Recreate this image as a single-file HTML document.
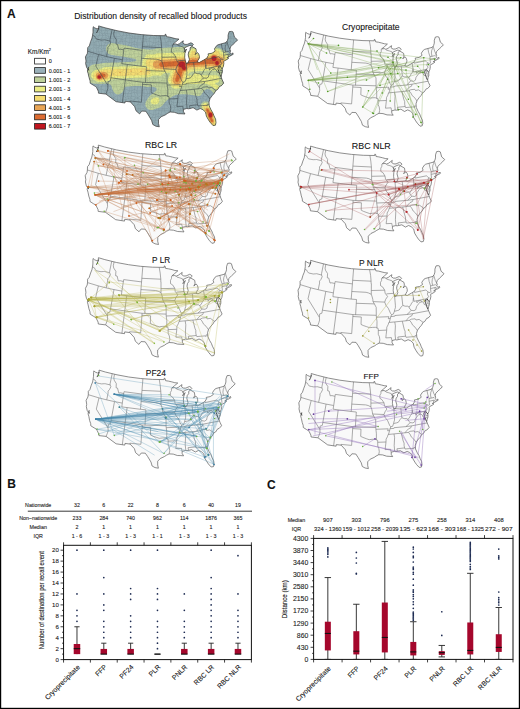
<!DOCTYPE html>
<html><head><meta charset="utf-8"><style>
html,body{margin:0;padding:0;background:#fff;}
svg{display:block;}
text{font-family:'Liberation Sans',sans-serif;stroke:#222;stroke-width:0.18px;stroke-opacity:0.6;}
</style></head><body>
<svg width="520" height="709" viewBox="0 0 520 709">
<rect x="0" y="0" width="520" height="709" fill="#fff"/>
<path d="M93.3,26.7L93.0,28.6L93.0,32.3L92.6,35.2L92.0,38.1L90.7,41.4L89.3,45.9L87.7,47.7L87.6,51.2L87.3,53.5L85.4,56.9L86.0,61.0L85.6,63.4L86.6,67.4L87.7,69.0L87.4,71.0L88.2,73.7L89.1,77.7L90.1,80.9L90.2,83.2L93.7,85.4L95.6,86.5L96.6,87.7L98.3,91.2L98.5,93.2L105.9,94.1L116.1,101.7L125.0,103.0L125.2,101.3L130.4,101.9L134.7,106.7L136.0,110.8L139.6,113.9L141.7,111.1L145.9,111.3L148.3,114.9L151.6,120.5L152.8,124.5L155.8,126.2L159.3,126.8L158.5,123.5L158.5,119.6L161.1,116.8L165.3,114.9L167.3,113.5L170.1,112.0L174.3,112.3L178.5,113.7L182.1,113.8L185.0,114.0L183.5,111.8L183.4,109.4L186.8,108.5L188.4,108.8L190.0,108.5L193.1,107.7L196.9,110.1L200.2,108.5L203.0,109.7L205.5,112.1L206.4,116.3L208.6,120.0L210.3,122.5L213.1,125.6L215.4,125.2L216.0,122.7L215.6,119.2L214.0,115.9L212.8,112.9L211.1,110.0L209.2,105.9L209.0,102.0L210.0,98.6L212.4,95.4L214.2,93.4L215.9,90.5L217.6,89.5L219.7,86.2L221.2,85.9L223.7,83.1L222.1,79.6L221.1,77.0L221.6,74.4L222.3,72.2L222.4,70.3L222.0,69.0L222.4,68.3L223.4,66.2L223.9,63.2L223.6,61.7L223.8,61.2L227.3,59.3L228.8,58.0L226.9,57.7L229.7,56.2L230.9,55.6L231.7,55.2L233.3,54.2L232.6,52.8L231.7,54.2L229.9,52.6L230.6,50.9L229.9,49.3L230.6,46.8L233.2,44.2L235.4,42.2L237.6,39.9L234.5,37.2L233.0,31.9L231.6,31.4L229.2,31.6L228.1,35.1L228.1,38.1L227.4,40.6L226.0,42.6L218.0,44.8L216.6,45.7L214.5,48.8L215.2,51.1L212.1,53.2L208.0,53.9L208.4,55.3L206.7,58.3L203.7,60.0L199.3,62.5L197.2,62.0L198.0,60.3L199.3,58.1L199.4,56.5L198.8,54.2L197.5,52.6L196.3,53.4L195.1,54.7L196.3,51.8L196.0,48.8L192.0,46.5L190.1,47.8L190.1,50.2L188.7,51.9L188.2,54.8L189.4,59.4L188.1,62.9L186.3,63.5L185.9,62.6L185.2,60.2L184.7,57.5L184.9,53.5L186.5,49.0L184.0,52.4L184.9,49.9L184.2,48.0L187.2,46.5L189.9,45.4L191.9,46.1L193.4,44.6L192.5,43.5L190.9,42.8L187.2,44.4L184.9,44.4L182.8,43.0L183.3,40.8L181.7,41.9L179.5,43.7L177.3,44.6L175.7,43.9L173.0,44.3L175.6,42.0L179.0,39.1L176.0,38.8L173.0,38.0L169.5,37.1L166.5,36.7L166.0,34.5L165.2,34.2L165.2,35.7L153.3,35.5L141.1,34.6L129.0,33.0L117.0,30.7L105.1,27.8L98.6,25.9L98.7,27.9L97.1,28.9L94.8,27.9Z" fill="#92abb2" stroke="none"/>
<clipPath id="us1"><path d="M93.3,26.7L93.0,28.6L93.0,32.3L92.6,35.2L92.0,38.1L90.7,41.4L89.3,45.9L87.7,47.7L87.6,51.2L87.3,53.5L85.4,56.9L86.0,61.0L85.6,63.4L86.6,67.4L87.7,69.0L87.4,71.0L88.2,73.7L89.1,77.7L90.1,80.9L90.2,83.2L93.7,85.4L95.6,86.5L96.6,87.7L98.3,91.2L98.5,93.2L105.9,94.1L116.1,101.7L125.0,103.0L125.2,101.3L130.4,101.9L134.7,106.7L136.0,110.8L139.6,113.9L141.7,111.1L145.9,111.3L148.3,114.9L151.6,120.5L152.8,124.5L155.8,126.2L159.3,126.8L158.5,123.5L158.5,119.6L161.1,116.8L165.3,114.9L167.3,113.5L170.1,112.0L174.3,112.3L178.5,113.7L182.1,113.8L185.0,114.0L183.5,111.8L183.4,109.4L186.8,108.5L188.4,108.8L190.0,108.5L193.1,107.7L196.9,110.1L200.2,108.5L203.0,109.7L205.5,112.1L206.4,116.3L208.6,120.0L210.3,122.5L213.1,125.6L215.4,125.2L216.0,122.7L215.6,119.2L214.0,115.9L212.8,112.9L211.1,110.0L209.2,105.9L209.0,102.0L210.0,98.6L212.4,95.4L214.2,93.4L215.9,90.5L217.6,89.5L219.7,86.2L221.2,85.9L223.7,83.1L222.1,79.6L221.1,77.0L221.6,74.4L222.3,72.2L222.4,70.3L222.0,69.0L222.4,68.3L223.4,66.2L223.9,63.2L223.6,61.7L223.8,61.2L227.3,59.3L228.8,58.0L226.9,57.7L229.7,56.2L230.9,55.6L231.7,55.2L233.3,54.2L232.6,52.8L231.7,54.2L229.9,52.6L230.6,50.9L229.9,49.3L230.6,46.8L233.2,44.2L235.4,42.2L237.6,39.9L234.5,37.2L233.0,31.9L231.6,31.4L229.2,31.6L228.1,35.1L228.1,38.1L227.4,40.6L226.0,42.6L218.0,44.8L216.6,45.7L214.5,48.8L215.2,51.1L212.1,53.2L208.0,53.9L208.4,55.3L206.7,58.3L203.7,60.0L199.3,62.5L197.2,62.0L198.0,60.3L199.3,58.1L199.4,56.5L198.8,54.2L197.5,52.6L196.3,53.4L195.1,54.7L196.3,51.8L196.0,48.8L192.0,46.5L190.1,47.8L190.1,50.2L188.7,51.9L188.2,54.8L189.4,59.4L188.1,62.9L186.3,63.5L185.9,62.6L185.2,60.2L184.7,57.5L184.9,53.5L186.5,49.0L184.0,52.4L184.9,49.9L184.2,48.0L187.2,46.5L189.9,45.4L191.9,46.1L193.4,44.6L192.5,43.5L190.9,42.8L187.2,44.4L184.9,44.4L182.8,43.0L183.3,40.8L181.7,41.9L179.5,43.7L177.3,44.6L175.7,43.9L173.0,44.3L175.6,42.0L179.0,39.1L176.0,38.8L173.0,38.0L169.5,37.1L166.5,36.7L166.0,34.5L165.2,34.2L165.2,35.7L153.3,35.5L141.1,34.6L129.0,33.0L117.0,30.7L105.1,27.8L98.6,25.9L98.7,27.9L97.1,28.9L94.8,27.9Z"/></clipPath>
<defs><pattern id="cty1" width="24" height="24" patternUnits="userSpaceOnUse"><path d="M0.29,0.58L1.83,-0.68M0.29,0.58L0.71,4.06M0.71,4.06L2.47,4.00M0.71,4.06L0.58,7.01M0.58,7.01L3.64,5.18M0.58,7.01L-1.13,8.92M-1.13,8.92L3.71,8.13M-1.13,8.92L1.06,12.36M1.06,12.36L3.28,11.10M1.06,12.36L0.96,14.07M0.96,14.07L1.80,15.89M0.96,14.07L-0.07,17.39M-0.07,17.39L2.30,17.32M-0.07,17.39L0.11,21.18M0.11,21.18L4.16,21.89M0.11,21.18L0.29,24.58M0.29,24.58L1.83,23.32M1.83,-0.68L5.49,1.11M1.83,-0.68L2.47,4.00M2.47,4.00L6.09,3.43M2.47,4.00L3.64,5.18M3.64,5.18L5.29,7.06M3.64,5.18L3.71,8.13M3.71,8.13L6.46,10.12M3.71,8.13L3.28,11.10M3.28,11.10L6.94,11.52M3.28,11.10L1.80,15.89M1.80,15.89L5.67,14.20M1.80,15.89L2.30,17.32M2.30,17.32L5.15,16.96M2.30,17.32L4.16,21.89M4.16,21.89L5.52,21.25M4.16,21.89L1.83,23.32M1.83,23.32L5.49,25.11M5.49,1.11L7.81,0.43M5.49,1.11L6.09,3.43M6.09,3.43L8.61,2.54M6.09,3.43L5.29,7.06M5.29,7.06L9.76,5.95M5.29,7.06L6.46,10.12M6.46,10.12L8.56,8.95M6.46,10.12L6.94,11.52M6.94,11.52L9.49,10.94M6.94,11.52L5.67,14.20M5.67,14.20L10.14,13.85M5.67,14.20L5.15,16.96M5.15,16.96L9.60,18.83M5.15,16.96L5.52,21.25M5.52,21.25L7.84,21.69M5.52,21.25L5.49,25.11M5.49,25.11L7.81,24.43M7.81,0.43L11.68,0.19M7.81,0.43L8.61,2.54M8.61,2.54L10.82,1.91M8.61,2.54L9.76,5.95M9.76,5.95L11.23,7.09M9.76,5.95L8.56,8.95M8.56,8.95L11.27,9.61M8.56,8.95L9.49,10.94M9.49,10.94L13.03,13.06M9.49,10.94L10.14,13.85M10.14,13.85L11.63,14.65M10.14,13.85L9.60,18.83M9.60,18.83L12.06,18.66M9.60,18.83L7.84,21.69M7.84,21.69L11.06,21.60M7.84,21.69L7.81,24.43M7.81,24.43L11.68,24.19M11.68,0.19L15.71,0.86M11.68,0.19L10.82,1.91M10.82,1.91L13.89,4.07M10.82,1.91L11.23,7.09M11.23,7.09L14.02,5.62M11.23,7.09L11.27,9.61M11.27,9.61L15.27,10.00M11.27,9.61L13.03,13.06M13.03,13.06L14.62,13.02M13.03,13.06L11.63,14.65M11.63,14.65L15.11,14.55M11.63,14.65L12.06,18.66M12.06,18.66L14.56,17.23M12.06,18.66L11.06,21.60M11.06,21.60L13.99,20.16M11.06,21.60L11.68,24.19M11.68,24.19L15.71,24.86M15.71,0.86L18.45,1.19M15.71,0.86L13.89,4.07M13.89,4.07L17.19,1.92M13.89,4.07L14.02,5.62M14.02,5.62L19.17,6.08M14.02,5.62L15.27,10.00M15.27,10.00L17.77,8.37M15.27,10.00L14.62,13.02M14.62,13.02L18.23,12.78M14.62,13.02L15.11,14.55M15.11,14.55L17.89,14.81M15.11,14.55L14.56,17.23M14.56,17.23L16.93,19.00M14.56,17.23L13.99,20.16M13.99,20.16L16.88,20.98M13.99,20.16L15.71,24.86M15.71,24.86L18.45,25.19M18.45,1.19L21.81,-0.89M18.45,1.19L17.19,1.92M17.19,1.92L21.56,4.08M17.19,1.92L19.17,6.08M19.17,6.08L21.31,6.69M19.17,6.08L17.77,8.37M17.77,8.37L20.06,8.84M17.77,8.37L18.23,12.78M18.23,12.78L20.16,12.83M18.23,12.78L17.89,14.81M17.89,14.81L20.51,14.89M17.89,14.81L16.93,19.00M16.93,19.00L22.20,18.85M16.93,19.00L16.88,20.98M16.88,20.98L22.14,20.89M16.88,20.98L18.45,25.19M18.45,25.19L21.81,23.11M21.81,-0.89L24.29,0.58M21.81,-0.89L21.56,4.08M21.56,4.08L24.71,4.06M21.56,4.08L21.31,6.69M21.31,6.69L24.58,7.01M21.31,6.69L20.06,8.84M20.06,8.84L22.87,8.92M20.06,8.84L20.16,12.83M20.16,12.83L25.06,12.36M20.16,12.83L20.51,14.89M20.51,14.89L24.96,14.07M20.51,14.89L22.20,18.85M22.20,18.85L23.93,17.39M22.20,18.85L22.14,20.89M22.14,20.89L24.11,21.18M22.14,20.89L21.81,23.11M21.81,23.11L24.29,24.58M24.29,0.58L24.71,4.06M24.71,4.06L24.58,7.01M24.58,7.01L22.87,8.92M22.87,8.92L25.06,12.36M25.06,12.36L24.96,14.07M24.96,14.07L23.93,17.39M23.93,17.39L24.11,21.18M24.11,21.18L24.29,24.58" stroke="#1e2a30" stroke-opacity="0.24" stroke-width="0.35" fill="none"/></pattern><pattern id="cty2" width="24" height="24" patternUnits="userSpaceOnUse"><path d="M-0.09,-0.30L4.49,-0.12M-0.09,-0.30L-0.87,4.88M-0.87,4.88L4.54,3.18M-0.87,4.88L-1.18,8.01M-1.18,8.01L3.37,7.07M-1.18,8.01L0.96,10.99M0.96,10.99L4.02,13.02M0.96,10.99L0.13,16.28M0.13,16.28L4.22,16.66M0.13,16.28L-1.10,19.71M-1.10,19.71L3.72,20.59M-1.10,19.71L-0.09,23.70M-0.09,23.70L4.49,23.88M4.49,-0.12L7.04,-0.50M4.49,-0.12L4.54,3.18M4.54,3.18L8.42,4.54M4.54,3.18L3.37,7.07M3.37,7.07L7.81,7.01M3.37,7.07L4.02,13.02M4.02,13.02L7.44,11.30M4.02,13.02L4.22,16.66M4.22,16.66L7.47,16.74M4.22,16.66L3.72,20.59M3.72,20.59L7.28,20.93M3.72,20.59L4.49,23.88M4.49,23.88L7.04,23.50M7.04,-0.50L12.91,-1.07M7.04,-0.50L8.42,4.54M8.42,4.54L11.71,3.98M8.42,4.54L7.81,7.01M7.81,7.01L10.86,7.82M7.81,7.01L7.44,11.30M7.44,11.30L12.98,11.07M7.44,11.30L7.47,16.74M7.47,16.74L12.23,15.09M7.47,16.74L7.28,20.93M7.28,20.93L12.19,20.95M7.28,20.93L7.04,23.50M7.04,23.50L12.91,22.93M12.91,-1.07L15.29,-1.18M12.91,-1.07L11.71,3.98M11.71,3.98L15.00,4.10M11.71,3.98L10.86,7.82M10.86,7.82L14.84,7.00M10.86,7.82L12.98,11.07M12.98,11.07L15.99,13.01M12.98,11.07L12.23,15.09M12.23,15.09L15.81,15.76M12.23,15.09L12.19,20.95M12.19,20.95L16.33,19.02M12.19,20.95L12.91,22.93M12.91,22.93L15.29,22.82M15.29,-1.18L20.19,-0.79M15.29,-1.18L15.00,4.10M15.00,4.10L20.26,5.10M15.00,4.10L14.84,7.00M14.84,7.00L18.93,8.13M14.84,7.00L15.99,13.01M15.99,13.01L20.26,11.16M15.99,13.01L15.81,15.76M15.81,15.76L19.44,17.19M15.81,15.76L16.33,19.02M16.33,19.02L21.20,19.09M16.33,19.02L15.29,22.82M15.29,22.82L20.19,23.21M20.19,-0.79L23.91,-0.30M20.19,-0.79L20.26,5.10M20.26,5.10L23.13,4.88M20.26,5.10L18.93,8.13M18.93,8.13L22.82,8.01M18.93,8.13L20.26,11.16M20.26,11.16L24.96,10.99M20.26,11.16L19.44,17.19M19.44,17.19L24.13,16.28M19.44,17.19L21.20,19.09M21.20,19.09L22.90,19.71M21.20,19.09L20.19,23.21M20.19,23.21L23.91,23.70M23.91,-0.30L23.13,4.88M23.13,4.88L22.82,8.01M22.82,8.01L24.96,10.99M24.96,10.99L24.13,16.28M24.13,16.28L22.90,19.71M22.90,19.71L23.91,23.70" stroke="#000" stroke-opacity="0.07" stroke-width="0.35" fill="none"/></pattern></defs>
<g clip-path="url(#us1)"><path d="M110.1,43.5L110.5,43.3L111.0,43.2L111.5,43.2L112.0,43.1L112.5,43.2L113.0,43.2L113.5,43.3L114.0,43.4L114.5,43.5L114.5,43.5L115.0,43.6L115.5,43.6L116.0,43.7L116.5,43.8L117.0,43.9L117.5,44.0L117.7,44.0L118.0,44.0L118.5,44.1L119.0,44.2L119.5,44.3L120.0,44.4L120.5,44.4L120.8,44.5L121.0,44.5L121.5,44.6L122.0,44.7L122.5,44.8L123.0,44.9L123.5,44.9L123.8,45.0L124.0,45.0L124.5,45.1L125.0,45.2L125.5,45.3L126.0,45.4L126.4,45.5L126.5,45.5L127.0,45.6L127.5,45.7L128.0,45.9L128.5,46.0L128.5,46.0L129.0,46.1L129.5,46.2L130.0,46.4L130.4,46.5L130.5,46.5L131.0,46.7L131.5,46.8L132.0,47.0L132.2,47.0L132.5,47.1L133.0,47.2L133.5,47.4L134.0,47.5L134.0,47.5L134.5,47.6L135.0,47.8L135.5,47.9L136.0,48.0L136.0,48.0L136.5,48.1L137.0,48.2L137.5,48.3L138.0,48.4L138.5,48.5L138.6,48.5L139.0,48.6L139.5,48.6L140.0,48.7L140.5,48.7L141.0,48.8L141.5,48.9L142.0,48.9L142.5,49.0L142.7,49.0L143.0,49.0L143.5,49.1L144.0,49.1L144.5,49.2L145.0,49.2L145.5,49.3L146.0,49.3L146.5,49.4L147.0,49.4L147.5,49.5L147.9,49.5L148.0,49.5L148.5,49.5L149.0,49.6L149.5,49.6L150.0,49.6L150.5,49.6L151.0,49.6L151.5,49.6L152.0,49.6L152.5,49.5L152.5,49.5L153.0,49.4L153.5,49.2L154.0,49.1L154.2,49.0L154.5,48.9L155.0,48.7L155.5,48.6L155.8,48.5L156.0,48.4L156.5,48.3L157.0,48.3L157.5,48.2L158.0,48.2L158.5,48.2L159.0,48.1L159.5,48.1L160.0,48.1L160.5,48.1L161.0,48.0L161.5,48.0L161.5,48.0L162.0,48.0L162.5,47.9L163.0,47.9L163.5,47.9L164.0,47.8L164.5,47.8L165.0,47.8L165.5,47.8L166.0,47.7L166.5,47.7L167.0,47.7L167.5,47.6L168.0,47.6L168.5,47.6L169.0,47.6L169.5,47.5L170.0,47.5L170.0,47.5L170.5,47.5L171.0,47.4L171.5,47.4L172.0,47.4L172.5,47.3L173.0,47.3L173.5,47.3L174.0,47.3L174.5,47.2L175.0,47.2L175.5,47.2L176.0,47.1L176.5,47.1L177.0,47.1L177.5,47.0L178.0,47.0L178.3,47.0L178.5,47.0L179.0,47.0L179.5,46.9L180.0,46.9L180.5,46.9L181.0,46.8L181.5,46.8L182.0,46.8L182.5,46.7L183.0,46.7L183.5,46.7L184.0,46.6L184.5,46.6L185.0,46.6L185.5,46.6L186.0,46.5L186.5,46.5L187.0,46.6L187.5,46.6L188.0,46.7L188.5,46.8L189.0,46.9L189.5,46.9L190.0,46.8L190.5,46.7L191.0,46.5L191.1,46.5L191.5,46.4L192.0,46.3L192.5,46.2L193.0,46.1L193.5,46.1L194.0,46.1L194.5,46.2L195.0,46.3L195.5,46.4L195.7,46.5L196.0,46.6L196.5,46.8L196.8,47.0L197.0,47.1L197.5,47.4L197.7,47.5L198.0,47.7L198.5,48.0L198.5,48.0L199.0,48.3L199.5,48.5L199.6,48.5L200.0,48.6L200.5,48.6L201.0,48.7L201.5,48.7L202.0,48.7L202.5,48.7L203.0,48.6L203.5,48.6L204.0,48.6L204.5,48.6L205.0,48.5L205.4,48.5L205.5,48.5L206.0,48.4L206.5,48.4L207.0,48.3L207.5,48.2L208.0,48.1L208.5,48.0L208.5,48.0L209.0,47.9L209.5,47.7L210.0,47.6L210.5,47.5L210.5,47.5L211.0,47.4L211.5,47.3L212.0,47.2L212.5,47.1L213.0,47.1L213.5,47.1L214.0,47.1L214.5,47.1L215.0,47.1L215.5,47.1L216.0,47.2L216.5,47.3L217.0,47.4L217.5,47.5L217.5,47.5L218.0,47.6L218.5,47.8L219.0,47.9L219.2,48.0L219.5,48.1L220.0,48.3L220.4,48.5L220.5,48.5L221.0,48.8L221.4,49.0L221.5,49.0L222.0,49.3L222.3,49.5L222.5,49.6L223.0,49.9L223.1,50.0L223.5,50.2L224.0,50.5L224.0,50.5L224.5,50.8L224.9,51.0L225.0,51.1L225.5,51.3L225.8,51.5L226.0,51.6L226.5,51.9L226.7,52.0L227.0,52.2L227.5,52.5L227.5,52.5L228.0,52.9L228.2,53.0L228.5,53.3L228.8,53.5L229.0,53.7L229.3,54.0L229.5,54.2L229.8,54.5L230.0,54.7L230.3,55.0L230.5,55.3L230.7,55.5L231.0,56.0L231.0,56.0L231.3,56.5L231.5,56.8L231.6,57.0L231.9,57.5L232.0,57.8L232.1,58.0L232.3,58.5L232.5,59.0L232.5,59.1L232.6,59.5L232.8,60.0L232.8,60.5L232.9,61.0L233.0,61.5L233.0,62.0L233.0,62.5L233.0,63.0L233.0,63.5L232.9,64.0L232.8,64.5L232.7,65.0L232.6,65.5L232.5,65.8L232.5,66.0L232.3,66.5L232.1,67.0L232.0,67.3L231.9,67.5L231.7,68.0L231.5,68.5L231.5,68.5L231.3,69.0L231.0,69.5L231.0,69.6L230.8,70.0L230.6,70.5L230.5,70.9L230.5,71.0L230.4,71.5L230.3,72.0L230.4,72.5L230.5,73.0L230.5,73.1L230.7,73.5L230.9,74.0L231.0,74.3L231.1,74.5L231.4,75.0L231.5,75.3L231.6,75.5L231.9,76.0L232.0,76.4L232.1,76.5L232.3,77.0L232.4,77.5L232.5,77.8L232.5,78.0L232.7,78.5L232.7,79.0L232.8,79.5L232.8,80.0L232.8,80.5L232.8,81.0L232.7,81.5L232.6,82.0L232.5,82.5L232.5,82.6L232.4,83.0L232.2,83.5L232.0,84.0L232.0,84.1L231.8,84.5L231.6,85.0L231.5,85.1L231.3,85.5L231.0,86.0L231.0,86.0L230.6,86.5L230.5,86.7L230.3,87.0L230.0,87.3L229.9,87.5L229.5,87.9L229.4,88.0L229.0,88.5L229.0,88.5L228.5,89.0L228.5,89.0L228.0,89.4L227.9,89.5L227.5,89.9L227.4,90.0L227.0,90.3L226.8,90.5L226.5,90.7L226.1,91.0L226.0,91.1L225.5,91.5L225.5,91.5L225.0,91.8L224.8,92.0L224.5,92.2L224.0,92.5L224.0,92.5L223.5,92.8L223.3,93.0L223.0,93.2L222.5,93.4L222.4,93.5L222.0,93.7L221.5,94.0L221.5,94.0L221.0,94.2L220.5,94.5L220.4,94.5L220.0,94.7L219.5,94.8L219.0,95.0L219.0,95.0L218.5,95.1L218.0,95.3L217.5,95.3L217.0,95.4L216.5,95.3L216.0,95.2L215.5,95.0L215.4,95.0L215.0,94.7L214.7,94.5L214.5,94.3L214.2,94.0L214.0,93.8L213.8,93.5L213.5,93.2L213.4,93.0L213.0,92.5L213.0,92.5L212.6,92.0L212.5,91.9L212.2,91.5L212.0,91.3L211.7,91.0L211.5,90.8L211.1,90.5L211.0,90.4L210.5,90.0L210.4,90.0L210.0,89.7L209.5,89.5L209.5,89.5L209.0,89.3L208.5,89.2L208.0,89.1L207.5,89.1L207.0,89.2L206.5,89.3L206.1,89.5L206.0,89.5L205.5,89.8L205.1,90.0L205.0,90.1L204.5,90.5L204.5,90.5L204.0,91.0L204.0,91.0L203.5,91.5L203.5,91.5L203.1,92.0L203.0,92.2L202.8,92.5L202.5,92.9L202.4,93.0L202.1,93.5L202.0,93.6L201.7,94.0L201.5,94.4L201.4,94.5L201.0,94.9L200.9,95.0L200.5,95.4L200.3,95.5L200.0,95.7L199.5,95.9L199.0,96.0L198.8,96.0L198.5,96.0L198.0,96.0L197.8,96.0L197.5,96.0L197.0,95.9L196.5,95.8L196.0,95.8L195.5,95.7L195.0,95.6L194.7,95.5L194.5,95.5L194.0,95.4L193.5,95.3L193.0,95.2L192.5,95.1L192.0,95.0L191.9,95.0L191.5,94.9L191.0,94.9L190.5,94.8L190.0,94.7L189.5,94.6L189.0,94.6L188.5,94.5L188.2,94.5L188.0,94.5L187.5,94.4L187.0,94.4L186.5,94.3L186.0,94.3L185.5,94.3L185.0,94.3L184.5,94.2L184.0,94.2L183.5,94.2L183.0,94.2L182.5,94.2L182.0,94.2L181.5,94.2L181.0,94.2L180.5,94.2L180.0,94.3L179.5,94.3L179.0,94.3L178.5,94.4L178.0,94.5L177.8,94.5L177.5,94.5L177.0,94.6L176.5,94.8L176.0,94.9L175.6,95.0L175.5,95.0L175.0,95.2L174.5,95.4L174.3,95.5L174.0,95.6L173.5,95.9L173.2,96.0L173.0,96.1L172.5,96.4L172.3,96.5L172.0,96.7L171.5,97.0L171.5,97.0L171.0,97.3L170.7,97.5L170.5,97.7L170.0,98.0L170.0,98.0L169.5,98.4L169.3,98.5L169.0,98.7L168.7,99.0L168.5,99.1L168.0,99.5L168.0,99.5L167.5,99.9L167.4,100.0L167.0,100.3L166.8,100.5L166.5,100.8L166.2,101.0L166.0,101.2L165.7,101.5L165.5,101.7L165.2,102.0L165.0,102.2L164.8,102.5L164.5,102.8L164.3,103.0L164.0,103.4L164.0,103.5L163.6,104.0L163.5,104.1L163.2,104.5L163.0,104.7L162.8,105.0L162.5,105.3L162.3,105.5L162.0,105.8L161.7,106.0L161.5,106.2L161.1,106.5L161.0,106.6L160.5,106.9L160.4,107.0L160.0,107.2L159.5,107.5L159.5,107.5L159.0,107.8L158.5,108.0L158.4,108.0L158.0,108.2L157.5,108.3L157.0,108.5L157.0,108.5L156.5,108.7L156.0,108.8L155.5,109.0L155.4,109.0L155.0,109.1L154.5,109.3L154.0,109.5L154.0,109.5L153.5,109.7L153.0,109.9L152.5,110.0L152.4,110.0L152.0,110.1L151.5,110.1L151.0,110.1L150.5,110.1L150.1,110.0L150.0,110.0L149.5,109.9L149.0,109.7L148.6,109.5L148.5,109.4L148.0,109.1L147.8,109.0L147.5,108.8L147.2,108.5L147.0,108.3L146.8,108.0L146.5,107.7L146.4,107.5L146.1,107.0L146.0,106.8L145.9,106.5L145.7,106.0L145.5,105.5L145.5,105.3L145.4,105.0L145.4,104.5L145.4,104.0L145.4,103.5L145.5,103.1L145.5,103.0L145.6,102.5L145.8,102.0L146.0,101.5L146.0,101.5L146.3,101.0L146.5,100.6L146.5,100.5L146.9,100.0L147.0,99.8L147.2,99.5L147.5,99.1L147.5,99.0L147.9,98.5L148.0,98.3L148.2,98.0L148.5,97.5L148.5,97.5L148.9,97.0L149.0,96.9L149.3,96.5L149.5,96.3L149.8,96.0L150.0,95.8L150.3,95.5L150.5,95.3L150.9,95.0L151.0,94.9L151.5,94.5L151.5,94.5L152.0,94.1L152.2,94.0L152.5,93.7L152.8,93.5L153.0,93.4L153.5,93.0L153.5,93.0L154.0,92.6L154.1,92.5L154.5,92.1L154.7,92.0L155.0,91.7L155.2,91.5L155.5,91.2L155.7,91.0L156.0,90.6L156.1,90.5L156.4,90.0L156.5,89.8L156.6,89.5L156.7,89.0L156.6,88.5L156.5,88.4L156.1,88.0L156.0,87.9L155.5,87.6L155.3,87.5L155.0,87.4L154.5,87.2L154.0,87.0L153.9,87.0L153.5,86.9L153.0,86.8L152.5,86.8L152.0,86.7L151.5,86.7L151.0,86.7L150.5,86.7L150.0,86.8L149.5,86.9L149.0,87.0L148.9,87.0L148.5,87.0L148.0,87.1L147.5,87.1L147.1,87.0L147.0,87.0L146.5,86.9L146.0,86.8L145.5,86.7L145.0,86.6L144.5,86.5L144.3,86.5L144.0,86.5L143.5,86.4L143.0,86.3L142.5,86.3L142.0,86.2L141.5,86.2L141.0,86.1L140.5,86.1L140.0,86.1L139.5,86.0L139.0,86.0L138.5,86.0L138.1,86.0L138.0,86.0L137.5,86.0L137.0,86.0L136.5,86.0L136.5,86.0L136.0,86.0L135.5,86.0L135.0,86.0L134.5,86.1L134.0,86.1L133.5,86.1L133.0,86.2L132.5,86.2L132.0,86.2L131.5,86.2L131.0,86.3L130.5,86.3L130.0,86.3L129.5,86.4L129.0,86.4L128.5,86.4L128.0,86.5L127.5,86.5L127.5,86.5L127.0,86.6L126.5,86.6L126.0,86.7L125.5,86.9L125.2,87.0L125.0,87.2L124.7,87.5L124.5,87.8L124.4,88.0L124.2,88.5L124.1,89.0L124.0,89.1L123.9,89.5L123.7,90.0L123.5,90.4L123.4,90.5L123.2,91.0L123.0,91.3L122.9,91.5L122.5,92.0L122.5,92.0L122.1,92.5L122.0,92.6L121.6,93.0L121.5,93.1L121.0,93.4L120.9,93.5L120.5,93.8L120.0,94.0L120.0,94.0L119.5,94.2L119.0,94.3L118.5,94.4L118.0,94.5L117.5,94.4L117.0,94.4L116.5,94.2L116.0,94.0L116.0,94.0L115.5,93.7L115.2,93.5L115.0,93.3L114.7,93.0L114.5,92.8L114.2,92.5L114.0,92.2L113.9,92.0L113.5,91.5L113.5,91.5L113.2,91.0L113.0,90.5L113.0,90.5L112.8,90.0L112.6,89.5L112.5,89.3L112.4,89.0L112.2,88.5L112.1,88.0L112.0,87.8L111.9,87.5L111.8,87.0L111.6,86.5L111.5,86.1L111.5,86.0L111.2,85.5L111.0,85.2L110.8,85.0L110.5,84.8L110.0,84.5L110.0,84.5L109.5,84.2L109.2,84.0L109.0,83.9L108.5,83.7L108.0,83.6L107.5,83.6L107.0,83.6L106.5,83.6L106.0,83.6L105.5,83.7L105.0,83.7L104.5,83.7L104.0,83.8L103.5,83.8L103.0,83.8L102.5,83.8L102.0,83.9L101.5,83.9L101.0,83.9L100.5,83.9L100.0,83.9L99.5,83.9L99.0,83.9L98.5,83.9L98.0,83.8L97.5,83.8L97.0,83.8L96.5,83.8L96.0,83.8L95.5,83.7L95.0,83.7L94.5,83.6L94.0,83.6L93.5,83.5L93.5,83.5L93.0,83.4L92.5,83.3L92.0,83.2L91.5,83.0L91.5,83.0L91.0,82.8L90.5,82.6L90.3,82.5L90.0,82.3L89.5,82.0L89.5,82.0L89.0,81.6L88.8,81.5L88.5,81.2L88.3,81.0L88.0,80.7L87.8,80.5L87.5,80.1L87.4,80.0L87.0,79.5L87.0,79.4L86.7,79.0L86.5,78.6L86.5,78.5L86.2,78.0L86.0,77.5L86.0,77.4L85.9,77.0L85.8,76.5L85.7,76.0L85.6,75.5L85.6,75.0L85.6,74.5L85.6,74.0L85.7,73.5L85.8,73.0L85.9,72.5L86.0,72.0L86.0,72.0L86.2,71.5L86.3,71.0L86.5,70.7L86.6,70.5L86.8,70.0L87.0,69.7L87.1,69.5L87.4,69.0L87.5,68.8L87.7,68.5L88.0,68.2L88.1,68.0L88.5,67.6L88.6,67.5L89.0,67.1L89.1,67.0L89.5,66.6L89.6,66.5L90.0,66.2L90.3,66.0L90.5,65.8L91.0,65.5L91.1,65.5L91.5,65.3L92.0,65.0L92.1,65.0L92.5,64.8L93.0,64.6L93.5,64.5L93.5,64.5L94.0,64.4L94.5,64.3L95.0,64.2L95.5,64.1L96.0,64.1L96.5,64.1L97.0,64.0L97.2,64.0L97.5,64.0L98.0,63.9L98.5,63.8L99.0,63.8L99.5,63.7L100.0,63.6L100.5,63.5L100.8,63.5L101.0,63.5L101.5,63.4L102.0,63.3L102.5,63.2L103.0,63.1L103.5,63.0L103.8,63.0L104.0,63.0L104.5,62.9L105.0,62.9L105.5,62.8L106.0,62.8L106.5,62.8L107.0,62.8L107.5,62.8L108.0,62.7L108.5,62.7L109.0,62.7L109.5,62.7L110.0,62.7L110.5,62.7L111.0,62.6L111.5,62.6L112.0,62.6L112.5,62.6L113.0,62.6L113.5,62.6L114.0,62.6L114.5,62.5L115.0,62.5L115.5,62.5L115.7,62.5L116.0,62.5L116.5,62.5L117.0,62.4L117.5,62.4L118.0,62.4L118.5,62.4L119.0,62.4L119.5,62.3L120.0,62.3L120.5,62.3L121.0,62.3L121.5,62.3L122.0,62.2L122.5,62.2L123.0,62.2L123.5,62.2L124.0,62.2L124.5,62.1L125.0,62.1L125.5,62.1L126.0,62.1L126.5,62.1L127.0,62.0L127.5,62.0L128.0,62.0L128.1,62.0L128.5,62.0L129.0,62.0L129.5,61.9L130.0,61.9L130.5,61.9L131.0,61.8L131.5,61.8L132.0,61.8L132.5,61.7L133.0,61.7L133.5,61.6L134.0,61.6L134.3,61.5L134.5,61.5L135.0,61.3L135.5,61.1L135.8,61.0L136.0,60.8L136.3,60.5L136.4,60.0L136.1,59.5L136.0,59.5L135.5,59.2L135.1,59.0L135.0,59.0L134.5,58.9L134.0,58.7L133.5,58.6L133.2,58.5L133.0,58.5L132.5,58.4L132.0,58.3L131.5,58.2L131.0,58.1L130.6,58.0L130.5,58.0L130.0,57.9L129.5,57.8L129.0,57.8L128.5,57.7L128.0,57.6L127.7,57.5L127.5,57.5L127.0,57.4L126.5,57.3L126.0,57.2L125.5,57.2L125.0,57.1L124.7,57.0L124.5,57.0L124.0,56.9L123.5,56.8L123.0,56.7L122.5,56.7L122.0,56.6L121.7,56.5L121.5,56.5L121.0,56.4L120.5,56.3L120.0,56.2L119.5,56.2L119.0,56.1L118.6,56.0L118.5,56.0L118.0,55.9L117.5,55.8L117.0,55.8L116.5,55.7L116.0,55.6L115.6,55.5L115.5,55.5L115.0,55.4L114.5,55.3L114.0,55.3L113.5,55.2L113.0,55.1L112.5,55.0L112.5,55.0L112.0,54.9L111.5,54.9L111.0,54.8L110.5,54.7L110.0,54.5L110.0,54.5L109.5,54.3L109.0,54.0L109.0,54.0L108.5,53.7L108.3,53.5L108.0,53.3L107.7,53.0L107.5,52.7L107.3,52.5L107.0,52.0L107.0,52.0L106.7,51.5L106.5,51.0L106.5,50.9L106.3,50.5L106.2,50.0L106.2,49.5L106.1,49.0L106.2,48.5L106.2,48.0L106.3,47.5L106.5,47.1L106.5,47.0L106.7,46.5L107.0,46.0L107.0,46.0L107.3,45.5L107.5,45.3L107.7,45.0L108.0,44.7L108.3,44.5L108.5,44.3L109.0,44.0L109.0,44.0L109.5,43.7L110.0,43.5L110.1,43.5ZM204.5,101.5L205.0,101.4L205.5,101.4L206.0,101.4L206.5,101.5L206.6,101.5L207.0,101.6L207.5,101.7L208.0,101.9L208.2,102.0L208.5,102.2L209.0,102.5L209.0,102.5L209.5,102.9L209.6,103.0L210.0,103.4L210.1,103.5L210.4,104.0L210.5,104.1L210.8,104.5L211.0,104.9L211.1,105.0L211.5,105.5L211.5,105.6L211.9,106.0L212.0,106.2L212.3,106.5L212.5,106.9L212.6,107.0L212.9,107.5L213.0,107.6L213.3,108.0L213.5,108.3L213.6,108.5L214.0,109.0L214.0,109.0L214.4,109.5L214.5,109.6L214.8,110.0L215.0,110.4L215.1,110.5L215.4,111.0L215.5,111.4L215.5,111.5L215.8,112.0L215.9,112.5L216.0,113.0L216.0,113.0L216.2,113.5L216.3,114.0L216.3,114.5L216.4,115.0L216.4,115.5L216.5,116.0L216.5,116.1L216.6,116.5L216.8,117.0L216.9,117.5L217.0,117.8L217.1,118.0L217.3,118.5L217.5,119.0L217.5,119.1L217.7,119.5L217.8,120.0L217.9,120.5L218.0,121.0L218.0,121.0L218.1,121.5L218.3,122.0L218.4,122.5L218.5,123.0L218.5,123.5L218.5,124.0L218.5,124.0L218.5,124.0L218.5,124.5L218.4,125.0L218.3,125.5L218.1,126.0L218.0,126.2L217.9,126.5L217.6,127.0L217.5,127.1L217.2,127.5L217.0,127.8L216.8,128.0L216.5,128.2L216.1,128.5L216.0,128.6L215.5,128.9L215.2,129.0L215.0,129.1L214.5,129.3L214.0,129.4L213.5,129.5L213.0,129.5L212.5,129.5L212.0,129.4L211.5,129.3L211.0,129.1L210.8,129.0L210.5,128.9L210.0,128.6L209.9,128.5L209.5,128.3L209.2,128.0L209.0,127.8L208.7,127.5L208.5,127.2L208.3,127.0L208.0,126.5L208.0,126.4L207.8,126.0L207.5,125.5L207.5,125.4L207.2,125.0L207.0,124.5L207.0,124.5L206.7,124.0L206.5,123.5L206.5,123.5L206.3,123.0L206.1,122.5L206.0,122.3L205.8,122.0L205.6,121.5L205.5,121.2L205.4,121.0L205.2,120.5L205.0,120.0L205.0,120.0L204.7,119.5L204.5,119.0L204.5,118.9L204.3,118.5L204.1,118.0L204.0,117.7L203.9,117.5L203.7,117.0L203.5,116.5L203.5,116.4L203.3,116.0L203.1,115.5L203.0,115.2L202.9,115.0L202.7,114.5L202.5,114.0L202.5,113.9L202.3,113.5L202.1,113.0L202.0,112.6L201.9,112.5L201.7,112.0L201.6,111.5L201.5,111.2L201.4,111.0L201.2,110.5L201.1,110.0L201.0,109.6L201.0,109.5L200.8,109.0L200.6,108.5L200.5,108.0L200.5,107.8L200.4,107.5L200.4,107.0L200.4,106.5L200.5,106.0L200.5,105.8L200.5,105.5L200.7,105.0L200.9,104.5L201.0,104.2L201.1,104.0L201.4,103.5L201.5,103.4L201.8,103.0L202.0,102.8L202.4,102.5L202.5,102.4L203.0,102.0L203.1,102.0L203.5,101.8L204.0,101.6L204.5,101.5L204.5,101.5Z" fill="#bfd19b" fill-rule="evenodd"/>
<path d="M191.8,49.0L192.0,48.9L192.5,48.7L193.0,48.6L193.5,48.6L194.0,48.6L194.5,48.7L195.0,48.9L195.2,49.0L195.5,49.2L195.9,49.5L196.0,49.5L196.5,50.0L196.5,50.0L196.9,50.5L197.0,50.7L197.2,51.0L197.5,51.4L197.5,51.5L197.8,52.0L198.0,52.3L198.3,52.5L198.5,52.7L199.0,52.8L199.5,52.8L200.0,52.8L200.5,52.8L201.0,52.8L201.5,52.8L202.0,52.8L202.5,52.7L203.0,52.7L203.5,52.7L204.0,52.7L204.5,52.6L205.0,52.6L205.5,52.6L206.0,52.6L206.5,52.5L207.0,52.5L207.0,52.5L207.5,52.5L208.0,52.4L208.5,52.3L209.0,52.1L209.2,52.0L209.5,51.8L209.8,51.5L210.0,51.3L210.2,51.0L210.5,50.8L210.8,50.5L211.0,50.4L211.5,50.0L211.6,50.0L212.0,49.8L212.5,49.6L212.7,49.5L213.0,49.4L213.5,49.3L214.0,49.2L214.5,49.1L215.0,49.0L215.5,49.0L216.0,49.0L216.5,49.0L217.0,49.1L217.5,49.2L218.0,49.3L218.5,49.4L218.8,49.5L219.0,49.6L219.5,49.8L219.9,50.0L220.0,50.1L220.5,50.4L220.7,50.5L221.0,50.8L221.2,51.0L221.5,51.3L221.7,51.5L222.0,51.8L222.2,52.0L222.5,52.2L223.0,52.5L223.0,52.5L223.5,52.7L224.0,52.9L224.1,53.0L224.5,53.2L225.0,53.4L225.2,53.5L225.5,53.7L226.0,54.0L226.0,54.0L226.5,54.4L226.6,54.5L227.0,54.9L227.2,55.0L227.5,55.4L227.6,55.5L228.0,56.0L228.0,56.0L228.3,56.5L228.5,56.8L228.6,57.0L228.8,57.5L229.0,57.9L229.0,58.0L229.2,58.5L229.3,59.0L229.4,59.5L229.4,60.0L229.4,60.5L229.4,61.0L229.4,61.5L229.3,62.0L229.2,62.5L229.1,63.0L229.0,63.1L228.9,63.5L228.7,64.0L228.5,64.3L228.4,64.5L228.1,65.0L228.0,65.2L227.8,65.5L227.5,65.9L227.4,66.0L227.0,66.5L227.0,66.5L226.5,67.0L226.5,67.0L226.0,67.5L226.0,67.5L225.5,67.9L225.3,68.0L225.0,68.2L224.5,68.5L224.5,68.5L224.0,68.8L223.6,69.0L223.5,69.0L223.0,69.2L222.5,69.4L222.1,69.5L222.0,69.5L221.5,69.7L221.0,69.8L220.5,69.9L220.0,69.9L219.7,70.0L219.5,70.1L219.0,70.2L218.5,70.3L218.0,70.4L217.5,70.5L217.3,70.5L217.0,70.5L216.5,70.6L216.0,70.7L215.5,70.7L215.0,70.7L214.5,70.7L214.0,70.6L213.5,70.6L213.0,70.5L212.6,70.5L212.5,70.5L212.0,70.5L211.5,70.4L211.0,70.4L210.5,70.4L210.0,70.4L209.5,70.4L209.0,70.5L208.5,70.5L208.1,70.5L208.0,70.5L207.5,70.5L207.0,70.6L206.5,70.6L206.0,70.6L205.5,70.7L205.0,70.7L204.5,70.7L204.0,70.8L203.5,70.8L203.0,70.8L202.5,70.9L202.0,70.9L201.5,70.9L201.0,71.0L200.5,71.0L200.2,71.0L200.0,71.0L199.5,71.1L199.0,71.1L198.5,71.1L198.0,71.2L197.5,71.2L197.0,71.2L196.5,71.3L196.0,71.3L195.5,71.4L195.0,71.4L194.5,71.4L194.0,71.4L193.5,71.5L193.0,71.5L192.9,71.5L192.5,71.6L192.0,71.6L191.5,71.8L191.0,71.9L190.8,72.0L190.5,72.2L190.0,72.5L189.9,72.5L189.5,72.8L189.3,73.0L189.0,73.3L188.7,73.5L188.5,73.8L188.3,74.0L188.1,74.5L188.0,75.0L188.5,75.4L188.9,75.5L189.0,75.5L189.5,75.5L190.0,75.5L190.5,75.5L190.6,75.5L191.0,75.5L191.5,75.5L192.0,75.4L192.5,75.3L193.0,75.2L193.2,75.0L193.5,74.6L193.5,74.5L193.8,74.0L194.0,73.8L194.2,73.5L194.5,73.2L194.9,73.0L195.0,72.9L195.5,72.7L196.0,72.7L196.5,72.7L197.0,72.9L197.1,73.0L197.5,73.2L198.0,73.5L198.0,73.5L198.5,73.8L198.9,74.0L199.0,74.0L199.5,74.3L200.0,74.5L200.0,74.5L200.5,74.7L201.0,74.9L201.4,75.0L201.5,75.0L202.0,75.1L202.5,75.2L203.0,75.3L203.5,75.3L204.0,75.3L204.5,75.3L205.0,75.3L205.5,75.3L206.0,75.3L206.5,75.3L207.0,75.3L207.5,75.3L208.0,75.3L208.5,75.3L209.0,75.3L209.5,75.3L210.0,75.3L210.5,75.3L211.0,75.3L211.5,75.3L212.0,75.3L212.5,75.3L213.0,75.3L213.5,75.3L214.0,75.3L214.5,75.3L215.0,75.3L215.5,75.3L216.0,75.2L216.5,75.3L217.0,75.4L217.3,75.5L217.5,75.6L218.0,75.8L218.2,76.0L218.5,76.2L218.8,76.5L219.0,76.8L219.2,77.0L219.4,77.5L219.5,77.7L219.6,78.0L219.7,78.5L219.7,79.0L219.7,79.5L219.6,80.0L219.5,80.3L219.4,80.5L219.2,81.0L219.0,81.2L218.8,81.5L218.5,81.8L218.2,82.0L218.0,82.2L217.5,82.4L217.4,82.5L217.0,82.6L216.5,82.8L216.0,82.8L215.5,82.9L215.0,83.0L215.0,83.0L214.9,83.5L215.0,83.6L215.5,84.0L215.5,84.0L216.0,84.4L216.2,84.5L216.5,84.7L217.0,85.0L217.0,85.0L217.5,85.3L217.8,85.5L218.0,85.6L218.5,85.9L218.6,86.0L219.0,86.2L219.4,86.5L219.5,86.6L219.8,87.0L220.0,87.5L220.0,87.8L220.0,88.0L220.0,88.2L220.0,88.5L219.7,89.0L219.5,89.3L219.3,89.5L219.0,89.7L218.5,90.0L218.2,90.0L218.0,90.0L217.8,90.0L217.5,90.0L217.0,89.7L216.6,89.5L216.5,89.5L216.0,89.2L215.7,89.0L215.5,88.8L215.0,88.6L214.9,88.5L214.5,88.2L214.1,88.0L214.0,87.9L213.5,87.6L213.3,87.5L213.0,87.3L212.5,87.0L212.5,87.0L212.0,86.7L211.6,86.5L211.5,86.4L211.0,86.1L210.8,86.0L210.5,85.8L210.0,85.5L209.9,85.5L209.5,85.3L209.0,85.0L209.0,85.0L208.5,84.7L208.1,84.5L208.0,84.5L207.5,84.2L207.0,84.0L206.9,84.0L206.5,83.8L206.0,83.7L205.5,83.6L205.2,83.5L205.0,83.5L204.5,83.4L204.0,83.4L203.5,83.4L203.0,83.4L202.5,83.5L202.0,83.5L201.9,83.5L201.5,83.5L201.0,83.6L200.5,83.6L200.0,83.7L199.5,83.7L199.0,83.7L198.5,83.8L198.0,83.8L197.5,83.8L197.0,83.9L196.5,83.9L196.0,83.9L195.5,83.9L195.0,84.0L194.5,84.0L194.0,84.0L193.5,84.0L193.0,84.0L192.9,84.0L192.5,84.0L192.0,84.0L191.5,84.0L191.0,84.0L190.5,84.0L190.0,84.0L189.5,84.0L189.0,84.0L188.5,84.0L188.0,84.0L187.5,84.0L187.0,84.0L186.5,84.0L186.0,84.1L185.5,84.2L185.0,84.3L184.7,84.5L184.5,84.7L184.1,85.0L184.0,85.1L183.6,85.5L183.5,85.6L183.1,86.0L183.0,86.0L182.5,86.5L182.5,86.5L182.0,86.8L181.8,87.0L181.5,87.2L181.0,87.4L180.9,87.5L180.5,87.7L180.0,87.9L179.7,88.0L179.5,88.1L179.0,88.2L178.5,88.3L178.0,88.4L177.5,88.5L177.5,88.5L177.0,88.5L176.5,88.6L176.0,88.6L175.5,88.6L175.0,88.5L174.7,88.5L174.5,88.5L174.0,88.4L173.5,88.3L173.0,88.2L172.8,88.0L172.5,87.8L172.2,87.5L172.0,87.3L171.8,87.0L171.5,86.7L171.4,86.5L171.0,86.1L171.0,86.0L170.6,85.5L170.5,85.4L170.2,85.0L170.0,84.7L169.9,84.5L169.6,84.0L169.5,83.9L169.3,83.5L169.0,83.0L169.0,82.9L168.8,82.5L168.5,82.0L168.5,81.9L168.2,81.5L168.0,81.1L167.9,81.0L167.6,80.5L167.5,80.2L167.4,80.0L167.5,79.8L167.6,79.5L167.9,79.0L168.0,78.9L168.2,78.5L168.5,78.1L168.5,78.0L168.8,77.5L169.0,77.1L169.0,77.0L169.2,76.5L169.4,76.0L169.5,75.8L169.6,75.5L169.7,75.0L169.9,74.5L170.0,74.0L170.0,74.0L170.1,73.5L170.0,73.1L169.9,73.0L169.5,72.8L169.0,72.7L168.5,72.7L168.0,72.7L167.5,72.8L167.0,72.8L166.5,72.8L166.0,72.8L165.5,72.9L165.0,72.9L164.5,73.0L164.5,73.0L164.0,73.1L163.5,73.4L163.3,73.5L163.0,73.8L162.8,74.0L162.5,74.4L162.4,74.5L162.0,74.9L161.9,75.0L161.5,75.3L161.2,75.5L161.0,75.6L160.5,75.7L160.0,75.8L159.5,75.7L159.0,75.7L158.5,75.7L158.0,75.6L157.5,75.6L157.0,75.6L156.5,75.5L156.0,75.5L155.7,75.5L155.5,75.5L155.0,75.5L154.5,75.5L154.0,75.5L153.7,75.5L153.5,75.5L153.0,75.6L152.5,75.7L152.0,75.9L151.7,76.0L151.5,76.1L151.0,76.4L150.8,76.5L150.5,76.7L150.0,76.9L149.8,77.0L149.5,77.1L149.0,77.3L148.5,77.4L148.0,77.5L147.5,77.5L147.0,77.5L146.5,77.5L146.0,77.5L145.5,77.5L145.0,77.5L144.5,77.5L144.3,77.5L144.0,77.5L143.5,77.5L143.0,77.5L142.5,77.5L142.0,77.6L141.5,77.6L141.0,77.6L140.5,77.6L140.0,77.6L139.5,77.7L139.0,77.7L138.5,77.7L138.0,77.7L137.5,77.7L137.0,77.7L136.5,77.8L136.0,77.8L135.5,77.8L135.0,77.8L134.5,77.8L134.0,77.9L133.5,77.9L133.0,77.9L132.5,77.9L132.0,78.0L131.5,78.0L131.0,78.0L130.8,78.0L130.5,78.0L130.0,78.0L129.5,78.1L129.0,78.1L128.5,78.1L128.0,78.1L127.5,78.1L127.0,78.2L126.5,78.2L126.0,78.2L125.5,78.2L125.0,78.2L124.5,78.3L124.0,78.3L123.5,78.3L123.0,78.3L122.5,78.3L122.0,78.4L121.5,78.4L121.0,78.4L120.5,78.4L120.0,78.4L119.5,78.5L119.0,78.5L118.5,78.5L118.5,78.5L118.0,78.5L117.5,78.5L117.0,78.6L116.5,78.6L116.0,78.6L115.5,78.6L115.0,78.7L114.5,78.7L114.0,78.7L113.5,78.8L113.0,78.8L112.5,78.9L112.3,79.0L112.0,79.1L111.5,79.3L111.2,79.5L111.0,79.6L110.5,79.8L110.2,80.0L110.0,80.1L109.5,80.3L109.2,80.5L109.0,80.6L108.5,80.8L108.0,81.0L108.0,81.0L107.5,81.2L107.0,81.3L106.5,81.5L106.4,81.5L106.0,81.6L105.5,81.7L105.0,81.8L104.5,81.9L104.0,81.9L103.5,82.0L103.3,82.0L103.0,82.0L102.5,82.0L102.0,82.1L101.5,82.0L101.0,82.0L100.5,82.0L100.4,82.0L100.0,82.0L99.5,81.9L99.0,81.9L98.5,81.8L98.0,81.7L97.5,81.5L97.4,81.5L97.0,81.4L96.5,81.2L96.0,81.0L96.0,81.0L95.5,80.8L95.0,80.5L94.9,80.5L94.5,80.3L94.1,80.0L94.0,80.0L93.5,79.6L93.4,79.5L93.0,79.2L92.8,79.0L92.5,78.7L92.3,78.5L92.0,78.1L92.0,78.0L91.7,77.5L91.5,77.1L91.4,77.0L91.3,76.5L91.2,76.0L91.1,75.5L91.2,75.0L91.2,74.5L91.4,74.0L91.5,73.7L91.6,73.5L91.8,73.0L92.0,72.8L92.2,72.5L92.5,72.1L92.6,72.0L93.0,71.6L93.1,71.5L93.5,71.2L93.8,71.0L94.0,70.9L94.5,70.6L94.6,70.5L95.0,70.3L95.5,70.1L95.7,70.0L96.0,69.9L96.5,69.7L97.0,69.5L97.1,69.5L97.5,69.4L98.0,69.3L98.5,69.2L99.0,69.1L99.4,69.0L99.5,69.0L100.0,68.9L100.5,68.8L101.0,68.7L101.5,68.6L101.7,68.5L102.0,68.4L102.5,68.1L102.7,68.0L103.0,67.9L103.5,67.6L103.9,67.5L104.0,67.4L104.5,67.3L105.0,67.2L105.5,67.1L106.0,67.1L106.5,67.1L107.0,67.1L107.5,67.1L108.0,67.0L108.5,67.0L109.0,67.0L109.4,67.0L109.5,67.0L110.0,67.0L110.5,67.0L111.0,66.9L111.5,66.9L112.0,66.9L112.5,66.9L113.0,66.9L113.5,66.8L114.0,66.8L114.5,66.8L115.0,66.8L115.5,66.8L116.0,66.8L116.5,66.7L117.0,66.7L117.5,66.7L118.0,66.7L118.5,66.7L119.0,66.6L119.5,66.6L120.0,66.6L120.5,66.6L121.0,66.6L121.5,66.6L122.0,66.5L122.5,66.5L123.0,66.5L123.1,66.5L123.5,66.5L124.0,66.5L124.5,66.4L125.0,66.4L125.5,66.4L126.0,66.4L126.5,66.4L127.0,66.4L127.5,66.3L128.0,66.3L128.5,66.3L129.0,66.3L129.5,66.3L130.0,66.2L130.5,66.2L131.0,66.2L131.5,66.2L132.0,66.2L132.5,66.2L133.0,66.1L133.5,66.1L134.0,66.1L134.5,66.1L135.0,66.1L135.5,66.0L136.0,66.0L136.5,66.0L136.8,66.0L137.0,66.0L137.5,66.0L138.0,66.0L138.5,65.9L139.0,65.9L139.5,65.9L140.0,65.9L140.5,65.8L141.0,65.8L141.5,65.7L142.0,65.5L142.0,65.5L142.4,65.0L142.4,64.5L142.4,64.0L142.4,63.5L142.4,63.0L142.4,62.5L142.5,62.0L142.5,61.8L142.5,61.5L142.7,61.0L142.8,60.5L143.0,60.0L143.0,60.0L143.2,59.5L143.5,59.0L143.5,59.0L143.8,58.5L144.0,58.3L144.2,58.0L144.5,57.6L144.6,57.5L145.0,57.1L145.1,57.0L145.5,56.5L145.5,56.5L145.8,56.0L146.0,55.6L146.1,55.5L146.3,55.0L146.5,54.8L147.0,54.5L147.1,54.5L147.5,54.4L148.0,54.4L148.5,54.3L149.0,54.3L149.5,54.3L150.0,54.3L150.5,54.3L151.0,54.4L151.5,54.4L152.0,54.4L152.5,54.4L153.0,54.4L153.5,54.3L154.0,54.3L154.5,54.2L155.0,54.1L155.5,54.0L155.5,54.0L156.0,53.8L156.5,53.6L156.8,53.5L157.0,53.4L157.5,53.3L158.0,53.2L158.5,53.2L159.0,53.2L159.5,53.2L160.0,53.2L160.5,53.2L161.0,53.2L161.5,53.2L162.0,53.2L162.5,53.2L163.0,53.2L163.5,53.2L164.0,53.2L164.5,53.2L165.0,53.2L165.5,53.2L166.0,53.1L166.5,53.1L167.0,53.1L167.5,53.1L168.0,53.1L168.5,53.0L169.0,53.0L169.4,53.0L169.5,53.0L170.0,53.0L170.5,53.0L171.0,52.9L171.5,52.9L172.0,52.9L172.5,52.9L173.0,52.8L173.5,52.8L174.0,52.8L174.5,52.8L175.0,52.7L175.5,52.7L176.0,52.7L176.5,52.7L177.0,52.6L177.5,52.6L178.0,52.6L178.5,52.6L179.0,52.5L179.5,52.5L180.0,52.5L180.1,52.5L180.5,52.5L181.0,52.5L181.5,52.4L182.0,52.4L182.5,52.4L183.0,52.4L183.5,52.4L184.0,52.3L184.5,52.3L185.0,52.3L185.5,52.3L186.0,52.2L186.5,52.4L186.7,52.5L187.0,52.6L187.5,52.8L188.0,52.9L188.5,52.7L188.7,52.5L189.0,52.2L189.1,52.0L189.4,51.5L189.5,51.3L189.7,51.0L190.0,50.6L190.1,50.5L190.5,50.0L190.5,50.0L191.0,49.5L191.1,49.5L191.5,49.2L191.8,49.0ZM155.3,97.5L155.5,97.5L156.0,97.5L156.3,97.5L156.5,97.5L157.0,97.6L157.5,97.7L158.0,97.8L158.4,98.0L158.5,98.1L158.9,98.5L159.0,98.8L159.1,99.0L159.2,99.5L159.3,100.0L159.3,100.5L159.2,101.0L159.1,101.5L159.0,101.8L158.9,102.0L158.7,102.5L158.5,102.7L158.3,103.0L158.0,103.2L157.7,103.5L157.5,103.6L157.0,103.9L156.8,104.0L156.5,104.1L156.0,104.2L155.5,104.3L155.0,104.4L154.5,104.4L154.0,104.3L153.5,104.3L153.0,104.2L152.5,104.0L152.4,104.0L152.0,103.8L151.5,103.5L151.5,103.5L151.0,103.0L151.0,102.9L150.8,102.5L150.8,102.0L150.8,101.5L150.8,101.0L150.9,100.5L151.0,100.3L151.1,100.0L151.4,99.5L151.5,99.4L151.8,99.0L152.0,98.8L152.4,98.5L152.5,98.4L153.0,98.1L153.2,98.0L153.5,97.9L154.0,97.7L154.5,97.6L155.0,97.5L155.3,97.5ZM203.8,103.5L204.0,103.4L204.5,103.2L205.0,103.1L205.5,103.1L206.0,103.1L206.5,103.2L207.0,103.4L207.2,103.5L207.5,103.7L207.9,104.0L208.0,104.1L208.3,104.5L208.5,104.8L208.6,105.0L208.9,105.5L209.0,105.7L209.2,106.0L209.5,106.4L209.6,106.5L210.0,106.9L210.1,107.0L210.5,107.4L210.6,107.5L210.9,108.0L211.0,108.1L211.2,108.5L211.4,109.0L211.5,109.1L211.8,109.5L212.0,109.7L212.4,110.0L212.5,110.1L213.0,110.5L213.0,110.5L213.5,111.0L213.5,111.1L213.8,111.5L214.0,111.8L214.1,112.0L214.3,112.5L214.5,113.0L214.5,113.1L214.6,113.5L214.7,114.0L214.8,114.5L214.8,115.0L214.8,115.5L214.7,116.0L214.7,116.5L214.8,117.0L214.9,117.5L215.0,117.8L215.1,118.0L215.3,118.5L215.5,119.0L215.5,119.0L215.7,119.5L215.9,120.0L216.0,120.5L216.0,120.9L216.0,121.0L216.0,121.5L216.1,122.0L216.2,122.5L216.3,123.0L216.4,123.5L216.5,124.0L216.4,124.5L216.3,125.0L216.1,125.5L216.0,125.7L215.8,126.0L215.5,126.4L215.4,126.5L215.0,126.8L214.7,127.0L214.5,127.1L214.0,127.3L213.5,127.4L213.0,127.5L212.5,127.4L212.0,127.3L211.5,127.1L211.3,127.0L211.0,126.8L210.6,126.5L210.5,126.4L210.2,126.0L210.0,125.7L209.9,125.5L209.6,125.0L209.5,124.8L209.4,124.5L209.1,124.0L209.0,123.9L208.7,123.5L208.5,123.1L208.4,123.0L208.2,122.5L208.0,122.0L208.0,122.0L207.8,121.5L207.6,121.0L207.5,120.8L207.4,120.5L207.2,120.0L207.0,119.6L207.0,119.5L206.7,119.0L206.5,118.5L206.5,118.4L206.3,118.0L206.1,117.5L206.0,117.2L205.9,117.0L205.7,116.5L205.5,116.0L205.5,116.0L205.3,115.5L205.1,115.0L205.0,114.8L204.9,114.5L204.7,114.0L204.5,113.6L204.5,113.5L204.3,113.0L204.1,112.5L204.0,112.4L203.8,112.0L203.6,111.5L203.5,111.1L203.5,111.0L203.3,110.5L203.1,110.0L203.0,109.6L203.0,109.5L202.8,109.0L202.6,108.5L202.5,108.3L202.4,108.0L202.2,107.5L202.1,107.0L202.1,106.5L202.1,106.0L202.2,105.5L202.4,105.0L202.5,104.8L202.7,104.5L203.0,104.2L203.2,104.0L203.5,103.7L203.8,103.5Z" fill="#ebed84" fill-rule="evenodd"/>
<path d="M192.7,51.0L193.0,50.9L193.5,50.8L194.0,50.9L194.3,51.0L194.5,51.1L195.0,51.4L195.1,51.5L195.5,51.9L195.6,52.0L195.9,52.5L196.0,52.6L196.2,53.0L196.3,53.5L196.5,54.0L196.5,54.1L196.6,54.5L196.7,55.0L197.0,55.4L197.4,55.5L197.5,55.5L198.0,55.5L198.5,55.5L199.0,55.5L199.0,55.5L199.5,55.5L200.0,55.4L200.5,55.4L201.0,55.4L201.5,55.4L202.0,55.3L202.5,55.3L203.0,55.3L203.5,55.3L204.0,55.2L204.5,55.2L205.0,55.2L205.5,55.1L206.0,55.1L206.5,55.1L207.0,55.1L207.5,55.0L208.0,55.0L208.1,55.0L208.5,55.0L209.0,54.9L209.5,54.9L210.0,54.8L210.5,54.6L210.7,54.5L211.0,54.4L211.5,54.1L211.7,54.0L212.0,53.8L212.5,53.6L212.6,53.5L212.9,53.0L212.9,52.5L213.0,52.3L213.1,52.0L213.5,51.5L213.5,51.5L214.0,51.2L214.4,51.0L214.5,51.0L215.0,50.9L215.5,50.8L216.0,50.8L216.5,50.8L217.0,50.9L217.5,51.0L217.6,51.0L218.0,51.2L218.5,51.5L218.5,51.5L218.9,52.0L219.0,52.3L219.1,52.5L219.0,53.0L219.0,53.1L218.9,53.5L219.0,53.7L219.2,54.0L219.5,54.1L220.0,54.3L220.5,54.4L221.0,54.5L221.1,54.5L221.5,54.6L222.0,54.7L222.5,54.9L222.9,55.0L223.0,55.0L223.5,55.3L223.9,55.5L224.0,55.6L224.5,55.9L224.6,56.0L225.0,56.3L225.2,56.5L225.5,56.9L225.6,57.0L226.0,57.5L226.0,57.6L226.2,58.0L226.4,58.5L226.5,58.7L226.6,59.0L226.7,59.5L226.8,60.0L226.8,60.5L226.8,61.0L226.7,61.5L226.6,62.0L226.5,62.4L226.5,62.5L226.3,63.0L226.1,63.5L226.0,63.6L225.8,64.0L225.5,64.5L225.5,64.5L225.1,65.0L225.0,65.1L224.6,65.5L224.5,65.6L224.0,66.0L224.0,66.0L223.5,66.4L223.3,66.5L223.0,66.7L222.5,66.9L222.3,67.0L222.0,67.1L221.5,67.3L221.0,67.4L220.5,67.5L220.4,67.5L220.0,67.6L219.5,67.7L219.0,67.8L218.5,68.0L218.3,68.0L218.0,68.1L217.5,68.2L217.0,68.3L216.5,68.4L216.0,68.4L215.5,68.5L215.0,68.5L214.5,68.4L214.0,68.4L213.5,68.3L213.0,68.2L212.5,68.1L212.0,68.1L211.5,68.1L211.0,68.1L210.5,68.1L210.0,68.1L209.5,68.1L209.0,68.1L208.5,68.2L208.0,68.2L207.5,68.2L207.0,68.2L206.5,68.3L206.0,68.3L205.5,68.3L205.0,68.4L204.5,68.4L204.0,68.4L203.5,68.4L203.0,68.5L202.5,68.5L202.4,68.5L202.0,68.5L201.5,68.6L201.0,68.6L200.5,68.6L200.0,68.6L199.5,68.7L199.0,68.7L198.5,68.7L198.0,68.8L197.5,68.8L197.0,68.8L196.5,68.8L196.0,68.9L195.5,68.9L195.0,68.9L194.5,69.0L194.0,69.0L193.7,69.0L193.5,69.0L193.0,69.0L192.5,69.1L192.0,69.1L191.5,69.1L191.0,69.2L190.5,69.3L190.0,69.4L189.9,69.5L189.5,69.7L189.1,70.0L189.0,70.1L188.6,70.5L188.5,70.6L188.0,71.0L188.0,71.0L187.5,71.5L187.5,71.5L187.0,71.9L186.9,72.0L186.5,72.3L186.3,72.5L186.0,72.9L185.9,73.0L185.7,73.5L185.5,74.0L185.5,74.0L185.4,74.5L185.2,75.0L185.0,75.5L185.0,75.6L184.9,76.0L184.7,76.5L184.6,77.0L184.5,77.4L184.5,77.5L184.4,78.0L184.3,78.5L184.2,79.0L184.1,79.5L184.0,79.8L184.0,80.0L183.8,80.5L183.6,81.0L183.5,81.1L183.3,81.5L183.1,82.0L183.0,82.2L182.9,82.5L182.6,83.0L182.5,83.2L182.3,83.5L182.0,83.9L181.9,84.0L181.5,84.5L181.5,84.5L181.0,84.9L180.9,85.0L180.5,85.3L180.2,85.5L180.0,85.6L179.5,85.8L179.1,86.0L179.0,86.0L178.5,86.2L178.0,86.3L177.5,86.3L177.0,86.4L176.5,86.3L176.0,86.3L175.5,86.2L175.0,86.0L174.9,86.0L174.5,85.8L174.0,85.6L173.8,85.5L173.5,85.3L173.1,85.0L173.0,84.9L172.5,84.5L172.5,84.5L172.1,84.0L172.0,83.9L171.7,83.5L171.5,83.2L171.4,83.0L171.2,82.5L171.0,82.1L171.0,82.0L170.8,81.5L170.7,81.0L170.7,80.5L170.6,80.0L170.7,79.5L170.7,79.0L170.8,78.5L171.0,78.0L171.0,77.9L171.1,77.5L171.3,77.0L171.4,76.5L171.5,76.3L171.6,76.0L171.7,75.5L171.9,75.0L172.0,74.7L172.0,74.5L172.2,74.0L172.4,73.5L172.5,73.0L172.5,73.0L172.7,72.5L172.8,72.0L172.9,71.5L173.0,71.0L173.0,71.0L173.0,71.0L172.8,70.5L172.5,70.4L172.0,70.3L171.5,70.3L171.0,70.3L170.5,70.3L170.0,70.4L169.5,70.4L169.0,70.4L168.5,70.5L168.0,70.5L167.7,70.5L167.5,70.5L167.0,70.5L166.5,70.6L166.0,70.6L165.5,70.6L165.0,70.7L164.5,70.7L164.0,70.7L163.5,70.8L163.0,70.8L162.5,70.8L162.0,70.8L161.5,70.9L161.0,70.9L160.5,70.8L160.0,70.8L159.5,70.8L159.0,70.8L158.5,70.8L158.0,70.9L157.5,70.9L157.0,70.9L156.5,70.9L156.0,70.8L155.5,70.7L155.0,70.6L154.8,70.5L154.5,70.4L154.0,70.2L153.7,70.0L153.5,69.9L153.0,69.5L153.0,69.5L152.5,69.1L152.4,69.0L152.0,68.7L151.8,68.5L151.5,68.2L151.3,68.0L151.0,67.8L150.5,67.5L150.3,67.5L150.0,67.4L149.5,67.4L149.0,67.3L148.5,67.2L148.2,67.0L148.0,66.9L147.5,66.5L147.5,66.5L147.0,66.0L147.0,66.0L146.6,65.5L146.5,65.4L146.3,65.0L146.0,64.5L146.0,64.4L145.9,64.0L145.8,63.5L145.8,63.0L145.8,62.5L145.9,62.0L146.0,61.6L146.0,61.5L146.3,61.0L146.5,60.6L146.6,60.5L147.0,60.0L147.0,60.0L147.5,59.6L147.6,59.5L148.0,59.3L148.5,59.0L148.6,59.0L149.0,58.9L149.5,58.8L150.0,58.8L150.5,58.7L151.0,58.7L151.5,58.7L152.0,58.6L152.5,58.5L152.6,58.5L153.0,58.4L153.5,58.3L154.0,58.2L154.5,58.1L154.9,58.0L155.0,58.0L155.5,57.9L156.0,57.8L156.5,57.8L157.0,57.8L157.5,57.7L158.0,57.7L158.5,57.7L159.0,57.6L159.5,57.6L160.0,57.6L160.5,57.5L161.0,57.5L161.3,57.5L161.5,57.5L162.0,57.5L162.5,57.4L163.0,57.4L163.5,57.4L164.0,57.4L164.5,57.3L165.0,57.3L165.5,57.3L166.0,57.3L166.5,57.2L167.0,57.2L167.5,57.2L168.0,57.2L168.5,57.1L169.0,57.1L169.5,57.1L170.0,57.1L170.5,57.0L171.0,57.0L171.1,57.0L171.5,57.0L172.0,56.9L172.5,56.9L173.0,56.9L173.5,56.9L174.0,56.8L174.5,56.8L175.0,56.8L175.5,56.8L176.0,56.7L176.5,56.7L177.0,56.7L177.5,56.7L178.0,56.6L178.5,56.6L179.0,56.6L179.5,56.6L180.0,56.5L180.5,56.5L180.5,56.5L181.0,56.5L181.5,56.4L182.0,56.4L182.5,56.4L183.0,56.4L183.5,56.3L184.0,56.3L184.5,56.3L185.0,56.3L185.5,56.2L186.0,56.2L186.5,56.2L187.0,56.1L187.5,56.1L188.0,56.1L188.5,56.1L189.0,56.0L189.2,56.0L189.5,56.0L190.0,55.8L190.2,55.5L190.4,55.0L190.4,54.5L190.5,54.2L190.5,54.0L190.7,53.5L190.8,53.0L191.0,52.6L191.1,52.5L191.4,52.0L191.5,51.9L191.9,51.5L192.0,51.4L192.5,51.1L192.7,51.0ZM146.0,68.0L146.0,68.0L146.5,67.9L147.0,67.9L147.5,67.8L148.0,67.9L148.2,68.0L148.5,68.1L149.0,68.4L149.1,68.5L149.5,68.9L149.6,69.0L149.9,69.5L150.0,69.6L150.2,70.0L150.4,70.5L150.5,71.0L150.5,71.1L150.5,71.5L150.5,71.9L150.5,72.0L150.4,72.5L150.2,73.0L150.0,73.3L149.9,73.5L149.5,74.0L149.5,74.0L149.0,74.4L148.8,74.5L148.5,74.7L148.0,74.8L147.5,75.0L147.0,75.0L146.7,75.0L146.5,75.0L146.0,75.0L145.5,75.0L145.0,75.1L144.5,75.1L144.0,75.1L143.5,75.1L143.0,75.1L142.5,75.1L142.0,75.2L141.5,75.2L141.0,75.2L140.5,75.2L140.0,75.2L139.5,75.3L139.0,75.3L138.5,75.3L138.0,75.3L137.5,75.3L137.0,75.3L136.5,75.4L136.0,75.4L135.5,75.4L135.0,75.4L134.5,75.4L134.0,75.5L133.5,75.5L133.0,75.5L132.8,75.5L132.5,75.5L132.0,75.5L131.5,75.5L131.0,75.6L130.5,75.6L130.0,75.6L129.5,75.6L129.0,75.6L128.5,75.7L128.0,75.7L127.5,75.8L127.0,75.9L126.7,76.0L126.5,76.0L126.0,76.1L125.5,76.1L125.2,76.0L125.0,76.0L124.5,75.9L124.0,75.8L123.5,75.8L123.0,75.9L122.5,75.9L122.0,75.9L121.5,75.9L121.0,75.9L120.5,75.9L120.0,76.0L119.5,76.0L119.2,76.0L119.0,76.0L118.5,76.0L118.0,76.0L117.5,76.1L117.0,76.1L116.5,76.1L116.0,76.1L115.5,76.1L115.0,76.1L114.5,76.2L114.0,76.2L113.5,76.2L113.0,76.2L112.5,76.3L112.0,76.3L111.5,76.4L111.0,76.5L111.0,76.5L110.5,76.8L110.3,77.0L110.0,77.3L109.8,77.5L109.5,77.9L109.4,78.0L109.0,78.3L108.8,78.5L108.5,78.8L108.1,79.0L108.0,79.1L107.5,79.4L107.3,79.5L107.0,79.6L106.5,79.8L106.1,80.0L106.0,80.0L105.5,80.2L105.0,80.3L104.5,80.4L104.0,80.5L103.9,80.5L103.5,80.6L103.0,80.6L102.5,80.6L102.0,80.6L101.5,80.6L101.0,80.6L100.5,80.7L100.0,80.7L99.5,80.7L99.0,80.6L98.5,80.6L98.3,80.5L98.0,80.4L97.5,80.2L97.1,80.0L97.0,80.0L96.5,79.6L96.3,79.5L96.0,79.2L95.7,79.0L95.5,78.8L95.2,78.5L95.0,78.3L94.7,78.0L94.5,77.8L94.3,77.5L94.0,77.0L94.0,77.0L93.8,76.5L93.7,76.0L93.6,75.5L93.7,75.0L93.8,74.5L94.0,74.0L94.0,74.0L94.3,73.5L94.5,73.2L94.7,73.0L95.0,72.7L95.2,72.5L95.5,72.3L95.9,72.0L96.0,71.9L96.5,71.6L96.7,71.5L97.0,71.4L97.5,71.2L97.9,71.0L98.0,71.0L98.5,70.8L99.0,70.7L99.5,70.6L100.0,70.5L100.0,70.5L100.5,70.4L101.0,70.4L101.5,70.3L102.0,70.3L102.5,70.3L103.0,70.2L103.5,70.1L103.9,70.0L104.0,70.0L104.5,69.8L105.0,69.6L105.5,69.5L106.0,69.5L106.2,69.5L106.5,69.5L107.0,69.5L107.5,69.5L108.0,69.4L108.5,69.4L109.0,69.4L109.5,69.4L110.0,69.4L110.5,69.4L111.0,69.3L111.5,69.3L112.0,69.3L112.5,69.3L113.0,69.3L113.5,69.3L114.0,69.2L114.5,69.2L115.0,69.2L115.5,69.2L116.0,69.2L116.5,69.1L117.0,69.1L117.5,69.1L118.0,69.1L118.5,69.1L119.0,69.0L119.5,69.0L120.0,69.0L120.2,69.0L120.5,69.0L121.0,69.0L121.5,69.0L122.0,68.9L122.5,68.9L123.0,68.9L123.5,68.9L124.0,68.9L124.5,68.8L125.0,68.8L125.5,68.8L126.0,68.8L126.5,68.8L127.0,68.8L127.5,68.7L128.0,68.7L128.5,68.7L129.0,68.7L129.5,68.7L130.0,68.6L130.5,68.6L131.0,68.6L131.5,68.6L132.0,68.6L132.5,68.5L133.0,68.5L133.5,68.5L133.9,68.5L134.0,68.5L134.5,68.5L135.0,68.5L135.5,68.4L136.0,68.4L136.5,68.4L137.0,68.4L137.5,68.4L138.0,68.4L138.5,68.3L139.0,68.3L139.5,68.3L140.0,68.3L140.5,68.3L141.0,68.2L141.5,68.2L142.0,68.2L142.5,68.2L143.0,68.2L143.5,68.1L144.0,68.1L144.5,68.1L145.0,68.1L145.5,68.0L146.0,68.0ZM204.7,104.5L205.0,104.4L205.5,104.3L206.0,104.4L206.3,104.5L206.5,104.6L207.0,104.9L207.1,105.0L207.4,105.5L207.5,105.7L207.7,106.0L207.9,106.5L208.0,106.6L208.4,107.0L208.5,107.0L209.0,107.3L209.2,107.5L209.5,107.7L209.8,108.0L210.0,108.3L210.1,108.5L210.4,109.0L210.5,109.3L210.6,109.5L210.8,110.0L211.0,110.2L211.5,110.5L211.5,110.5L212.0,110.8L212.3,111.0L212.5,111.2L212.8,111.5L213.0,111.7L213.2,112.0L213.5,112.5L213.5,112.5L213.7,113.0L213.9,113.5L214.0,114.0L214.0,114.3L214.0,114.5L214.0,115.0L214.0,115.5L214.0,115.7L214.0,116.0L213.9,116.5L213.8,117.0L213.9,117.5L214.0,117.8L214.1,118.0L214.3,118.5L214.5,119.0L214.5,119.1L214.7,119.5L214.9,120.0L215.0,120.5L215.0,120.5L215.1,121.0L215.0,121.5L215.0,121.7L214.9,122.0L214.9,122.5L215.0,123.0L215.0,123.1L215.1,123.5L215.2,124.0L215.1,124.5L215.0,124.8L214.9,125.0L214.6,125.5L214.5,125.6L214.0,125.9L213.8,126.0L213.5,126.1L213.0,126.2L212.5,126.1L212.2,126.0L212.0,125.9L211.5,125.6L211.4,125.5L211.1,125.0L211.0,124.9L210.8,124.5L210.5,124.0L210.5,124.0L210.1,123.5L210.0,123.4L209.7,123.0L209.5,122.8L209.3,122.5L209.1,122.0L209.0,121.8L208.9,121.5L208.7,121.0L208.5,120.6L208.5,120.5L208.3,120.0L208.1,119.5L208.0,119.4L207.8,119.0L207.6,118.5L207.5,118.2L207.4,118.0L207.2,117.5L207.0,117.0L207.0,117.0L206.8,116.5L206.6,116.0L206.5,115.7L206.4,115.5L206.2,115.0L206.0,114.5L206.0,114.5L205.8,114.0L205.6,113.5L205.5,113.3L205.4,113.0L205.2,112.5L205.0,112.1L205.0,112.0L204.8,111.5L204.6,111.0L204.5,110.8L204.4,110.5L204.3,110.0L204.3,109.5L204.2,109.0L204.0,108.6L204.0,108.5L203.8,108.0L203.6,107.5L203.5,107.3L203.4,107.0L203.3,106.5L203.4,106.0L203.5,105.7L203.6,105.5L203.9,105.0L204.0,104.9L204.5,104.6L204.7,104.5Z" fill="#f5dc72" fill-rule="evenodd"/>
<path d="M213.4,54.5L213.5,54.5L214.0,54.4L214.5,54.5L214.7,54.5L215.0,54.6L215.5,54.7L216.0,54.9L216.2,55.0L216.5,55.2L217.0,55.5L217.0,55.5L217.5,55.8L218.0,56.0L218.0,56.0L218.5,56.2L219.0,56.4L219.5,56.5L219.5,56.5L220.0,56.6L220.5,56.8L221.0,56.9L221.2,57.0L221.5,57.1L222.0,57.4L222.2,57.5L222.5,57.7L222.8,58.0L223.0,58.2L223.3,58.5L223.5,58.8L223.6,59.0L223.8,59.5L224.0,60.0L224.0,60.0L224.1,60.5L224.1,61.0L224.1,61.5L224.0,61.8L224.0,62.0L223.8,62.5L223.5,63.0L223.5,63.1L223.2,63.5L223.0,63.7L222.7,64.0L222.5,64.2L222.1,64.5L222.0,64.6L221.5,64.8L221.1,65.0L221.0,65.0L220.5,65.2L220.0,65.4L219.9,65.5L219.5,65.7L219.1,66.0L219.0,66.1L218.5,66.3L218.1,66.5L218.0,66.5L217.5,66.7L217.0,66.7L216.5,66.7L216.0,66.7L215.5,66.6L215.0,66.5L214.8,66.5L214.5,66.5L214.0,66.4L213.5,66.3L213.0,66.2L212.5,66.1L212.0,66.0L211.5,66.0L211.0,66.0L210.5,66.0L210.0,66.1L209.5,66.1L209.0,66.1L208.5,66.2L208.0,66.2L207.5,66.2L207.0,66.2L206.5,66.3L206.0,66.3L205.5,66.3L205.0,66.4L204.5,66.4L204.0,66.4L203.5,66.5L203.0,66.5L202.7,66.5L202.5,66.5L202.0,66.5L201.5,66.6L201.0,66.6L200.5,66.6L200.0,66.7L199.5,66.7L199.0,66.7L198.5,66.8L198.0,66.8L197.5,66.8L197.0,66.8L196.5,66.9L196.0,66.9L195.5,66.9L195.0,67.0L194.5,67.0L194.4,67.0L194.0,67.0L193.5,67.1L193.0,67.1L192.5,67.1L192.0,67.1L191.5,67.2L191.0,67.2L190.5,67.2L190.0,67.3L189.5,67.3L189.0,67.4L188.8,67.5L188.5,67.7L188.2,68.0L188.0,68.2L187.9,68.5L187.7,69.0L187.5,69.3L187.4,69.5L187.1,70.0L187.0,70.2L186.8,70.5L186.5,70.8L186.3,71.0L186.0,71.2L185.5,71.5L185.5,71.5L185.0,71.8L184.5,72.0L184.4,72.0L184.0,72.5L184.0,72.6L183.8,73.0L183.7,73.5L183.5,74.0L183.5,74.1L183.4,74.5L183.2,75.0L183.1,75.5L183.0,75.8L183.0,76.0L182.8,76.5L182.7,77.0L182.5,77.5L182.5,77.5L182.3,78.0L182.1,78.5L182.0,78.9L182.0,79.0L181.8,79.5L181.6,80.0L181.5,80.4L181.5,80.5L181.3,81.0L181.2,81.5L181.0,81.9L180.9,82.0L180.6,82.5L180.5,82.7L180.2,83.0L180.0,83.2L179.7,83.5L179.5,83.6L179.0,83.9L178.9,84.0L178.5,84.2L178.0,84.3L177.5,84.4L177.0,84.4L176.5,84.4L176.0,84.3L175.5,84.2L175.1,84.0L175.0,83.9L174.5,83.6L174.3,83.5L174.0,83.2L173.8,83.0L173.5,82.7L173.4,82.5L173.1,82.0L173.0,81.9L172.8,81.5L172.7,81.0L172.6,80.5L172.6,80.0L172.6,79.5L172.7,79.0L172.8,78.5L173.0,78.0L173.0,78.0L173.1,77.5L173.3,77.0L173.4,76.5L173.5,76.3L173.6,76.0L173.8,75.5L173.9,75.0L174.0,74.7L174.1,74.5L174.2,74.0L174.4,73.5L174.5,73.1L174.5,73.0L174.7,72.5L174.8,72.0L175.0,71.5L175.0,71.5L175.1,71.0L175.3,70.5L175.4,70.0L175.5,69.7L175.6,69.5L175.6,69.0L175.5,68.5L175.5,68.5L175.0,68.3L174.5,68.2L174.0,68.2L173.5,68.3L173.0,68.3L172.5,68.3L172.0,68.4L171.5,68.4L171.0,68.4L170.5,68.4L170.0,68.5L169.6,68.5L169.5,68.5L169.0,68.5L168.5,68.6L168.0,68.6L167.5,68.6L167.0,68.7L166.5,68.7L166.0,68.7L165.5,68.7L165.0,68.8L164.5,68.8L164.0,68.8L163.5,68.9L163.0,68.9L162.5,68.9L162.0,69.0L161.5,68.9L161.0,68.9L160.5,68.8L160.0,68.7L159.5,68.6L159.0,68.5L158.5,68.5L158.0,68.5L157.5,68.5L157.0,68.5L156.5,68.5L156.5,68.5L156.0,68.4L155.5,68.2L155.0,68.0L155.0,68.0L154.5,67.7L154.3,67.5L154.0,67.2L153.8,67.0L153.5,66.5L153.5,66.5L153.2,66.0L153.0,65.5L153.0,65.3L152.9,65.0L152.9,64.5L152.9,64.0L152.9,63.5L153.0,63.3L153.1,63.0L153.3,62.5L153.5,62.2L153.7,62.0L154.0,61.6L154.1,61.5L154.5,61.2L154.8,61.0L155.0,60.9L155.5,60.7L156.0,60.5L156.1,60.5L156.5,60.4L157.0,60.4L157.5,60.4L158.0,60.3L158.5,60.3L159.0,60.2L159.5,60.1L160.0,60.1L160.3,60.0L160.5,60.0L161.0,59.9L161.5,59.8L162.0,59.8L162.5,59.8L163.0,59.7L163.5,59.7L164.0,59.7L164.5,59.7L165.0,59.6L165.5,59.6L166.0,59.6L166.5,59.5L167.0,59.5L167.2,59.5L167.5,59.5L168.0,59.5L168.5,59.4L169.0,59.4L169.5,59.4L170.0,59.3L170.5,59.3L171.0,59.3L171.5,59.2L172.0,59.2L172.5,59.2L173.0,59.2L173.5,59.1L174.0,59.1L174.5,59.1L175.0,59.0L175.5,59.0L175.7,59.0L176.0,59.0L176.5,59.0L177.0,58.9L177.5,58.9L178.0,58.9L178.5,58.8L179.0,58.8L179.5,58.8L180.0,58.7L180.5,58.7L181.0,58.7L181.5,58.6L182.0,58.6L182.5,58.6L183.0,58.6L183.5,58.5L184.0,58.5L184.1,58.5L184.5,58.5L185.0,58.4L185.5,58.4L186.0,58.4L186.5,58.4L187.0,58.3L187.5,58.3L188.0,58.3L188.5,58.2L189.0,58.2L189.5,58.2L190.0,58.1L190.5,58.1L190.8,58.0L191.0,57.9L191.5,57.8L192.0,57.6L192.3,57.5L192.5,57.4L193.0,57.3L193.5,57.3L194.0,57.5L194.0,57.5L194.5,57.6L195.0,57.7L195.5,57.8L196.0,57.8L196.5,57.8L197.0,57.7L197.5,57.7L198.0,57.7L198.5,57.6L199.0,57.6L199.5,57.6L200.0,57.6L200.5,57.5L200.9,57.5L201.0,57.5L201.5,57.5L202.0,57.4L202.5,57.4L203.0,57.4L203.5,57.3L204.0,57.3L204.5,57.3L205.0,57.3L205.5,57.2L206.0,57.2L206.5,57.2L207.0,57.1L207.5,57.1L208.0,57.1L208.5,57.0L209.0,57.0L209.2,57.0L209.5,57.0L210.0,56.8L210.3,56.5L210.5,56.3L210.8,56.0L211.0,55.8L211.3,55.5L211.5,55.3L212.0,55.0L212.0,55.0L212.5,54.7L213.0,54.6L213.4,54.5ZM193.5,55.0L193.5,55.0L193.5,55.0L193.5,55.0L193.5,55.0ZM130.7,70.5L131.0,70.4L131.3,70.5L131.5,70.6L131.7,71.0L131.5,71.5L131.5,71.5L131.0,71.7L130.5,71.5L130.5,71.5L130.3,71.0L130.5,70.6L130.7,70.5ZM140.5,71.0L140.5,71.0L141.0,70.8L141.5,71.0L141.5,71.0L141.8,71.5L141.6,72.0L141.5,72.1L141.0,72.2L140.5,72.1L140.4,72.0L140.2,71.5L140.5,71.0ZM99.7,72.0L100.0,71.9L100.5,71.8L101.0,71.8L101.5,71.7L102.0,71.7L102.5,71.7L103.0,71.8L103.5,71.8L104.0,71.9L104.5,72.0L104.6,72.0L105.0,72.1L105.5,72.2L106.0,72.4L106.1,72.5L106.5,72.7L107.0,73.0L107.0,73.0L107.5,73.5L107.5,73.5L107.8,74.0L108.0,74.4L108.1,74.5L108.2,75.0L108.2,75.5L108.1,76.0L108.0,76.3L107.9,76.5L107.6,77.0L107.5,77.2L107.2,77.5L107.0,77.7L106.6,78.0L106.5,78.1L106.0,78.4L105.7,78.5L105.5,78.6L105.0,78.8L104.5,78.9L104.3,79.0L104.0,79.1L103.5,79.2L103.0,79.2L102.5,79.3L102.0,79.3L101.5,79.4L101.1,79.5L101.0,79.5L100.5,79.7L100.0,79.8L99.5,79.9L99.0,79.9L98.5,79.8L98.0,79.6L97.7,79.5L97.5,79.4L97.0,79.0L97.0,79.0L96.6,78.5L96.5,78.3L96.3,78.0L96.1,77.5L96.0,77.0L96.0,76.8L95.9,76.5L95.9,76.0L95.8,75.5L95.9,75.0L96.0,74.7L96.1,74.5L96.4,74.0L96.5,73.8L96.8,73.5L97.0,73.3L97.4,73.0L97.5,72.9L98.0,72.6L98.3,72.5L98.5,72.4L99.0,72.2L99.5,72.1L99.7,72.0ZM119.4,72.0L119.5,72.0L120.0,71.8L120.5,72.0L120.6,72.0L120.8,72.5L120.6,73.0L120.5,73.0L120.0,73.2L119.5,73.0L119.4,73.0L119.2,72.5L119.4,72.0ZM125.5,74.5L125.5,74.5L126.0,74.0L126.5,74.5L126.0,74.9L125.5,74.5L125.5,74.5ZM206.1,108.0L206.5,107.8L207.0,107.8L207.5,107.8L208.0,107.9L208.3,108.0L208.5,108.1L209.0,108.4L209.1,108.5L209.4,109.0L209.5,109.2L209.6,109.5L209.8,110.0L210.0,110.4L210.1,110.5L210.4,111.0L210.5,111.0L211.0,111.2L211.5,111.4L211.7,111.5L212.0,111.7L212.3,112.0L212.5,112.2L212.7,112.5L213.0,113.0L213.0,113.0L213.2,113.5L213.3,114.0L213.4,114.5L213.4,115.0L213.4,115.5L213.3,116.0L213.2,116.5L213.1,117.0L213.0,117.4L213.0,117.5L213.0,117.5L213.1,118.0L213.3,118.5L213.5,118.9L213.5,119.0L213.7,119.5L213.9,120.0L214.0,120.2L214.1,120.5L214.2,121.0L214.1,121.5L214.0,121.8L213.9,122.0L213.6,122.5L213.5,122.7L213.2,123.0L213.0,123.2L212.5,123.4L212.0,123.3L211.5,123.2L211.1,123.0L211.0,123.0L210.5,122.6L210.4,122.5L210.1,122.0L210.0,121.8L209.9,121.5L209.7,121.0L209.5,120.6L209.4,120.5L209.2,120.0L209.0,119.5L209.0,119.4L208.8,119.0L208.6,118.5L208.5,118.3L208.3,118.0L208.1,117.5L208.0,117.3L207.9,117.0L207.7,116.5L207.5,116.0L207.5,116.0L207.3,115.5L207.2,115.0L207.0,114.6L207.0,114.5L206.8,114.0L206.6,113.5L206.5,113.3L206.4,113.0L206.2,112.5L206.0,112.1L206.0,112.0L205.8,111.5L205.6,111.0L205.5,110.9L205.4,110.5L205.3,110.0L205.3,109.5L205.5,109.0L205.5,109.0L205.7,108.5L206.0,108.1L206.1,108.0Z" fill="#e9a555" fill-rule="evenodd"/>
<path d="M212.8,55.5L213.0,55.4L213.5,55.3L214.0,55.3L214.5,55.3L215.0,55.4L215.2,55.5L215.5,55.6L216.0,55.9L216.1,56.0L216.5,56.4L216.6,56.5L216.9,57.0L217.0,57.1L217.2,57.5L217.5,58.0L217.6,58.0L218.0,58.2L218.5,58.4L218.7,58.5L219.0,58.6L219.5,58.9L219.7,59.0L220.0,59.3L220.2,59.5L220.5,59.9L220.5,60.0L220.7,60.5L220.8,61.0L220.7,61.5L220.5,62.0L220.5,62.1L220.2,62.5L220.0,62.8L219.9,63.0L219.8,63.5L219.5,64.0L219.5,64.0L219.3,64.5L219.0,64.8L218.8,65.0L218.5,65.3L218.2,65.5L218.0,65.6L217.5,65.7L217.0,65.8L216.5,65.8L216.0,65.6L215.8,65.5L215.5,65.3L215.0,65.0L215.0,65.0L214.5,64.5L214.5,64.5L214.0,64.2L213.5,64.1L213.0,64.0L213.0,64.0L212.5,63.9L212.0,63.9L211.5,63.9L211.0,64.0L210.5,64.0L210.3,64.0L210.0,64.0L209.5,64.0L209.0,64.1L208.5,64.1L208.0,64.1L207.5,64.2L207.0,64.2L206.5,64.2L206.0,64.3L205.5,64.3L205.0,64.3L204.5,64.3L204.0,64.4L203.5,64.4L203.0,64.4L202.5,64.5L202.2,64.5L202.0,64.5L201.5,64.5L201.0,64.6L200.5,64.6L200.0,64.6L199.5,64.7L199.0,64.7L198.5,64.7L198.0,64.7L197.5,64.8L197.0,64.8L196.5,64.8L196.0,64.9L195.5,64.9L195.0,64.9L194.5,65.0L194.1,65.0L194.0,65.0L193.5,65.0L193.0,65.1L192.5,65.1L192.0,65.1L191.5,65.2L191.0,65.2L190.5,65.2L190.0,65.2L189.5,65.3L189.0,65.3L188.5,65.3L188.0,65.4L187.5,65.5L187.4,65.5L187.0,65.6L186.6,66.0L186.6,66.5L186.7,67.0L186.8,67.5L186.8,68.0L186.8,68.5L186.6,69.0L186.5,69.3L186.4,69.5L186.1,70.0L186.0,70.1L185.5,70.5L185.5,70.5L185.0,70.8L184.5,70.9L184.0,71.0L183.5,70.9L183.0,70.9L182.8,71.0L182.5,71.5L182.5,71.5L182.4,72.0L182.2,72.5L182.1,73.0L182.0,73.4L182.0,73.5L181.8,74.0L181.7,74.5L181.6,75.0L181.5,75.3L181.4,75.5L181.3,76.0L181.2,76.5L181.0,76.9L181.0,77.0L180.5,77.5L180.5,77.6L180.0,78.0L179.9,78.0L179.5,78.5L179.5,78.5L179.3,79.0L179.1,79.5L179.0,79.9L179.0,80.0L178.8,80.5L178.6,81.0L178.5,81.1L178.1,81.5L178.0,81.6L177.5,81.8L177.0,81.9L176.5,81.8L176.0,81.6L175.9,81.5L175.5,81.1L175.4,81.0L175.2,80.5L175.1,80.0L175.2,79.5L175.4,79.0L175.5,78.5L175.5,78.5L175.7,78.0L175.8,77.5L176.0,77.0L176.0,76.9L176.1,76.5L176.3,76.0L176.4,75.5L176.5,75.2L176.6,75.0L176.7,74.5L176.9,74.0L177.0,73.6L177.0,73.5L177.2,73.0L177.3,72.5L177.5,72.0L177.5,72.0L177.6,71.5L177.8,71.0L177.9,70.5L178.0,70.3L178.1,70.0L178.2,69.5L178.4,69.0L178.4,68.5L178.5,68.0L178.4,67.5L178.1,67.0L178.0,66.9L177.7,66.5L177.5,66.3L177.0,66.1L176.5,66.1L176.0,66.1L175.5,66.1L175.0,66.2L174.5,66.2L174.0,66.2L173.5,66.3L173.0,66.3L172.5,66.3L172.0,66.4L171.5,66.4L171.0,66.4L170.5,66.5L170.0,66.5L169.9,66.5L169.5,66.5L169.0,66.6L168.5,66.6L168.0,66.6L167.5,66.6L167.0,66.7L166.5,66.7L166.0,66.7L165.5,66.8L165.0,66.8L164.5,66.8L164.0,66.9L163.5,66.9L163.0,66.9L162.5,67.0L162.0,67.0L161.5,66.9L161.0,66.8L160.5,66.5L160.4,66.5L160.0,66.1L159.8,66.0L159.5,65.5L159.5,65.5L159.2,65.0L159.1,64.5L159.2,64.0L159.4,63.5L159.5,63.4L159.8,63.0L160.0,62.8L160.4,62.5L160.5,62.4L161.0,62.2L161.5,62.0L161.6,62.0L162.0,62.0L162.5,61.9L163.0,61.9L163.5,61.9L164.0,61.8L164.5,61.8L165.0,61.8L165.5,61.8L166.0,61.7L166.5,61.7L167.0,61.7L167.5,61.6L168.0,61.6L168.5,61.6L169.0,61.5L169.5,61.5L169.5,61.5L170.0,61.5L170.5,61.4L171.0,61.4L171.5,61.4L172.0,61.3L172.5,61.3L173.0,61.3L173.5,61.3L174.0,61.2L174.5,61.2L175.0,61.2L175.5,61.1L176.0,61.1L176.5,61.1L177.0,61.0L177.5,61.0L177.5,61.0L178.0,61.0L178.5,60.9L179.0,60.9L179.5,60.8L180.0,60.7L180.5,60.6L181.0,60.5L181.2,60.5L181.5,60.5L182.0,60.5L182.5,60.5L183.0,60.5L183.0,60.5L183.5,60.5L184.0,60.6L184.5,60.6L185.0,60.5L185.5,60.5L185.6,60.5L186.0,60.5L186.5,60.4L187.0,60.4L187.5,60.4L188.0,60.4L188.5,60.3L189.0,60.3L189.5,60.3L190.0,60.2L190.5,60.2L191.0,60.2L191.5,60.1L191.8,60.0L192.0,59.9L192.5,59.6L192.8,59.5L193.0,59.4L193.3,59.5L193.5,59.6L194.0,59.8L194.5,59.9L195.0,59.9L195.5,59.9L196.0,59.9L196.5,59.8L197.0,59.8L197.5,59.8L198.0,59.7L198.5,59.7L199.0,59.7L199.5,59.7L200.0,59.6L200.5,59.6L201.0,59.6L201.5,59.5L201.8,59.5L202.0,59.5L202.5,59.5L203.0,59.4L203.5,59.4L204.0,59.4L204.5,59.3L205.0,59.3L205.5,59.3L206.0,59.2L206.5,59.2L207.0,59.2L207.5,59.2L208.0,59.1L208.5,59.1L209.0,59.1L209.5,59.0L209.8,59.0L210.0,59.0L210.5,58.8L210.6,58.5L210.7,58.0L210.9,57.5L211.0,57.3L211.1,57.0L211.4,56.5L211.5,56.4L211.9,56.0L212.0,55.9L212.5,55.6L212.8,55.5ZM100.6,73.5L101.0,73.4L101.5,73.3L102.0,73.3L102.5,73.3L103.0,73.4L103.4,73.5L103.5,73.5L104.0,73.7L104.5,73.9L104.6,74.0L105.0,74.3L105.2,74.5L105.5,75.0L105.5,75.1L105.6,75.5L105.5,75.9L105.5,76.0L105.2,76.5L105.0,76.7L104.6,77.0L104.5,77.1L104.0,77.3L103.5,77.5L103.4,77.5L103.0,77.6L102.5,77.7L102.0,77.7L101.7,78.0L101.5,78.1L101.2,78.5L101.0,78.6L100.5,79.0L100.4,79.0L100.0,79.2L99.5,79.3L99.0,79.2L98.5,79.1L98.2,79.0L98.0,78.9L97.5,78.5L97.5,78.5L97.1,78.0L97.0,77.7L96.9,77.5L96.9,77.0L96.9,76.5L97.0,76.3L97.1,76.0L97.4,75.5L97.5,75.4L97.9,75.0L98.0,74.9L98.5,74.6L98.7,74.5L99.0,74.3L99.4,74.0L99.5,73.9L100.0,73.7L100.5,73.5L100.6,73.5ZM207.1,109.0L207.5,108.9L207.9,109.0L208.0,109.0L208.5,109.5L208.5,109.6L208.7,110.0L208.9,110.5L209.0,110.8L209.1,111.0L209.3,111.5L209.5,111.8L210.0,111.9L210.5,111.9L211.0,112.0L211.1,112.0L211.5,112.2L211.9,112.5L212.0,112.6L212.3,113.0L212.5,113.3L212.6,113.5L212.7,114.0L212.8,114.5L212.9,115.0L212.8,115.5L212.8,116.0L212.6,116.5L212.5,116.7L212.3,117.0L212.0,117.5L212.0,117.9L212.0,118.0L212.0,118.0L212.1,118.5L212.4,119.0L212.5,119.3L212.6,119.5L212.8,120.0L213.0,120.5L213.0,120.6L213.1,121.0L213.0,121.4L213.0,121.5L212.5,122.0L212.4,122.0L212.0,122.1L211.6,122.0L211.5,122.0L211.0,121.5L211.0,121.5L210.8,121.0L210.6,120.5L210.5,120.2L210.4,120.0L210.2,119.5L210.0,119.0L210.0,119.0L209.8,118.5L209.5,118.1L209.4,118.0L209.0,117.5L209.0,117.5L208.6,117.0L208.5,116.7L208.4,116.5L208.2,116.0L208.1,115.5L208.0,115.0L208.0,114.5L208.0,114.5L207.9,114.0L207.8,113.5L207.5,113.0L207.5,112.9L207.4,112.5L207.1,112.0L207.0,111.7L206.9,111.5L206.7,111.0L206.5,110.5L206.5,110.4L206.4,110.0L206.5,109.6L206.5,109.5L207.0,109.0L207.1,109.0Z" fill="#d66a30" fill-rule="evenodd"/>
<path d="M212.7,56.5L213.0,56.3L213.5,56.2L214.0,56.1L214.5,56.2L215.0,56.3L215.3,56.5L215.5,56.6L215.9,57.0L216.0,57.2L216.2,57.5L216.4,58.0L216.4,58.5L216.4,59.0L216.2,59.5L216.0,60.0L216.0,60.0L215.5,60.5L215.5,60.5L215.0,60.8L214.5,61.0L214.0,61.0L213.5,60.9L213.0,60.8L212.6,60.5L212.5,60.4L212.1,60.0L212.0,59.9L211.8,59.5L211.6,59.0L211.6,58.5L211.7,58.0L211.8,57.5L212.0,57.2L212.1,57.0L212.5,56.6L212.7,56.5ZM215.7,61.5L216.0,61.2L216.5,61.1L217.0,61.0L217.5,61.1L218.0,61.4L218.2,61.5L218.5,61.9L218.5,62.0L218.7,62.5L218.8,63.0L218.7,63.5L218.5,64.0L218.5,64.0L218.1,64.5L218.0,64.6L217.5,64.8L217.0,64.9L216.5,64.8L216.0,64.6L215.9,64.5L215.5,64.0L215.5,64.0L215.3,63.5L215.2,63.0L215.2,62.5L215.4,62.0L215.5,61.8L215.7,61.5ZM179.9,62.0L180.0,62.0L180.5,61.7L181.0,61.6L181.5,61.5L182.0,61.5L182.5,61.6L183.0,61.7L183.5,61.9L183.7,62.0L184.0,62.2L184.4,62.5L184.5,62.6L184.8,63.0L185.0,63.4L185.1,63.5L185.2,64.0L185.2,64.5L185.2,65.0L185.1,65.5L185.0,65.8L184.9,66.0L185.0,66.1L185.3,66.5L185.5,66.8L185.6,67.0L185.8,67.5L185.9,68.0L185.8,68.5L185.6,69.0L185.5,69.2L185.2,69.5L185.0,69.7L184.5,69.9L184.0,70.0L183.5,69.9L183.0,69.7L182.7,69.5L182.5,69.2L182.3,69.0L182.1,68.5L182.0,68.0L182.0,68.0L181.5,67.6L181.2,67.5L181.0,67.5L180.5,67.3L180.0,67.1L179.9,67.0L179.5,66.7L179.3,66.5L179.0,66.2L178.8,66.0L178.6,65.5L178.5,65.3L178.4,65.0L178.3,64.5L178.4,64.0L178.5,63.6L178.5,63.5L178.8,63.0L179.0,62.8L179.2,62.5L179.5,62.3L179.9,62.0ZM98.8,75.5L99.0,75.5L99.5,75.4L99.8,75.5L100.0,75.6L100.5,75.9L100.6,76.0L100.9,76.5L101.0,77.0L100.9,77.5L100.6,78.0L100.5,78.1L100.0,78.4L99.7,78.5L99.5,78.6L99.0,78.5L98.9,78.5L98.5,78.4L98.0,78.0L98.0,78.0L97.7,77.5L97.6,77.0L97.7,76.5L98.0,76.0L98.0,76.0L98.5,75.6L98.8,75.5ZM209.6,113.0L210.0,112.8L210.5,112.7L211.0,112.8L211.4,113.0L211.5,113.1L211.9,113.5L212.0,113.7L212.1,114.0L212.2,114.5L212.3,115.0L212.2,115.5L212.1,116.0L212.0,116.3L211.9,116.5L211.5,116.9L211.4,117.0L211.0,117.3L210.5,117.4L210.0,117.3L209.6,117.0L209.5,116.9L209.1,116.5L209.0,116.3L208.9,116.0L208.8,115.5L208.7,115.0L208.7,114.5L208.9,114.0L209.0,113.7L209.1,113.5L209.5,113.1L209.6,113.0Z" fill="#b8212a" fill-rule="evenodd"/><rect x="80" y="20" width="170" height="115" fill="url(#cty1)"/></g>
<path d="M92.6,35.2L94.6,36.1L95.3,37.5L96.5,39.1L99.0,39.6L101.3,40.1L104.0,39.9L104.8,39.8L110.0,41.1M110.0,41.1L110.0,39.4L112.1,29.6M110.0,41.1L110.7,42.9L109.3,45.8L107.9,47.5L107.9,49.5L106.5,56.5M87.6,51.2L98.6,54.5L106.5,56.5L114.4,58.3L122.4,59.8M98.6,54.5L95.8,66.0L107.8,85.3M107.8,85.3L107.9,88.2L107.1,90.8L105.9,94.1M107.8,85.3L108.1,81.7L110.3,80.9L110.9,77.8M110.9,77.8L114.4,58.3M114.4,30.2L113.7,34.0L114.1,36.3L116.3,39.7L116.0,44.1L117.5,44.4L118.8,49.5L120.7,49.2L123.9,50.0M124.1,48.1L122.4,59.8M124.1,48.1L142.2,50.4M122.4,59.8L121.8,63.7L140.9,66.2L146.4,66.7M127.3,64.6L122.4,102.7M110.9,77.8L142.7,82.3L167.1,83.1M146.4,66.7L145.5,82.5M146.2,70.6L165.0,71.2M142.7,82.3L141.4,102.2L130.2,101.0L130.4,101.9M142.6,84.3L151.4,84.9L151.1,92.6L153.4,93.7L157.0,95.0L160.1,96.1L163.1,95.7L166.1,95.6L169.1,96.8M143.4,34.8L140.9,66.2M142.5,46.7L161.7,47.7M141.6,58.3L156.4,59.2L159.1,59.8L161.9,61.3M160.1,35.7L161.1,41.5L161.7,47.7L161.6,50.2L161.9,50.2L161.9,57.3M161.9,57.3L161.9,61.3M161.9,61.3L162.8,64.0L163.4,66.4L163.6,68.8L165.0,71.2L166.2,73.6L167.0,74.8L167.1,83.1M161.9,57.3L175.8,57.0M163.7,68.8L175.8,69.4M173.0,44.3L172.5,44.7L172.5,46.8L171.5,48.8L171.4,52.2L173.6,53.5L175.8,57.0L176.3,60.1L178.9,63.5L176.8,66.4L175.8,69.4L177.1,72.8L179.6,75.8L181.9,81.3L183.0,82.4L182.1,84.4L181.7,86.5L180.7,90.1L180.1,90.6L179.3,93.0L178.0,95.5L177.9,98.6L177.4,103.0L176.9,106.6M167.1,85.1L180.2,84.6L179.6,86.6L181.7,86.5M167.1,83.1L167.1,85.1L167.8,89.5L167.7,96.5M169.1,96.8L169.1,98.9L169.2,103.0L170.3,105.3L170.8,108.8L170.1,112.0M169.1,98.9L177.9,98.6M176.9,106.6L182.8,106.3L183.0,107.9L183.4,109.4M186.4,90.1L187.0,94.0L186.5,102.4L187.1,108.3M194.1,89.3L196.2,97.4L197.0,99.7L197.0,102.5L197.6,104.8L198.0,106.0L202.5,105.6L206.6,105.3L207.1,106.0L207.4,104.2L208.8,104.4M189.5,105.7L197.6,104.8M189.5,105.7L190.0,108.5M180.1,90.6L198.0,88.8L201.5,88.3M182.1,84.4L186.3,84.1L186.4,83.4L199.0,82.2L204.8,81.4L221.6,78.3M198.0,88.8L200.1,86.3L201.7,84.7L204.2,83.5L204.8,81.4M201.5,88.3L203.3,90.1L204.9,93.4L207.4,95.4L209.8,98.8M201.5,88.3L203.5,87.2L207.6,86.7L208.4,88.0L211.7,87.4L215.9,90.5M186.2,63.3L186.9,72.7L186.9,75.2L186.3,77.3L186.0,78.9M183.0,82.4L184.9,81.8L186.0,78.9L188.9,78.3L190.9,77.6L192.9,74.6L194.7,72.8L197.1,73.7L199.9,73.7L201.2,74.7L203.2,72.0L203.8,70.5L205.3,68.8L205.8,64.9M201.2,74.7L202.1,76.6L203.6,77.9L202.7,78.9L199.0,82.2M203.6,77.9L206.4,78.3L208.3,77.1L209.0,74.2L209.9,72.8L211.3,70.9L212.5,69.5L214.2,69.3L214.4,68.7M209.2,68.0L209.5,70.1L211.1,68.1L213.3,67.7L214.4,68.7L216.3,69.9L217.0,71.8L219.3,72.9M186.1,63.1L193.6,62.5L197.2,62.0M193.6,62.5L194.7,72.8M204.9,59.6L206.3,68.5M206.3,68.5L219.3,65.9M219.3,65.9L220.3,70.8L222.4,70.3M219.3,65.9L220.2,65.2L220.1,66.2M206.8,58.2L207.0,59.2L218.7,56.8L219.5,57.4L221.0,58.9M221.0,58.9L220.3,61.1L220.5,62.0L221.7,63.4L220.3,65.3M221.0,58.9L223.4,59.7M221.4,43.8L222.1,47.8L223.6,52.5L223.6,55.3L224.1,59.5M226.0,42.6L226.2,44.2L225.4,45.7L225.1,48.6L225.7,52.0M223.6,52.5L225.7,52.0L228.7,51.3L229.9,50.3M226.8,41.2L228.5,46.8L229.9,49.4M223.6,55.3L228.1,54.3L229.2,53.9L230.4,55.8M228.1,54.3L228.7,56.9M177.5,60.8L185.2,60.2M177.3,44.8L178.1,45.5L181.0,46.3L183.6,47.3L184.9,49.9M220.4,72.8L222.2,72.1" fill="none" stroke="#3f4a50" stroke-width="0.6" stroke-linejoin="round"/>
<path d="M93.3,26.7L93.0,28.6L93.0,32.3L92.6,35.2L92.0,38.1L90.7,41.4L89.3,45.9L87.7,47.7L87.6,51.2L87.3,53.5L85.4,56.9L86.0,61.0L85.6,63.4L86.6,67.4L87.7,69.0L87.4,71.0L88.2,73.7L89.1,77.7L90.1,80.9L90.2,83.2L93.7,85.4L95.6,86.5L96.6,87.7L98.3,91.2L98.5,93.2L105.9,94.1L116.1,101.7L125.0,103.0L125.2,101.3L130.4,101.9L134.7,106.7L136.0,110.8L139.6,113.9L141.7,111.1L145.9,111.3L148.3,114.9L151.6,120.5L152.8,124.5L155.8,126.2L159.3,126.8L158.5,123.5L158.5,119.6L161.1,116.8L165.3,114.9L167.3,113.5L170.1,112.0L174.3,112.3L178.5,113.7L182.1,113.8L185.0,114.0L183.5,111.8L183.4,109.4L186.8,108.5L188.4,108.8L190.0,108.5L193.1,107.7L196.9,110.1L200.2,108.5L203.0,109.7L205.5,112.1L206.4,116.3L208.6,120.0L210.3,122.5L213.1,125.6L215.4,125.2L216.0,122.7L215.6,119.2L214.0,115.9L212.8,112.9L211.1,110.0L209.2,105.9L209.0,102.0L210.0,98.6L212.4,95.4L214.2,93.4L215.9,90.5L217.6,89.5L219.7,86.2L221.2,85.9L223.7,83.1L222.1,79.6L221.1,77.0L221.6,74.4L222.3,72.2L222.4,70.3L222.0,69.0L222.4,68.3L223.4,66.2L223.9,63.2L223.6,61.7L223.8,61.2L227.3,59.3L228.8,58.0L226.9,57.7L229.7,56.2L230.9,55.6L231.7,55.2L233.3,54.2L232.6,52.8L231.7,54.2L229.9,52.6L230.6,50.9L229.9,49.3L230.6,46.8L233.2,44.2L235.4,42.2L237.6,39.9L234.5,37.2L233.0,31.9L231.6,31.4L229.2,31.6L228.1,35.1L228.1,38.1L227.4,40.6L226.0,42.6L218.0,44.8L216.6,45.7L214.5,48.8L215.2,51.1L212.1,53.2L208.0,53.9L208.4,55.3L206.7,58.3L203.7,60.0L199.3,62.5L197.2,62.0L198.0,60.3L199.3,58.1L199.4,56.5L198.8,54.2L197.5,52.6L196.3,53.4L195.1,54.7L196.3,51.8L196.0,48.8L192.0,46.5L190.1,47.8L190.1,50.2L188.7,51.9L188.2,54.8L189.4,59.4L188.1,62.9L186.3,63.5L185.9,62.6L185.2,60.2L184.7,57.5L184.9,53.5L186.5,49.0L184.0,52.4L184.9,49.9L184.2,48.0L187.2,46.5L189.9,45.4L191.9,46.1L193.4,44.6L192.5,43.5L190.9,42.8L187.2,44.4L184.9,44.4L182.8,43.0L183.3,40.8L181.7,41.9L179.5,43.7L177.3,44.6L175.7,43.9L173.0,44.3L175.6,42.0L179.0,39.1L176.0,38.8L173.0,38.0L169.5,37.1L166.5,36.7L166.0,34.5L165.2,34.2L165.2,35.7L153.3,35.5L141.1,34.6L129.0,33.0L117.0,30.7L105.1,27.8L98.6,25.9L98.7,27.9L97.1,28.9L94.8,27.9Z" fill="none" stroke="#3a3a3a" stroke-width="0.7" stroke-linejoin="round"/>
<path d="M98.7,28.2L98.2,29.8L97.5,31.2L96.7,32.6M88.5,67.6L88.3,68.8L88.6,70.1M218.6,66.7L218.1,68.3L218.1,69.5L218.8,71.4L219.4,72.9L219.8,74.4L220.7,76.4M220.1,66.2L221.1,67.6L222.2,68.8" fill="none" stroke="#333" stroke-width="0.9" stroke-linecap="round" stroke-linejoin="round"/>
<path d="M305.7,32.3L305.5,34.0L305.5,37.6L305.1,40.3L304.5,43.1L303.3,46.2L301.9,50.5L300.4,52.2L300.3,55.5L300.0,57.7L298.2,61.0L298.8,64.9L298.4,67.1L299.4,71.0L300.4,72.5L300.2,74.4L300.9,76.9L301.7,80.7L302.7,83.7L302.8,85.9L306.1,88.0L307.9,89.0L308.9,90.2L310.5,93.6L310.7,95.4L317.7,96.3L327.5,103.5L335.9,104.8L336.1,103.1L341.1,103.7L345.2,108.3L346.4,112.2L349.9,115.1L351.9,112.4L355.9,112.6L358.1,116.0L361.3,121.4L362.5,125.2L365.3,126.7L368.6,127.4L367.9,124.2L367.9,120.5L370.4,117.9L374.4,116.0L376.3,114.7L379.0,113.3L383.0,113.6L387.0,114.9L390.4,115.0L393.2,115.2L391.8,113.1L391.7,110.8L394.9,110.0L396.5,110.2L398.0,109.9L400.9,109.2L404.5,111.5L407.7,109.9L410.3,111.1L412.8,113.4L413.6,117.4L415.7,120.9L417.3,123.2L420.0,126.2L422.2,125.8L422.8,123.4L422.4,120.1L420.8,117.0L419.7,114.1L418.1,111.4L416.3,107.5L416.0,103.8L417.1,100.5L419.3,97.5L421.0,95.6L422.6,92.8L424.2,91.9L426.3,88.8L427.7,88.5L430.1,85.8L428.5,82.5L427.6,80.0L428.1,77.6L428.8,75.5L428.8,73.7L428.4,72.5L428.9,71.8L429.8,69.8L430.3,67.0L430.0,65.5L430.1,65.1L433.5,63.2L435.0,61.9L433.2,61.7L435.8,60.2L437.0,59.7L437.7,59.3L439.2,58.4L438.6,57.1L437.7,58.4L436.0,56.8L436.7,55.3L436.0,53.7L436.7,51.4L439.2,48.9L441.3,47.0L443.4,44.8L440.4,42.2L439.0,37.2L437.6,36.7L435.4,37.0L434.3,40.2L434.3,43.1L433.6,45.5L432.3,47.3L424.6,49.4L423.3,50.3L421.3,53.2L422.0,55.4L419.0,57.4L415.2,58.1L415.5,59.4L413.9,62.2L411.0,63.9L406.9,66.3L404.8,65.8L405.5,64.2L406.8,62.1L406.9,60.6L406.3,58.4L405.1,56.8L403.9,57.6L402.8,58.9L404.0,56.1L403.6,53.3L399.8,51.0L398.1,52.3L398.1,54.6L396.7,56.2L396.2,58.9L397.4,63.3L396.2,66.7L394.4,67.2L394.0,66.3L393.3,64.1L392.9,61.5L393.1,57.7L394.6,53.4L392.2,56.7L393.0,54.3L392.4,52.5L395.2,51.1L397.8,50.1L399.8,50.7L401.2,49.3L400.3,48.2L398.8,47.5L395.3,49.0L393.1,49.1L391.1,47.8L391.6,45.7L390.0,46.7L388.0,48.4L385.8,49.3L384.3,48.6L381.7,48.9L384.3,46.8L387.4,44.1L384.6,43.8L381.7,43.0L378.4,42.2L375.6,41.8L375.1,39.7L374.3,39.4L374.3,40.8L363.0,40.6L351.3,39.7L339.8,38.2L328.3,36.1L316.9,33.3L310.8,31.5L310.8,33.4L309.4,34.3L307.2,33.4Z" fill="#f9f9f9" stroke="none"/>
<path d="M305.1,40.3L307.0,41.2L307.6,42.5L308.8,44.0L311.2,44.6L313.4,45.0L315.9,44.8L316.7,44.7L321.6,46.0M321.6,46.0L321.7,44.3L323.6,35.0M321.6,46.0L322.3,47.7L321.0,50.4L319.7,52.0L319.7,54.0L318.3,60.6M300.3,55.5L310.8,58.6L318.3,60.6L325.8,62.3L333.5,63.7M310.8,58.6L308.2,69.6L319.5,87.9M319.5,87.9L319.7,90.6L318.9,93.2L317.7,96.3M319.5,87.9L319.8,84.5L322.0,83.8L322.5,80.8M322.5,80.8L325.8,62.3M325.9,35.5L325.2,39.2L325.6,41.3L327.7,44.7L327.4,48.8L328.8,49.1L330.0,53.9L331.8,53.7L334.9,54.4M335.2,52.5L333.5,63.7M335.2,52.5L352.4,54.8M333.5,63.7L332.9,67.4L351.2,69.8L356.4,70.2M338.1,68.2L333.4,104.4M322.5,80.8L352.9,85.1L376.1,85.8M356.4,70.2L355.5,85.3M356.2,74.0L374.2,74.5M352.9,85.1L351.6,103.9L340.9,102.9L341.1,103.7M352.8,87.0L361.1,87.5L360.8,94.8L363.1,95.9L366.5,97.1L369.4,98.1L372.3,97.8L375.2,97.7L378.0,98.8M353.6,39.9L351.2,69.8M352.6,51.3L370.9,52.2M351.8,62.3L365.9,63.1L368.5,63.7L371.1,65.1M369.4,40.8L370.4,46.3L370.9,52.2L370.9,54.6L371.2,54.6L371.2,61.3M371.2,61.3L371.1,65.1M371.1,65.1L372.0,67.7L372.6,70.0L372.8,72.3L374.2,74.5L375.2,76.8L376.0,77.9L376.1,85.8M371.2,61.3L384.4,61.0M372.9,72.3L384.4,72.8M381.7,48.9L381.2,49.3L381.3,51.4L380.3,53.3L380.3,56.5L382.3,57.7L384.4,61.0L384.8,64.0L387.3,67.2L385.4,70.0L384.4,72.8L385.7,76.0L388.0,78.9L390.2,84.1L391.3,85.1L390.4,87.1L390.0,89.0L389.1,92.5L388.5,92.9L387.8,95.2L386.5,97.6L386.4,100.6L385.9,104.8L385.5,108.2M376.1,87.7L388.6,87.2L388.0,89.2L390.0,89.0M376.1,85.8L376.1,87.7L376.7,91.9L376.7,98.5M378.0,98.8L378.0,100.8L378.1,104.7L379.2,106.9L379.7,110.3L379.0,113.3M378.0,100.8L386.4,100.5M385.5,108.2L391.1,107.8L391.3,109.3L391.7,110.8M394.5,92.5L395.1,96.2L394.7,104.2L395.2,109.8M401.9,91.7L403.8,99.4L404.7,101.6L404.7,104.3L405.2,106.5L405.6,107.6L409.8,107.2L413.7,106.9L414.3,107.6L414.5,105.9L415.9,106.1M397.4,107.3L405.2,106.5M397.4,107.3L398.0,109.9M388.5,92.9L405.6,91.2L408.9,90.8M390.4,87.1L394.4,86.8L394.6,86.1L406.6,85.0L412.1,84.2L428.1,81.2M405.6,91.2L407.6,88.9L409.1,87.3L411.5,86.2L412.1,84.2M408.9,90.8L410.6,92.4L412.2,95.6L414.5,97.5L416.8,100.8M408.9,90.8L410.8,89.7L414.8,89.3L415.5,90.5L418.6,89.9L422.6,92.8M394.3,67.1L395.0,75.9L395.0,78.4L394.4,80.3L394.1,81.9M391.3,85.1L393.1,84.6L394.1,81.9L396.9,81.2L398.8,80.6L400.7,77.8L402.4,76.0L404.7,76.9L407.4,76.9L408.7,77.8L410.5,75.3L411.1,73.8L412.5,72.2L413.0,68.6M408.7,77.8L409.5,79.6L410.9,80.9L410.0,81.8L406.6,85.0M410.9,80.9L413.6,81.3L415.4,80.2L416.0,77.4L416.9,76.1L418.3,74.3L419.4,72.9L421.0,72.7L421.2,72.1M416.2,71.5L416.6,73.4L418.1,71.6L420.2,71.2L421.2,72.1L423.1,73.3L423.7,75.1L425.9,76.1M394.3,66.8L401.3,66.3L404.8,65.8M401.3,66.3L402.4,76.0M412.2,63.5L413.5,72.0M413.5,72.0L425.9,69.5M425.9,69.5L426.9,74.2L428.8,73.7M425.9,69.5L426.7,68.9L426.6,69.8M414.0,62.1L414.1,63.2L425.3,60.8L426.1,61.4L427.5,62.8M427.5,62.8L426.9,64.9L427.1,65.8L428.1,67.1L426.9,68.9M427.5,62.8L429.8,63.6M427.9,48.5L428.6,52.3L430.0,56.7L430.0,59.5L430.5,63.4M432.3,47.3L432.4,48.9L431.7,50.3L431.4,53.1L432.0,56.3M430.0,56.7L432.0,56.3L434.9,55.6L436.0,54.6M433.1,46.0L434.7,51.4L436.0,53.8M430.0,59.5L434.3,58.4L435.3,58.1L436.4,59.9M434.3,58.4L434.9,61.0M386.1,64.7L393.3,64.1M385.8,49.5L386.6,50.2L389.3,50.9L391.9,51.8L393.0,54.3M427.0,76.1L428.6,75.4" fill="none" stroke="#747474" stroke-width="0.6" stroke-linejoin="round"/>
<path d="M305.7,32.3L305.5,34.0L305.5,37.6L305.1,40.3L304.5,43.1L303.3,46.2L301.9,50.5L300.4,52.2L300.3,55.5L300.0,57.7L298.2,61.0L298.8,64.9L298.4,67.1L299.4,71.0L300.4,72.5L300.2,74.4L300.9,76.9L301.7,80.7L302.7,83.7L302.8,85.9L306.1,88.0L307.9,89.0L308.9,90.2L310.5,93.6L310.7,95.4L317.7,96.3L327.5,103.5L335.9,104.8L336.1,103.1L341.1,103.7L345.2,108.3L346.4,112.2L349.9,115.1L351.9,112.4L355.9,112.6L358.1,116.0L361.3,121.4L362.5,125.2L365.3,126.7L368.6,127.4L367.9,124.2L367.9,120.5L370.4,117.9L374.4,116.0L376.3,114.7L379.0,113.3L383.0,113.6L387.0,114.9L390.4,115.0L393.2,115.2L391.8,113.1L391.7,110.8L394.9,110.0L396.5,110.2L398.0,109.9L400.9,109.2L404.5,111.5L407.7,109.9L410.3,111.1L412.8,113.4L413.6,117.4L415.7,120.9L417.3,123.2L420.0,126.2L422.2,125.8L422.8,123.4L422.4,120.1L420.8,117.0L419.7,114.1L418.1,111.4L416.3,107.5L416.0,103.8L417.1,100.5L419.3,97.5L421.0,95.6L422.6,92.8L424.2,91.9L426.3,88.8L427.7,88.5L430.1,85.8L428.5,82.5L427.6,80.0L428.1,77.6L428.8,75.5L428.8,73.7L428.4,72.5L428.9,71.8L429.8,69.8L430.3,67.0L430.0,65.5L430.1,65.1L433.5,63.2L435.0,61.9L433.2,61.7L435.8,60.2L437.0,59.7L437.7,59.3L439.2,58.4L438.6,57.1L437.7,58.4L436.0,56.8L436.7,55.3L436.0,53.7L436.7,51.4L439.2,48.9L441.3,47.0L443.4,44.8L440.4,42.2L439.0,37.2L437.6,36.7L435.4,37.0L434.3,40.2L434.3,43.1L433.6,45.5L432.3,47.3L424.6,49.4L423.3,50.3L421.3,53.2L422.0,55.4L419.0,57.4L415.2,58.1L415.5,59.4L413.9,62.2L411.0,63.9L406.9,66.3L404.8,65.8L405.5,64.2L406.8,62.1L406.9,60.6L406.3,58.4L405.1,56.8L403.9,57.6L402.8,58.9L404.0,56.1L403.6,53.3L399.8,51.0L398.1,52.3L398.1,54.6L396.7,56.2L396.2,58.9L397.4,63.3L396.2,66.7L394.4,67.2L394.0,66.3L393.3,64.1L392.9,61.5L393.1,57.7L394.6,53.4L392.2,56.7L393.0,54.3L392.4,52.5L395.2,51.1L397.8,50.1L399.8,50.7L401.2,49.3L400.3,48.2L398.8,47.5L395.3,49.0L393.1,49.1L391.1,47.8L391.6,45.7L390.0,46.7L388.0,48.4L385.8,49.3L384.3,48.6L381.7,48.9L384.3,46.8L387.4,44.1L384.6,43.8L381.7,43.0L378.4,42.2L375.6,41.8L375.1,39.7L374.3,39.4L374.3,40.8L363.0,40.6L351.3,39.7L339.8,38.2L328.3,36.1L316.9,33.3L310.8,31.5L310.8,33.4L309.4,34.3L307.2,33.4Z" fill="none" stroke="#5e5e5e" stroke-width="0.7" stroke-linejoin="round"/>
<path d="M310.9,33.6L310.4,35.2L309.8,36.6L309.0,37.9M301.2,71.1L301.0,72.3L301.2,73.5M425.2,70.3L424.7,71.8L424.8,72.9L425.4,74.7L426.0,76.1L426.4,77.6L427.2,79.5M426.6,69.8L427.6,71.1L428.7,72.2" fill="none" stroke="#333" stroke-width="0.9" stroke-linecap="round" stroke-linejoin="round"/>
<path d="M93.0,145.9L92.8,147.8L92.8,151.4L92.4,154.2L91.8,157.1L90.5,160.4L89.1,164.8L87.5,166.6L87.4,170.0L87.1,172.3L85.2,175.7L85.8,179.7L85.4,182.0L86.4,186.0L87.5,187.6L87.2,189.5L88.0,192.2L88.8,196.1L89.9,199.3L90.0,201.5L93.4,203.7L95.3,204.8L96.3,206.0L98.0,209.5L98.2,211.4L105.5,212.3L115.7,219.7L124.5,221.1L124.7,219.3L129.8,220.0L134.2,224.7L135.4,228.7L139.0,231.8L141.1,229.0L145.2,229.2L147.6,232.7L150.9,238.3L152.1,242.2L155.0,243.8L158.5,244.5L157.7,241.2L157.8,237.3L160.4,234.7L164.5,232.7L166.4,231.3L169.3,229.9L173.4,230.2L177.6,231.5L181.1,231.7L184.0,231.9L182.6,229.7L182.5,227.3L185.9,226.5L187.5,226.7L189.0,226.4L192.1,225.7L195.8,228.0L199.2,226.4L201.9,227.6L204.4,230.0L205.3,234.2L207.4,237.7L209.1,240.2L211.9,243.3L214.2,242.9L214.8,240.4L214.5,237.0L212.8,233.7L211.7,230.8L209.9,227.9L208.1,223.9L207.8,220.0L208.9,216.7L211.2,213.5L213.0,211.6L214.7,208.7L216.4,207.8L218.5,204.5L220.0,204.2L222.4,201.4L220.8,198.0L219.9,195.4L220.4,192.9L221.1,190.7L221.2,188.9L220.7,187.6L221.2,186.9L222.2,184.8L222.7,181.9L222.3,180.3L222.5,179.9L226.0,178.0L227.5,176.7L225.6,176.4L228.4,174.9L229.6,174.3L230.4,173.9L231.9,173.0L231.3,171.6L230.4,173.0L228.6,171.4L229.3,169.8L228.6,168.2L229.3,165.7L231.9,163.1L234.1,161.2L236.3,158.9L233.2,156.2L231.7,151.0L230.3,150.5L227.9,150.8L226.8,154.2L226.8,157.2L226.1,159.6L224.8,161.5L216.8,163.7L215.4,164.6L213.3,167.7L214.1,169.9L210.9,172.0L206.9,172.7L207.3,174.1L205.6,177.0L202.6,178.7L198.3,181.2L196.2,180.7L196.9,179.0L198.2,176.8L198.3,175.2L197.7,173.0L196.5,171.4L195.2,172.2L194.1,173.5L195.3,170.6L194.9,167.7L191.0,165.4L189.1,166.7L189.1,169.0L187.7,170.7L187.2,173.5L188.4,178.1L187.1,181.6L185.3,182.2L184.9,181.2L184.2,178.9L183.7,176.2L183.9,172.3L185.5,167.9L183.1,171.2L183.9,168.8L183.2,166.9L186.2,165.4L188.9,164.4L190.9,165.0L192.4,163.5L191.5,162.5L189.9,161.7L186.2,163.3L184.0,163.3L181.8,162.0L182.4,159.8L180.7,160.9L178.6,162.6L176.4,163.5L174.8,162.9L172.1,163.2L174.8,160.9L178.1,158.1L175.1,157.8L172.1,157.0L168.7,156.2L165.7,155.8L165.2,153.6L164.4,153.3L164.4,154.7L152.6,154.5L140.5,153.6L128.5,152.1L116.5,149.9L104.7,147.0L98.3,145.1L98.4,147.1L96.8,148.0L94.5,147.1Z" fill="#f9f9f9" stroke="none"/>
<path d="M92.4,154.2L94.3,155.2L95.0,156.5L96.2,158.1L98.7,158.6L101.0,159.1L103.7,158.9L104.5,158.8L109.6,160.1M109.6,160.1L109.6,158.4L111.7,148.8M109.6,160.1L110.3,161.9L108.9,164.7L107.5,166.4L107.6,168.4L106.1,175.3M87.4,170.0L98.3,173.3L106.1,175.3L114.0,177.0L121.9,178.5M98.3,173.3L95.6,184.6L107.4,203.6M107.4,203.6L107.6,206.4L106.8,209.0L105.5,212.3M107.4,203.6L107.7,200.1L109.9,199.3L110.5,196.2M110.5,196.2L114.0,177.0M114.0,149.3L113.3,153.1L113.7,155.3L115.9,158.8L115.6,163.0L117.1,163.3L118.3,168.3L120.2,168.1L123.4,168.9M123.7,166.9L121.9,178.5M123.7,166.9L141.6,169.3M121.9,178.5L121.3,182.4L140.3,184.8L145.8,185.2M126.8,183.2L121.9,220.7M110.5,196.2L142.1,200.7L166.3,201.5M145.8,185.2L144.8,200.9M145.6,189.2L164.2,189.7M142.1,200.7L140.8,220.2L129.6,219.1L129.8,220.0M142.0,202.7L150.7,203.2L150.4,210.8L152.7,211.9L156.3,213.2L159.3,214.2L162.3,213.8L165.3,213.7L168.2,214.9M142.8,153.9L140.3,184.8M141.9,165.6L160.9,166.5M141.0,177.0L155.7,177.9L158.3,178.5L161.1,179.9M159.3,154.7L160.3,160.5L160.9,166.5L160.9,169.0L161.2,169.0L161.1,176.0M161.1,176.0L161.1,179.9M161.1,179.9L162.0,182.7L162.6,185.0L162.9,187.4L164.2,189.7L165.4,192.1L166.2,193.2L166.3,201.5M161.1,176.0L174.9,175.7M162.9,187.4L174.9,187.9M172.1,163.2L171.6,163.6L171.7,165.7L170.6,167.7L170.6,171.0L172.7,172.3L174.9,175.7L175.4,178.8L178.0,182.2L175.9,185.0L174.9,187.9L176.3,191.3L178.7,194.3L181.0,199.6L182.1,200.7L181.2,202.8L180.7,204.8L179.8,208.4L179.2,208.8L178.4,211.2L177.1,213.6L177.0,216.8L176.5,221.1L176.0,224.6M166.3,203.4L179.3,202.9L178.7,204.9L180.7,204.8M166.3,201.5L166.3,203.4L166.9,207.7L166.9,214.6M168.2,214.9L168.3,217.0L168.3,221.0L169.4,223.3L170.0,226.8L169.3,229.9M168.3,217.0L177.0,216.7M176.0,224.6L181.9,224.3L182.0,225.8L182.5,227.3M185.4,208.3L186.0,212.2L185.6,220.5L186.2,226.3M193.1,207.5L195.1,215.6L196.0,217.8L196.0,220.6L196.6,222.8L197.0,224.0L201.4,223.6L205.4,223.3L206.0,224.0L206.2,222.3L207.7,222.4M188.5,223.7L196.6,222.8M188.5,223.7L189.0,226.4M179.2,208.8L196.9,207.1L200.4,206.6M181.2,202.8L185.3,202.4L185.5,201.7L198.0,200.6L203.7,199.8L220.4,196.7M196.9,207.1L199.0,204.6L200.6,203.0L203.1,201.8L203.7,199.8M200.4,206.6L202.2,208.3L203.8,211.6L206.3,213.6L208.6,216.9M200.4,206.6L202.4,205.5L206.5,205.0L207.3,206.3L210.5,205.7L214.7,208.7M185.2,182.0L186.0,191.2L186.0,193.7L185.3,195.7L185.0,197.3M182.1,200.7L183.9,200.2L185.0,197.3L187.9,196.7L189.9,196.1L191.9,193.1L193.7,191.3L196.0,192.2L198.9,192.2L200.2,193.2L202.1,190.5L202.7,189.0L204.2,187.4L204.6,183.5M200.2,193.2L201.0,195.0L202.5,196.4L201.6,197.3L198.0,200.6M202.5,196.4L205.3,196.7L207.1,195.6L207.8,192.7L208.8,191.3L210.2,189.4L211.4,188.0L213.0,187.9L213.2,187.2M208.0,186.6L208.4,188.6L210.0,186.7L212.2,186.3L213.2,187.2L215.1,188.4L215.8,190.3L218.0,191.4M185.2,181.8L192.5,181.2L196.2,180.7M192.5,181.2L193.7,191.3M203.8,178.3L205.2,187.1M205.2,187.1L218.1,184.5M218.1,184.5L219.1,189.4L221.2,188.9M218.1,184.5L219.0,183.9L218.9,184.8M205.7,176.9L205.8,177.9L217.5,175.5L218.3,176.1L219.7,177.6M219.7,177.6L219.1,179.7L219.3,180.7L220.4,182.0L219.1,183.9M219.7,177.6L222.2,178.4M220.2,162.8L220.9,166.6L222.4,171.3L222.3,174.1L222.8,178.2M224.8,161.5L224.9,163.2L224.2,164.6L223.8,167.5L224.4,170.8M222.3,171.3L224.4,170.8L227.4,170.1L228.6,169.1M225.5,160.2L227.2,165.7L228.6,168.2M222.3,174.1L226.8,173.0L227.9,172.7L229.1,174.5M226.8,173.0L227.4,175.7M176.6,179.5L184.2,178.9M176.4,163.7L177.2,164.5L180.0,165.2L182.7,166.2L183.9,168.8M219.2,191.3L220.9,190.6" fill="none" stroke="#747474" stroke-width="0.6" stroke-linejoin="round"/>
<path d="M93.0,145.9L92.8,147.8L92.8,151.4L92.4,154.2L91.8,157.1L90.5,160.4L89.1,164.8L87.5,166.6L87.4,170.0L87.1,172.3L85.2,175.7L85.8,179.7L85.4,182.0L86.4,186.0L87.5,187.6L87.2,189.5L88.0,192.2L88.8,196.1L89.9,199.3L90.0,201.5L93.4,203.7L95.3,204.8L96.3,206.0L98.0,209.5L98.2,211.4L105.5,212.3L115.7,219.7L124.5,221.1L124.7,219.3L129.8,220.0L134.2,224.7L135.4,228.7L139.0,231.8L141.1,229.0L145.2,229.2L147.6,232.7L150.9,238.3L152.1,242.2L155.0,243.8L158.5,244.5L157.7,241.2L157.8,237.3L160.4,234.7L164.5,232.7L166.4,231.3L169.3,229.9L173.4,230.2L177.6,231.5L181.1,231.7L184.0,231.9L182.6,229.7L182.5,227.3L185.9,226.5L187.5,226.7L189.0,226.4L192.1,225.7L195.8,228.0L199.2,226.4L201.9,227.6L204.4,230.0L205.3,234.2L207.4,237.7L209.1,240.2L211.9,243.3L214.2,242.9L214.8,240.4L214.5,237.0L212.8,233.7L211.7,230.8L209.9,227.9L208.1,223.9L207.8,220.0L208.9,216.7L211.2,213.5L213.0,211.6L214.7,208.7L216.4,207.8L218.5,204.5L220.0,204.2L222.4,201.4L220.8,198.0L219.9,195.4L220.4,192.9L221.1,190.7L221.2,188.9L220.7,187.6L221.2,186.9L222.2,184.8L222.7,181.9L222.3,180.3L222.5,179.9L226.0,178.0L227.5,176.7L225.6,176.4L228.4,174.9L229.6,174.3L230.4,173.9L231.9,173.0L231.3,171.6L230.4,173.0L228.6,171.4L229.3,169.8L228.6,168.2L229.3,165.7L231.9,163.1L234.1,161.2L236.3,158.9L233.2,156.2L231.7,151.0L230.3,150.5L227.9,150.8L226.8,154.2L226.8,157.2L226.1,159.6L224.8,161.5L216.8,163.7L215.4,164.6L213.3,167.7L214.1,169.9L210.9,172.0L206.9,172.7L207.3,174.1L205.6,177.0L202.6,178.7L198.3,181.2L196.2,180.7L196.9,179.0L198.2,176.8L198.3,175.2L197.7,173.0L196.5,171.4L195.2,172.2L194.1,173.5L195.3,170.6L194.9,167.7L191.0,165.4L189.1,166.7L189.1,169.0L187.7,170.7L187.2,173.5L188.4,178.1L187.1,181.6L185.3,182.2L184.9,181.2L184.2,178.9L183.7,176.2L183.9,172.3L185.5,167.9L183.1,171.2L183.9,168.8L183.2,166.9L186.2,165.4L188.9,164.4L190.9,165.0L192.4,163.5L191.5,162.5L189.9,161.7L186.2,163.3L184.0,163.3L181.8,162.0L182.4,159.8L180.7,160.9L178.6,162.6L176.4,163.5L174.8,162.9L172.1,163.2L174.8,160.9L178.1,158.1L175.1,157.8L172.1,157.0L168.7,156.2L165.7,155.8L165.2,153.6L164.4,153.3L164.4,154.7L152.6,154.5L140.5,153.6L128.5,152.1L116.5,149.9L104.7,147.0L98.3,145.1L98.4,147.1L96.8,148.0L94.5,147.1Z" fill="none" stroke="#5e5e5e" stroke-width="0.7" stroke-linejoin="round"/>
<path d="M98.4,147.3L97.9,149.0L97.2,150.4L96.5,151.7M88.3,186.2L88.1,187.4L88.4,188.7M217.4,185.3L216.9,186.9L216.9,188.0L217.6,189.9L218.2,191.4L218.6,192.9L219.5,194.9M218.9,184.8L219.9,186.2L221.0,187.3" fill="none" stroke="#333" stroke-width="0.9" stroke-linecap="round" stroke-linejoin="round"/>
<path d="M305.3,146.9L305.1,148.7L305.1,152.2L304.7,155.0L304.2,157.8L302.9,161.0L301.5,165.3L299.9,167.0L299.9,170.4L299.5,172.7L297.8,175.9L298.3,179.9L298.0,182.2L298.9,186.0L300.0,187.6L299.7,189.5L300.5,192.1L301.3,195.9L302.3,199.0L302.4,201.2L305.8,203.3L307.6,204.4L308.5,205.6L310.2,208.9L310.4,210.8L317.5,211.7L327.4,219.0L335.9,220.3L336.2,218.6L341.2,219.2L345.4,223.8L346.6,227.8L350.1,230.7L352.1,228.0L356.1,228.2L358.4,231.7L361.7,237.1L362.8,240.9L365.7,242.5L369.1,243.1L368.3,239.9L368.3,236.2L370.9,233.5L374.9,231.6L376.8,230.3L379.5,228.9L383.6,229.2L387.6,230.5L391.1,230.7L393.9,230.8L392.5,228.7L392.4,226.4L395.7,225.6L397.2,225.8L398.7,225.5L401.8,224.8L405.4,227.1L408.6,225.5L411.2,226.7L413.7,229.0L414.6,233.1L416.7,236.6L418.3,239.0L421.0,241.9L423.3,241.5L423.9,239.2L423.5,235.8L421.9,232.6L420.8,229.8L419.1,227.0L417.3,223.1L417.0,219.3L418.1,216.0L420.3,212.9L422.1,211.0L423.7,208.2L425.3,207.3L427.4,204.1L428.8,203.8L431.3,201.1L429.7,197.7L428.8,195.2L429.3,192.7L430.0,190.6L430.0,188.8L429.6,187.6L430.0,186.9L431.0,184.9L431.5,182.0L431.1,180.5L431.3,180.1L434.7,178.2L436.2,176.9L434.4,176.6L437.0,175.2L438.3,174.6L439.0,174.2L440.5,173.3L439.9,172.0L439.0,173.3L437.3,171.8L437.9,170.2L437.3,168.6L438.0,166.2L440.5,163.7L442.6,161.8L444.7,159.5L441.7,156.9L440.3,151.9L438.9,151.3L436.6,151.6L435.5,154.9L435.5,157.9L434.9,160.2L433.5,162.1L425.7,164.2L424.4,165.1L422.4,168.1L423.1,170.3L420.1,172.3L416.1,173.0L416.5,174.4L414.9,177.2L411.9,178.9L407.8,181.3L405.7,180.8L406.4,179.2L407.7,177.1L407.8,175.5L407.2,173.3L406.0,171.8L404.8,172.5L403.7,173.8L404.9,171.0L404.5,168.1L400.6,165.9L398.8,167.2L398.8,169.4L397.5,171.1L397.0,173.9L398.2,178.3L396.9,181.7L395.1,182.3L394.8,181.4L394.1,179.1L393.6,176.5L393.8,172.6L395.3,168.3L393.0,171.6L393.8,169.2L393.1,167.4L396.0,165.9L398.6,164.9L400.6,165.5L402.0,164.1L401.1,163.1L399.6,162.3L396.0,163.9L393.8,163.9L391.7,162.6L392.3,160.4L390.7,161.5L388.6,163.2L386.5,164.1L385.0,163.4L382.3,163.8L384.9,161.5L388.1,158.8L385.2,158.5L382.3,157.7L378.9,156.9L376.1,156.5L375.6,154.4L374.8,154.1L374.8,155.5L363.3,155.3L351.6,154.4L339.8,152.9L328.2,150.7L316.7,147.9L310.5,146.1L310.5,148.1L309.1,149.0L306.8,148.1Z" fill="#f9f9f9" stroke="none"/>
<path d="M304.7,155.0L306.6,155.9L307.3,157.3L308.4,158.8L310.9,159.3L313.1,159.7L315.7,159.6L316.5,159.5L321.5,160.7M321.5,160.7L321.5,159.1L323.5,149.7M321.5,160.7L322.2,162.5L320.8,165.3L319.5,166.9L319.5,168.8L318.1,175.5M299.9,170.4L310.5,173.6L318.1,175.5L325.7,177.2L333.5,178.7M310.5,173.6L307.8,184.7L319.4,203.2M319.4,203.2L319.5,206.0L318.8,208.5L317.5,211.7M319.4,203.2L319.6,199.7L321.8,199.0L322.3,196.0M322.3,196.0L325.7,177.2M325.8,150.2L325.0,153.9L325.5,156.1L327.6,159.4L327.3,163.6L328.8,163.9L330.0,168.8L331.8,168.5L334.9,169.3M335.2,167.4L333.5,178.7M335.2,167.4L352.6,169.7M333.5,178.7L332.9,182.5L351.4,184.9L356.7,185.3M338.2,183.3L333.4,219.9M322.3,196.0L353.1,200.4L376.6,201.1M356.7,185.3L355.8,200.6M356.5,189.1L374.6,189.7M353.1,200.4L351.8,219.4L341.0,218.4L341.2,219.2M353.0,202.3L361.4,202.8L361.2,210.2L363.4,211.3L366.9,212.6L369.8,213.6L372.8,213.2L375.7,213.1L378.5,214.3M353.8,154.6L351.4,184.9M352.9,166.1L371.4,167.0M352.0,177.3L366.3,178.1L368.9,178.7L371.6,180.1M369.9,155.5L370.8,161.1L371.4,167.0L371.4,169.4L371.6,169.4L371.6,176.3M371.6,176.3L371.6,180.1M371.6,180.1L372.5,182.8L373.0,185.1L373.3,187.4L374.6,189.7L375.7,191.9L376.5,193.1L376.6,201.1M371.6,176.3L385.0,176.0M373.4,187.4L385.0,187.9M382.3,163.8L381.8,164.2L381.9,166.2L380.8,168.2L380.8,171.4L382.9,172.6L385.0,176.0L385.5,179.0L388.0,182.3L386.0,185.1L385.0,187.9L386.3,191.2L388.7,194.1L390.9,199.3L392.0,200.4L391.1,202.4L390.7,204.3L389.7,207.9L389.2,208.3L388.5,210.6L387.1,213.0L387.1,216.1L386.6,220.3L386.1,223.7M376.7,203.0L389.3,202.5L388.7,204.5L390.7,204.3M376.6,201.1L376.7,203.0L377.3,207.2L377.2,214.0M378.5,214.3L378.6,216.3L378.6,220.2L379.7,222.5L380.2,225.9L379.5,228.9M378.6,216.3L387.0,216.0M386.1,223.7L391.8,223.4L392.0,224.9L392.4,226.4M395.2,207.8L395.8,211.6L395.4,219.7L396.0,225.4M402.7,207.1L404.7,214.9L405.5,217.1L405.5,219.8L406.1,222.0L406.5,223.1L410.8,222.7L414.7,222.4L415.3,223.2L415.5,221.4L416.9,221.6M398.2,222.9L406.1,222.0M398.2,222.9L398.7,225.5M389.2,208.3L406.4,206.6L409.9,206.1M391.1,202.4L395.2,202.1L395.3,201.4L407.5,200.3L413.1,199.5L429.2,196.5M406.4,206.6L408.5,204.2L410.0,202.6L412.4,201.5L413.1,199.5M409.9,206.1L411.5,207.8L413.2,211.0L415.5,213.0L417.8,216.2M409.9,206.1L411.8,205.1L415.8,204.6L416.5,205.8L419.7,205.3L423.7,208.2M395.0,182.1L395.8,191.1L395.8,193.6L395.1,195.5L394.8,197.1M392.0,200.4L393.8,199.9L394.8,197.1L397.7,196.4L399.6,195.9L401.5,192.9L403.3,191.2L405.6,192.0L408.3,192.0L409.6,193.0L411.4,190.4L412.1,188.9L413.5,187.4L413.9,183.6M409.6,193.0L410.4,194.8L411.8,196.1L411.0,197.1L407.5,200.3M411.8,196.1L414.6,196.5L416.4,195.4L417.1,192.5L418.0,191.2L419.3,189.4L420.5,188.0L422.1,187.9L422.3,187.2M417.3,186.6L417.6,188.6L419.1,186.7L421.3,186.3L422.3,187.2L424.2,188.4L424.8,190.2L427.0,191.3M395.0,181.9L402.2,181.3L405.7,180.8M402.2,181.3L403.3,191.2M413.2,178.5L414.5,187.1M414.5,187.1L427.1,184.5M427.1,184.5L428.0,189.3L430.0,188.8M427.1,184.5L427.9,183.9L427.8,184.9M415.0,177.1L415.1,178.1L426.5,175.8L427.3,176.4L428.6,177.8M428.6,177.8L428.0,179.9L428.2,180.8L429.3,182.1L428.0,184.0M428.6,177.8L431.0,178.6M429.1,163.4L429.8,167.1L431.2,171.7L431.1,174.4L431.6,178.4M433.5,162.1L433.7,163.7L432.9,165.1L432.6,167.9L433.2,171.2M431.2,171.7L433.2,171.2L436.1,170.5L437.2,169.5M434.3,160.8L435.9,166.2L437.3,168.7M431.1,174.4L435.5,173.4L436.6,173.1L437.7,174.8M435.5,173.4L436.1,175.9M386.7,179.7L394.1,179.1M386.5,164.3L387.3,165.0L390.0,165.7L392.6,166.7L393.8,169.2M428.1,191.2L429.8,190.5" fill="none" stroke="#747474" stroke-width="0.6" stroke-linejoin="round"/>
<path d="M305.3,146.9L305.1,148.7L305.1,152.2L304.7,155.0L304.2,157.8L302.9,161.0L301.5,165.3L299.9,167.0L299.9,170.4L299.5,172.7L297.8,175.9L298.3,179.9L298.0,182.2L298.9,186.0L300.0,187.6L299.7,189.5L300.5,192.1L301.3,195.9L302.3,199.0L302.4,201.2L305.8,203.3L307.6,204.4L308.5,205.6L310.2,208.9L310.4,210.8L317.5,211.7L327.4,219.0L335.9,220.3L336.2,218.6L341.2,219.2L345.4,223.8L346.6,227.8L350.1,230.7L352.1,228.0L356.1,228.2L358.4,231.7L361.7,237.1L362.8,240.9L365.7,242.5L369.1,243.1L368.3,239.9L368.3,236.2L370.9,233.5L374.9,231.6L376.8,230.3L379.5,228.9L383.6,229.2L387.6,230.5L391.1,230.7L393.9,230.8L392.5,228.7L392.4,226.4L395.7,225.6L397.2,225.8L398.7,225.5L401.8,224.8L405.4,227.1L408.6,225.5L411.2,226.7L413.7,229.0L414.6,233.1L416.7,236.6L418.3,239.0L421.0,241.9L423.3,241.5L423.9,239.2L423.5,235.8L421.9,232.6L420.8,229.8L419.1,227.0L417.3,223.1L417.0,219.3L418.1,216.0L420.3,212.9L422.1,211.0L423.7,208.2L425.3,207.3L427.4,204.1L428.8,203.8L431.3,201.1L429.7,197.7L428.8,195.2L429.3,192.7L430.0,190.6L430.0,188.8L429.6,187.6L430.0,186.9L431.0,184.9L431.5,182.0L431.1,180.5L431.3,180.1L434.7,178.2L436.2,176.9L434.4,176.6L437.0,175.2L438.3,174.6L439.0,174.2L440.5,173.3L439.9,172.0L439.0,173.3L437.3,171.8L437.9,170.2L437.3,168.6L438.0,166.2L440.5,163.7L442.6,161.8L444.7,159.5L441.7,156.9L440.3,151.9L438.9,151.3L436.6,151.6L435.5,154.9L435.5,157.9L434.9,160.2L433.5,162.1L425.7,164.2L424.4,165.1L422.4,168.1L423.1,170.3L420.1,172.3L416.1,173.0L416.5,174.4L414.9,177.2L411.9,178.9L407.8,181.3L405.7,180.8L406.4,179.2L407.7,177.1L407.8,175.5L407.2,173.3L406.0,171.8L404.8,172.5L403.7,173.8L404.9,171.0L404.5,168.1L400.6,165.9L398.8,167.2L398.8,169.4L397.5,171.1L397.0,173.9L398.2,178.3L396.9,181.7L395.1,182.3L394.8,181.4L394.1,179.1L393.6,176.5L393.8,172.6L395.3,168.3L393.0,171.6L393.8,169.2L393.1,167.4L396.0,165.9L398.6,164.9L400.6,165.5L402.0,164.1L401.1,163.1L399.6,162.3L396.0,163.9L393.8,163.9L391.7,162.6L392.3,160.4L390.7,161.5L388.6,163.2L386.5,164.1L385.0,163.4L382.3,163.8L384.9,161.5L388.1,158.8L385.2,158.5L382.3,157.7L378.9,156.9L376.1,156.5L375.6,154.4L374.8,154.1L374.8,155.5L363.3,155.3L351.6,154.4L339.8,152.9L328.2,150.7L316.7,147.9L310.5,146.1L310.5,148.1L309.1,149.0L306.8,148.1Z" fill="none" stroke="#5e5e5e" stroke-width="0.7" stroke-linejoin="round"/>
<path d="M310.6,148.3L310.1,149.9L309.4,151.2L308.7,152.6M300.7,186.2L300.6,187.4L300.8,188.6M426.4,185.4L425.8,186.9L425.9,188.0L426.5,189.8L427.1,191.3L427.5,192.7L428.4,194.7M427.8,184.9L428.8,186.2L429.8,187.3" fill="none" stroke="#333" stroke-width="0.9" stroke-linecap="round" stroke-linejoin="round"/>
<path d="M93.1,258.5L92.9,260.4L92.9,264.0L92.5,266.9L91.9,269.8L90.6,273.0L89.2,277.4L87.6,279.2L87.5,282.6L87.2,285.0L85.4,288.3L85.9,292.3L85.6,294.7L86.5,298.6L87.6,300.2L87.4,302.2L88.1,304.8L88.9,308.7L90.0,311.9L90.1,314.1L93.5,316.3L95.4,317.4L96.4,318.6L98.1,322.1L98.3,324.0L105.6,324.9L115.7,332.3L124.5,333.7L124.7,331.9L129.8,332.6L134.1,337.3L135.4,341.3L138.9,344.4L141.0,341.6L145.2,341.8L147.5,345.3L150.8,350.9L152.0,354.8L154.9,356.4L158.4,357.1L157.6,353.8L157.7,349.9L160.3,347.3L164.4,345.3L166.3,343.9L169.1,342.5L173.3,342.8L177.5,344.1L181.0,344.3L183.9,344.5L182.4,342.3L182.3,340.0L185.7,339.1L187.3,339.4L188.8,339.0L191.9,338.3L195.6,340.6L199.0,339.0L201.6,340.2L204.2,342.6L205.1,346.8L207.2,350.4L208.9,352.8L211.6,355.9L213.9,355.5L214.6,353.0L214.2,349.6L212.5,346.3L211.4,343.4L209.7,340.6L207.8,336.5L207.6,332.6L208.6,329.3L210.9,326.1L212.8,324.2L214.4,321.3L216.1,320.4L218.2,317.1L219.7,316.8L222.1,314.0L220.5,310.6L219.6,308.0L220.1,305.5L220.8,303.3L220.9,301.5L220.5,300.2L220.9,299.5L221.9,297.4L222.4,294.5L222.0,293.0L222.2,292.5L225.7,290.6L227.2,289.3L225.3,289.0L228.1,287.5L229.3,287.0L230.1,286.6L231.6,285.6L231.0,284.2L230.1,285.6L228.3,284.0L229.0,282.4L228.3,280.8L229.0,278.3L231.6,275.7L233.8,273.8L235.9,271.5L232.9,268.8L231.4,263.7L230.0,263.1L227.6,263.4L226.5,266.8L226.5,269.8L225.8,272.2L224.5,274.2L216.5,276.3L215.1,277.2L213.1,280.3L213.8,282.5L210.7,284.6L206.7,285.3L207.0,286.7L205.3,289.6L202.4,291.3L198.1,293.8L196.0,293.3L196.7,291.6L198.0,289.5L198.1,287.9L197.5,285.6L196.2,284.0L195.0,284.8L193.9,286.1L195.1,283.2L194.7,280.3L190.8,278.0L188.9,279.3L188.9,281.6L187.5,283.4L187.0,286.2L188.2,290.7L187.0,294.2L185.1,294.8L184.8,293.8L184.0,291.6L183.6,288.9L183.8,284.9L185.3,280.5L182.9,283.8L183.7,281.4L183.1,279.5L186.0,278.1L188.7,277.0L190.7,277.6L192.2,276.2L191.3,275.1L189.7,274.3L186.1,275.9L183.8,276.0L181.7,274.6L182.2,272.4L180.6,273.5L178.4,275.2L176.2,276.2L174.7,275.5L172.0,275.8L174.6,273.6L177.9,270.8L174.9,270.5L172.0,269.6L168.5,268.8L165.6,268.4L165.1,266.2L164.2,265.9L164.3,267.4L152.5,267.2L140.5,266.3L128.5,264.7L116.6,262.5L104.8,259.6L98.4,257.7L98.4,259.7L96.9,260.7L94.6,259.8Z" fill="#f9f9f9" stroke="none"/>
<path d="M92.5,266.9L94.4,267.8L95.1,269.2L96.3,270.7L98.8,271.3L101.0,271.7L103.7,271.5L104.6,271.5L109.6,272.7M109.6,272.7L109.7,271.1L111.7,261.4M109.6,272.7L110.4,274.5L109.0,277.4L107.6,279.0L107.6,281.0L106.2,287.9M87.5,282.6L98.4,285.9L106.2,287.9L114.0,289.6L121.9,291.1M98.4,285.9L95.7,297.3L107.5,316.2M107.5,316.2L107.6,319.0L106.8,321.7L105.6,324.9M107.5,316.2L107.8,312.7L110.0,311.9L110.5,308.9M110.5,308.9L114.0,289.6M114.1,261.9L113.3,265.8L113.7,268.0L115.9,271.4L115.6,275.7L117.1,276.0L118.3,281.0L120.2,280.7L123.4,281.5M123.7,279.6L121.9,291.1M123.7,279.6L141.5,281.9M121.9,291.1L121.4,295.0L140.3,297.4L145.7,297.9M126.7,295.8L121.9,333.3M110.5,308.9L142.1,313.3L166.2,314.1M145.7,297.9L144.8,313.5M145.5,301.8L164.1,302.3M142.1,313.3L140.7,332.8L129.6,331.7L129.8,332.6M141.9,315.3L150.6,315.8L150.3,323.4L152.6,324.5L156.2,325.8L159.2,326.8L162.2,326.4L165.2,326.3L168.1,327.5M142.8,266.5L140.3,297.4M141.8,278.3L160.8,279.2M140.9,289.6L155.6,290.5L158.2,291.2L161.0,292.6M159.2,267.3L160.2,273.1L160.8,279.2L160.8,281.7L161.0,281.7L161.0,288.7M161.0,288.7L161.0,292.6M161.0,292.6L161.9,295.3L162.5,297.6L162.7,300.0L164.1,302.3L165.3,304.7L166.1,305.8L166.2,314.1M161.0,288.7L174.8,288.3M162.8,300.0L174.8,300.5M172.0,275.8L171.5,276.2L171.5,278.4L170.5,280.3L170.5,283.6L172.6,284.9L174.8,288.3L175.2,291.4L177.8,294.8L175.8,297.7L174.8,300.5L176.1,303.9L178.5,306.9L180.8,312.2L181.9,313.3L181.0,315.4L180.6,317.4L179.6,321.0L179.0,321.4L178.3,323.8L176.9,326.2L176.8,329.4L176.3,333.7L175.9,337.2M166.2,316.0L179.1,315.5L178.5,317.5L180.6,317.4M166.2,314.1L166.2,316.0L166.8,320.3L166.8,327.2M168.1,327.5L168.1,329.6L168.2,333.6L169.3,335.9L169.9,339.4L169.1,342.5M168.1,329.6L176.8,329.3M175.9,337.2L181.7,336.9L181.9,338.4L182.3,340.0M185.2,320.9L185.8,324.8L185.4,333.1L186.0,338.9M192.9,320.1L194.9,328.2L195.8,330.4L195.8,333.2L196.3,335.5L196.8,336.6L201.1,336.2L205.2,335.9L205.8,336.6L206.0,334.9L207.5,335.0M188.3,336.3L196.3,335.5M188.3,336.3L188.8,339.0M179.0,321.4L196.7,319.7L200.2,319.2M181.0,315.4L185.2,315.0L185.3,314.3L197.8,313.2L203.5,312.4L220.1,309.3M196.7,319.7L198.8,317.2L200.4,315.6L202.8,314.4L203.5,312.4M200.2,319.2L201.9,320.9L203.6,324.2L206.0,326.2L208.4,329.6M200.2,319.2L202.2,318.1L206.3,317.6L207.1,318.9L210.3,318.3L214.4,321.3M185.0,294.6L185.8,303.8L185.8,306.3L185.1,308.4L184.8,310.0M181.9,313.3L183.7,312.8L184.8,310.0L187.8,309.3L189.7,308.7L191.7,305.7L193.5,303.9L195.8,304.8L198.7,304.8L199.9,305.8L201.8,303.1L202.5,301.6L203.9,300.0L204.4,296.2M199.9,305.8L200.8,307.6L202.2,309.0L201.4,309.9L197.8,313.2M202.2,309.0L205.0,309.3L206.9,308.2L207.6,305.3L208.5,303.9L209.9,302.1L211.1,300.6L212.8,300.5L212.9,299.9M207.8,299.2L208.1,301.2L209.7,299.3L211.9,298.9L212.9,299.9L214.9,301.1L215.5,302.9L217.8,304.0M185.0,294.4L192.3,293.8L196.0,293.3M192.3,293.8L193.5,303.9M203.6,290.9L205.0,299.7M205.0,299.7L217.8,297.1M217.8,297.1L218.8,302.0L220.9,301.5M217.8,297.1L218.7,296.5L218.6,297.4M205.4,289.5L205.6,290.6L217.2,288.1L218.0,288.7L219.5,290.2M219.5,290.2L218.8,292.4L219.0,293.3L220.1,294.6L218.8,296.6M219.5,290.2L221.9,291.0M219.9,275.4L220.6,279.3L222.1,283.9L222.0,286.7L222.5,290.8M224.5,274.2L224.6,275.8L223.9,277.2L223.5,280.1L224.2,283.4M222.0,283.9L224.2,283.4L227.1,282.7L228.3,281.7M225.2,272.8L226.9,278.4L228.3,280.9M222.0,286.7L226.5,285.7L227.6,285.4L228.7,287.1M226.5,285.7L227.1,288.3M176.5,292.1L184.0,291.6M176.3,276.4L177.0,277.1L179.9,277.9L182.5,278.8L183.7,281.4M218.9,304.0L220.7,303.2" fill="none" stroke="#747474" stroke-width="0.6" stroke-linejoin="round"/>
<path d="M93.1,258.5L92.9,260.4L92.9,264.0L92.5,266.9L91.9,269.8L90.6,273.0L89.2,277.4L87.6,279.2L87.5,282.6L87.2,285.0L85.4,288.3L85.9,292.3L85.6,294.7L86.5,298.6L87.6,300.2L87.4,302.2L88.1,304.8L88.9,308.7L90.0,311.9L90.1,314.1L93.5,316.3L95.4,317.4L96.4,318.6L98.1,322.1L98.3,324.0L105.6,324.9L115.7,332.3L124.5,333.7L124.7,331.9L129.8,332.6L134.1,337.3L135.4,341.3L138.9,344.4L141.0,341.6L145.2,341.8L147.5,345.3L150.8,350.9L152.0,354.8L154.9,356.4L158.4,357.1L157.6,353.8L157.7,349.9L160.3,347.3L164.4,345.3L166.3,343.9L169.1,342.5L173.3,342.8L177.5,344.1L181.0,344.3L183.9,344.5L182.4,342.3L182.3,340.0L185.7,339.1L187.3,339.4L188.8,339.0L191.9,338.3L195.6,340.6L199.0,339.0L201.6,340.2L204.2,342.6L205.1,346.8L207.2,350.4L208.9,352.8L211.6,355.9L213.9,355.5L214.6,353.0L214.2,349.6L212.5,346.3L211.4,343.4L209.7,340.6L207.8,336.5L207.6,332.6L208.6,329.3L210.9,326.1L212.8,324.2L214.4,321.3L216.1,320.4L218.2,317.1L219.7,316.8L222.1,314.0L220.5,310.6L219.6,308.0L220.1,305.5L220.8,303.3L220.9,301.5L220.5,300.2L220.9,299.5L221.9,297.4L222.4,294.5L222.0,293.0L222.2,292.5L225.7,290.6L227.2,289.3L225.3,289.0L228.1,287.5L229.3,287.0L230.1,286.6L231.6,285.6L231.0,284.2L230.1,285.6L228.3,284.0L229.0,282.4L228.3,280.8L229.0,278.3L231.6,275.7L233.8,273.8L235.9,271.5L232.9,268.8L231.4,263.7L230.0,263.1L227.6,263.4L226.5,266.8L226.5,269.8L225.8,272.2L224.5,274.2L216.5,276.3L215.1,277.2L213.1,280.3L213.8,282.5L210.7,284.6L206.7,285.3L207.0,286.7L205.3,289.6L202.4,291.3L198.1,293.8L196.0,293.3L196.7,291.6L198.0,289.5L198.1,287.9L197.5,285.6L196.2,284.0L195.0,284.8L193.9,286.1L195.1,283.2L194.7,280.3L190.8,278.0L188.9,279.3L188.9,281.6L187.5,283.4L187.0,286.2L188.2,290.7L187.0,294.2L185.1,294.8L184.8,293.8L184.0,291.6L183.6,288.9L183.8,284.9L185.3,280.5L182.9,283.8L183.7,281.4L183.1,279.5L186.0,278.1L188.7,277.0L190.7,277.6L192.2,276.2L191.3,275.1L189.7,274.3L186.1,275.9L183.8,276.0L181.7,274.6L182.2,272.4L180.6,273.5L178.4,275.2L176.2,276.2L174.7,275.5L172.0,275.8L174.6,273.6L177.9,270.8L174.9,270.5L172.0,269.6L168.5,268.8L165.6,268.4L165.1,266.2L164.2,265.9L164.3,267.4L152.5,267.2L140.5,266.3L128.5,264.7L116.6,262.5L104.8,259.6L98.4,257.7L98.4,259.7L96.9,260.7L94.6,259.8Z" fill="none" stroke="#5e5e5e" stroke-width="0.7" stroke-linejoin="round"/>
<path d="M98.5,260.0L97.9,261.6L97.3,263.0L96.6,264.4M88.4,298.8L88.2,300.0L88.5,301.3M217.1,298.0L216.6,299.5L216.7,300.7L217.3,302.5L217.9,304.0L218.3,305.5L219.2,307.5M218.6,297.4L219.6,298.8L220.7,299.9" fill="none" stroke="#333" stroke-width="0.9" stroke-linecap="round" stroke-linejoin="round"/>
<path d="M305.5,261.1L305.3,262.9L305.3,266.5L304.9,269.3L304.3,272.1L303.0,275.2L301.7,279.6L300.1,281.3L300.1,284.6L299.7,286.9L298.0,290.1L298.5,294.1L298.2,296.4L299.1,300.3L300.1,301.8L299.9,303.7L300.7,306.3L301.5,310.1L302.5,313.2L302.6,315.4L305.9,317.5L307.7,318.5L308.7,319.8L310.3,323.1L310.5,325.0L317.6,325.9L327.4,333.1L335.9,334.4L336.1,332.7L341.1,333.4L345.3,338.0L346.5,341.9L349.9,344.9L352.0,342.2L356.0,342.4L358.3,345.8L361.5,351.3L362.6,355.1L365.5,356.7L368.8,357.3L368.1,354.1L368.1,350.3L370.6,347.7L374.7,345.8L376.5,344.5L379.2,343.1L383.2,343.3L387.3,344.6L390.7,344.8L393.5,345.0L392.1,342.8L392.0,340.6L395.3,339.7L396.8,340.0L398.3,339.6L401.3,339.0L404.9,341.2L408.1,339.7L410.8,340.8L413.2,343.1L414.1,347.2L416.1,350.7L417.7,353.1L420.5,356.1L422.7,355.7L423.3,353.3L422.9,349.9L421.3,346.8L420.2,343.9L418.6,341.1L416.8,337.2L416.5,333.4L417.5,330.2L419.8,327.1L421.5,325.2L423.1,322.4L424.8,321.4L426.8,318.3L428.2,318.0L430.6,315.3L429.1,311.9L428.1,309.4L428.6,306.9L429.3,304.8L429.4,303.0L429.0,301.8L429.4,301.1L430.4,299.1L430.9,296.2L430.5,294.7L430.7,294.3L434.1,292.4L435.5,291.1L433.7,290.8L436.4,289.4L437.6,288.9L438.3,288.5L439.8,287.5L439.2,286.2L438.4,287.6L436.6,286.0L437.3,284.4L436.6,282.8L437.3,280.4L439.8,277.9L441.9,276.0L444.0,273.7L441.1,271.2L439.6,266.1L438.2,265.6L436.0,265.9L434.9,269.2L434.9,272.1L434.2,274.5L432.9,276.4L425.2,278.5L423.8,279.4L421.8,282.3L422.5,284.5L419.5,286.5L415.6,287.2L416.0,288.6L414.3,291.4L411.4,293.1L407.3,295.5L405.2,295.0L406.0,293.4L407.2,291.3L407.3,289.7L406.7,287.5L405.5,286.0L404.3,286.7L403.2,288.0L404.4,285.2L404.0,282.4L400.2,280.1L398.4,281.4L398.4,283.7L397.1,285.3L396.6,288.1L397.8,292.5L396.5,295.9L394.7,296.5L394.4,295.6L393.7,293.3L393.2,290.7L393.4,286.9L394.9,282.5L392.6,285.8L393.4,283.4L392.7,281.6L395.6,280.2L398.2,279.1L400.2,279.8L401.6,278.3L400.7,277.3L399.1,276.5L395.6,278.1L393.4,278.1L391.4,276.8L391.9,274.7L390.3,275.7L388.3,277.4L386.1,278.3L384.6,277.7L382.0,278.0L384.5,275.8L387.7,273.0L384.9,272.7L382.0,272.0L378.6,271.1L375.8,270.8L375.3,268.6L374.5,268.3L374.5,269.7L363.1,269.5L351.4,268.7L339.8,267.1L328.2,265.0L316.8,262.1L310.6,260.3L310.7,262.3L309.2,263.2L307.0,262.3Z" fill="#f9f9f9" stroke="none"/>
<path d="M304.9,269.3L306.8,270.2L307.4,271.5L308.6,273.0L311.0,273.5L313.2,274.0L315.8,273.8L316.6,273.7L321.5,275.0M321.5,275.0L321.6,273.3L323.5,263.9M321.5,275.0L322.2,276.7L320.9,279.5L319.5,281.1L319.6,283.1L318.2,289.7M300.1,284.6L310.6,287.8L318.2,289.7L325.8,291.4L333.4,292.9M310.6,287.8L308.0,298.9L319.4,317.4M319.4,317.4L319.6,320.1L318.8,322.7L317.6,325.9M319.4,317.4L319.7,313.9L321.9,313.2L322.4,310.2M322.4,310.2L325.8,291.4M325.8,264.4L325.1,268.2L325.5,270.3L327.6,273.6L327.3,277.8L328.8,278.1L330.0,283.0L331.8,282.8L334.8,283.5M335.1,281.6L333.4,292.9M335.1,281.6L352.4,283.9M333.4,292.9L332.9,296.7L351.2,299.1L356.5,299.5M338.1,297.5L333.4,334.1M322.4,310.2L353.0,314.6L376.3,315.3M356.5,299.5L355.6,314.8M356.3,303.3L374.4,303.9M353.0,314.6L351.7,333.6L340.9,332.5L341.1,333.4M352.8,316.5L361.3,317.0L361.0,324.4L363.2,325.5L366.7,326.7L369.6,327.7L372.5,327.4L375.4,327.3L378.2,328.5M353.6,268.9L351.2,299.1M352.7,280.3L371.1,281.2M351.8,291.5L366.1,292.3L368.6,293.0L371.3,294.3M369.6,269.7L370.6,275.4L371.1,281.2L371.1,283.7L371.4,283.7L371.3,290.5M371.3,290.5L371.3,294.3M371.3,294.3L372.2,297.0L372.8,299.3L373.0,301.6L374.4,303.9L375.5,306.1L376.2,307.3L376.3,315.3M371.3,290.5L384.7,290.2M373.1,301.6L384.7,302.1M382.0,278.0L381.5,278.4L381.6,280.5L380.5,282.4L380.5,285.6L382.6,286.9L384.7,290.2L385.1,293.2L387.6,296.5L385.7,299.3L384.7,302.1L386.0,305.4L388.3,308.3L390.6,313.5L391.6,314.6L390.8,316.6L390.3,318.5L389.4,322.0L388.8,322.5L388.1,324.8L386.8,327.2L386.7,330.2L386.2,334.4L385.8,337.9M376.4,317.2L388.9,316.7L388.3,318.7L390.3,318.5M376.3,315.3L376.4,317.2L377.0,321.4L376.9,328.1M378.2,328.5L378.3,330.5L378.3,334.4L379.4,336.6L379.9,340.0L379.2,343.1M378.3,330.5L386.7,330.1M385.8,337.9L391.4,337.6L391.6,339.1L392.0,340.6M394.8,322.0L395.4,325.8L395.0,333.8L395.6,339.5M402.3,321.2L404.2,329.1L405.1,331.3L405.1,333.9L405.6,336.2L406.0,337.3L410.3,336.9L414.2,336.6L414.8,337.3L415.0,335.6L416.4,335.8M397.8,337.0L405.6,336.2M397.8,337.0L398.3,339.6M388.8,322.5L406.0,320.8L409.4,320.3M390.8,316.6L394.8,316.2L394.9,315.5L407.0,314.5L412.6,313.7L428.6,310.7M406.0,320.8L408.0,318.4L409.5,316.8L411.9,315.7L412.6,313.7M409.4,320.3L411.0,322.0L412.7,325.2L415.0,327.1L417.3,330.4M409.4,320.3L411.3,319.2L415.2,318.8L416.0,320.0L419.1,319.4L423.1,322.4M394.6,296.3L395.4,305.3L395.4,307.7L394.7,309.7L394.4,311.3M391.6,314.6L393.4,314.1L394.4,311.3L397.3,310.6L399.2,310.0L401.1,307.1L402.8,305.4L405.1,306.2L407.9,306.2L409.1,307.2L410.9,304.6L411.6,303.1L413.0,301.6L413.4,297.8M409.1,307.2L409.9,309.0L411.3,310.3L410.5,311.2L407.0,314.5M411.3,310.3L414.0,310.7L415.8,309.6L416.5,306.7L417.4,305.4L418.8,303.6L419.9,302.2L421.6,302.1L421.7,301.4M416.7,300.8L417.0,302.8L418.6,300.9L420.7,300.5L421.7,301.4L423.6,302.6L424.2,304.4L426.4,305.5M394.6,296.1L401.7,295.5L405.2,295.0M401.7,295.5L402.8,305.4M412.6,292.7L414.0,301.3M414.0,301.3L426.5,298.8M426.5,298.8L427.4,303.5L429.4,303.0M426.5,298.8L427.3,298.1L427.2,299.1M414.4,291.3L414.6,292.4L425.9,290.0L426.7,290.6L428.0,292.0M428.0,292.0L427.4,294.1L427.6,295.0L428.7,296.3L427.4,298.2M428.0,292.0L430.4,292.8M428.5,277.6L429.1,281.3L430.6,285.9L430.5,288.6L431.0,292.6M432.9,276.4L433.0,277.9L432.3,279.3L432.0,282.2L432.6,285.4M430.5,285.9L432.6,285.4L435.5,284.7L436.6,283.7M433.6,275.0L435.3,280.5L436.6,282.9M430.5,288.6L434.8,287.6L435.9,287.3L437.0,289.0M434.8,287.6L435.5,290.1M386.4,293.9L393.7,293.3M386.1,278.5L386.9,279.2L389.6,280.0L392.2,280.9L393.4,283.4M427.5,305.4L429.2,304.7" fill="none" stroke="#747474" stroke-width="0.6" stroke-linejoin="round"/>
<path d="M305.5,261.1L305.3,262.9L305.3,266.5L304.9,269.3L304.3,272.1L303.0,275.2L301.7,279.6L300.1,281.3L300.1,284.6L299.7,286.9L298.0,290.1L298.5,294.1L298.2,296.4L299.1,300.3L300.1,301.8L299.9,303.7L300.7,306.3L301.5,310.1L302.5,313.2L302.6,315.4L305.9,317.5L307.7,318.5L308.7,319.8L310.3,323.1L310.5,325.0L317.6,325.9L327.4,333.1L335.9,334.4L336.1,332.7L341.1,333.4L345.3,338.0L346.5,341.9L349.9,344.9L352.0,342.2L356.0,342.4L358.3,345.8L361.5,351.3L362.6,355.1L365.5,356.7L368.8,357.3L368.1,354.1L368.1,350.3L370.6,347.7L374.7,345.8L376.5,344.5L379.2,343.1L383.2,343.3L387.3,344.6L390.7,344.8L393.5,345.0L392.1,342.8L392.0,340.6L395.3,339.7L396.8,340.0L398.3,339.6L401.3,339.0L404.9,341.2L408.1,339.7L410.8,340.8L413.2,343.1L414.1,347.2L416.1,350.7L417.7,353.1L420.5,356.1L422.7,355.7L423.3,353.3L422.9,349.9L421.3,346.8L420.2,343.9L418.6,341.1L416.8,337.2L416.5,333.4L417.5,330.2L419.8,327.1L421.5,325.2L423.1,322.4L424.8,321.4L426.8,318.3L428.2,318.0L430.6,315.3L429.1,311.9L428.1,309.4L428.6,306.9L429.3,304.8L429.4,303.0L429.0,301.8L429.4,301.1L430.4,299.1L430.9,296.2L430.5,294.7L430.7,294.3L434.1,292.4L435.5,291.1L433.7,290.8L436.4,289.4L437.6,288.9L438.3,288.5L439.8,287.5L439.2,286.2L438.4,287.6L436.6,286.0L437.3,284.4L436.6,282.8L437.3,280.4L439.8,277.9L441.9,276.0L444.0,273.7L441.1,271.2L439.6,266.1L438.2,265.6L436.0,265.9L434.9,269.2L434.9,272.1L434.2,274.5L432.9,276.4L425.2,278.5L423.8,279.4L421.8,282.3L422.5,284.5L419.5,286.5L415.6,287.2L416.0,288.6L414.3,291.4L411.4,293.1L407.3,295.5L405.2,295.0L406.0,293.4L407.2,291.3L407.3,289.7L406.7,287.5L405.5,286.0L404.3,286.7L403.2,288.0L404.4,285.2L404.0,282.4L400.2,280.1L398.4,281.4L398.4,283.7L397.1,285.3L396.6,288.1L397.8,292.5L396.5,295.9L394.7,296.5L394.4,295.6L393.7,293.3L393.2,290.7L393.4,286.9L394.9,282.5L392.6,285.8L393.4,283.4L392.7,281.6L395.6,280.2L398.2,279.1L400.2,279.8L401.6,278.3L400.7,277.3L399.1,276.5L395.6,278.1L393.4,278.1L391.4,276.8L391.9,274.7L390.3,275.7L388.3,277.4L386.1,278.3L384.6,277.7L382.0,278.0L384.5,275.8L387.7,273.0L384.9,272.7L382.0,272.0L378.6,271.1L375.8,270.8L375.3,268.6L374.5,268.3L374.5,269.7L363.1,269.5L351.4,268.7L339.8,267.1L328.2,265.0L316.8,262.1L310.6,260.3L310.7,262.3L309.2,263.2L307.0,262.3Z" fill="none" stroke="#5e5e5e" stroke-width="0.7" stroke-linejoin="round"/>
<path d="M310.7,262.5L310.2,264.1L309.6,265.5L308.8,266.8M300.9,300.4L300.8,301.6L301.0,302.8M425.8,299.6L425.2,301.1L425.3,302.2L426.0,304.0L426.5,305.5L426.9,306.9L427.8,308.9M427.2,299.1L428.2,300.4L429.2,301.5" fill="none" stroke="#333" stroke-width="0.9" stroke-linecap="round" stroke-linejoin="round"/>
<path d="M93.8,370.9L93.6,372.7L93.5,376.3L93.1,379.1L92.6,382.0L91.3,385.2L89.9,389.6L88.3,391.3L88.3,394.7L87.9,397.0L86.1,400.3L86.7,404.3L86.3,406.6L87.2,410.5L88.3,412.1L88.1,414.0L88.9,416.6L89.6,420.5L90.7,423.6L90.8,425.8L94.2,427.9L96.1,429.0L97.0,430.3L98.7,433.7L98.9,435.6L106.1,436.4L116.1,443.8L124.8,445.1L125.0,443.4L130.1,444.1L134.4,448.7L135.6,452.7L139.2,455.7L141.3,453.0L145.3,453.2L147.7,456.6L151.0,462.1L152.1,466.0L155.0,467.6L158.4,468.2L157.7,465.0L157.7,461.2L160.3,458.5L164.4,456.6L166.3,455.3L169.1,453.9L173.2,454.1L177.3,455.5L180.8,455.6L183.6,455.8L182.2,453.6L182.1,451.3L185.5,450.5L187.0,450.7L188.6,450.4L191.6,449.7L195.3,452.0L198.6,450.4L201.3,451.6L203.8,453.9L204.7,458.1L206.8,461.6L208.4,464.0L211.2,467.0L213.5,466.6L214.1,464.2L213.7,460.8L212.1,457.6L211.0,454.7L209.2,451.9L207.4,447.9L207.1,444.1L208.2,440.8L210.5,437.7L212.3,435.8L213.9,432.9L215.6,432.0L217.7,428.8L219.1,428.5L221.6,425.7L220.0,422.3L219.0,419.8L219.5,417.3L220.3,415.1L220.3,413.3L219.9,412.0L220.3,411.3L221.3,409.3L221.8,406.4L221.5,404.9L221.6,404.5L225.1,402.6L226.6,401.3L224.7,401.0L227.4,399.5L228.7,399.0L229.4,398.6L231.0,397.6L230.3,396.3L229.5,397.7L227.7,396.1L228.4,394.5L227.7,392.9L228.4,390.5L230.9,387.9L233.1,386.0L235.2,383.7L232.2,381.1L230.7,376.0L229.3,375.4L227.0,375.7L225.9,379.1L225.9,382.0L225.2,384.4L223.9,386.3L216.0,388.5L214.6,389.4L212.6,392.4L213.3,394.6L210.2,396.6L206.2,397.4L206.6,398.7L204.9,401.6L202.0,403.3L197.7,405.7L195.6,405.3L196.4,403.6L197.7,401.4L197.7,399.9L197.2,397.6L195.9,396.1L194.7,396.8L193.6,398.1L194.8,395.3L194.4,392.4L190.5,390.1L188.7,391.4L188.7,393.7L187.3,395.4L186.8,398.2L188.0,402.7L186.7,406.1L184.9,406.7L184.5,405.8L183.8,403.5L183.4,400.9L183.6,397.0L185.1,392.6L182.7,395.9L183.5,393.5L182.9,391.6L185.8,390.2L188.4,389.1L190.5,389.8L191.9,388.3L191.0,387.3L189.4,386.5L185.8,388.1L183.6,388.1L181.5,386.8L182.0,384.6L180.4,385.7L178.3,387.4L176.1,388.3L174.6,387.6L171.9,388.0L174.5,385.7L177.8,383.0L174.8,382.7L171.9,381.9L168.5,381.1L165.6,380.7L165.1,378.5L164.2,378.2L164.2,379.6L152.6,379.4L140.7,378.5L128.8,377.0L117.0,374.8L105.3,372.0L99.0,370.1L99.1,372.1L97.5,373.0L95.3,372.1Z" fill="#f9f9f9" stroke="none"/>
<path d="M93.1,379.1L95.1,380.1L95.8,381.4L96.9,383.0L99.4,383.5L101.6,383.9L104.3,383.7L105.1,383.7L110.1,384.9M110.1,384.9L110.2,383.3L112.2,373.7M110.1,384.9L110.9,386.7L109.5,389.5L108.1,391.1L108.1,393.1L106.7,399.9M88.3,394.7L99.0,397.9L106.7,399.9L114.5,401.6L122.3,403.1M99.0,397.9L96.3,409.1L108.0,427.9M108.0,427.9L108.2,430.7L107.4,433.2L106.1,436.4M108.0,427.9L108.3,424.4L110.5,423.6L111.0,420.6M111.0,420.6L114.5,401.6M114.5,374.3L113.8,378.0L114.2,380.2L116.3,383.6L116.1,387.8L117.5,388.1L118.8,393.1L120.6,392.8L123.8,393.6M124.0,391.7L122.3,403.1M124.0,391.7L141.7,394.0M122.3,403.1L121.8,406.9L140.5,409.3L145.9,409.8M127.1,407.7L122.3,444.8M111.0,420.6L142.3,425.0L166.1,425.8M145.9,409.8L145.0,425.2M145.6,413.6L164.1,414.2M142.3,425.0L140.9,444.3L129.9,443.2L130.1,444.1M142.1,426.9L150.7,427.5L150.4,435.0L152.7,436.1L156.3,437.3L159.2,438.3L162.2,438.0L165.2,437.9L168.0,439.1M142.9,378.8L140.5,409.3M142.0,390.4L160.8,391.3M141.1,401.6L155.6,402.5L158.3,403.1L161.0,404.5M159.3,379.6L160.2,385.3L160.8,391.3L160.8,393.7L161.1,393.7L161.0,400.7M161.0,400.7L161.0,404.5M161.0,404.5L161.9,407.2L162.5,409.5L162.7,411.9L164.1,414.2L165.2,416.5L166.0,417.6L166.1,425.8M161.0,400.7L174.6,400.3M162.8,411.9L174.7,412.4M171.9,388.0L171.4,388.4L171.5,390.5L170.4,392.4L170.4,395.7L172.5,397.0L174.6,400.3L175.1,403.4L177.7,406.7L175.7,409.5L174.7,412.4L176.0,415.7L178.4,418.7L180.6,424.0L181.7,425.0L180.8,427.0L180.4,429.0L179.4,432.6L178.9,433.0L178.1,435.4L176.8,437.8L176.7,440.9L176.2,445.1L175.8,448.6M166.2,427.7L179.0,427.2L178.4,429.2L180.4,429.0M166.1,425.8L166.2,427.7L166.8,431.9L166.7,438.7M168.0,439.1L168.1,441.1L168.2,445.1L169.2,447.3L169.8,450.8L169.1,453.9M168.1,441.1L176.7,440.8M175.8,448.6L181.5,448.3L181.7,449.8L182.1,451.3M185.0,432.5L185.6,436.4L185.2,444.5L185.8,450.3M192.6,431.8L194.6,439.7L195.5,441.9L195.5,444.6L196.0,446.9L196.4,448.0L200.8,447.6L204.8,447.3L205.4,448.0L205.6,446.3L207.0,446.5M188.0,447.7L196.0,446.9M188.0,447.7L188.6,450.4M178.9,433.0L196.4,431.3L199.9,430.8M180.8,427.0L184.9,426.7L185.1,426.0L197.4,424.9L203.1,424.1L219.5,421.0M196.4,431.3L198.4,428.9L200.0,427.3L202.5,426.1L203.1,424.1M199.9,430.8L201.6,432.5L203.2,435.8L205.6,437.7L207.9,441.0M199.9,430.8L201.8,429.7L205.9,429.3L206.6,430.5L209.8,429.9L213.9,432.9M184.8,406.5L185.6,415.6L185.6,418.1L184.9,420.1L184.6,421.7M181.7,425.0L183.5,424.5L184.6,421.7L187.5,421.0L189.4,420.4L191.4,417.5L193.2,415.7L195.5,416.6L198.3,416.6L199.6,417.6L201.5,414.9L202.1,413.4L203.5,411.8L204.0,408.1M199.6,417.6L200.4,419.4L201.9,420.7L201.0,421.6L197.4,424.9M201.9,420.7L204.6,421.1L206.5,420.0L207.2,417.1L208.1,415.7L209.5,413.9L210.6,412.5L212.3,412.3L212.5,411.7M207.4,411.1L207.7,413.1L209.3,411.2L211.4,410.7L212.5,411.7L214.4,412.9L215.0,414.7L217.2,415.8M184.8,406.3L192.1,405.7L195.6,405.3M192.1,405.7L193.2,415.7M203.2,402.9L204.5,411.6M204.5,411.6L217.3,409.0M217.3,409.0L218.3,413.8L220.3,413.3M217.3,409.0L218.1,408.4L218.1,409.3M205.0,401.5L205.2,402.5L216.7,400.1L217.5,400.7L218.9,402.2M218.9,402.2L218.3,404.3L218.5,405.2L219.6,406.6L218.3,408.5M218.9,402.2L221.3,403.0M219.3,387.6L220.1,391.4L221.5,396.0L221.5,398.8L222.0,402.8M223.9,386.3L224.0,387.9L223.3,389.3L222.9,392.2L223.6,395.5M221.5,396.0L223.6,395.5L226.5,394.8L227.6,393.8M224.6,385.0L226.3,390.5L227.7,393.0M221.5,398.8L225.9,397.7L227.0,397.4L228.1,399.1M225.9,397.7L226.5,400.3M176.3,404.1L183.8,403.5M176.1,388.5L176.9,389.2L179.7,390.0L182.3,390.9L183.5,393.5M218.4,415.8L220.1,415.1" fill="none" stroke="#747474" stroke-width="0.6" stroke-linejoin="round"/>
<path d="M93.8,370.9L93.6,372.7L93.5,376.3L93.1,379.1L92.6,382.0L91.3,385.2L89.9,389.6L88.3,391.3L88.3,394.7L87.9,397.0L86.1,400.3L86.7,404.3L86.3,406.6L87.2,410.5L88.3,412.1L88.1,414.0L88.9,416.6L89.6,420.5L90.7,423.6L90.8,425.8L94.2,427.9L96.1,429.0L97.0,430.3L98.7,433.7L98.9,435.6L106.1,436.4L116.1,443.8L124.8,445.1L125.0,443.4L130.1,444.1L134.4,448.7L135.6,452.7L139.2,455.7L141.3,453.0L145.3,453.2L147.7,456.6L151.0,462.1L152.1,466.0L155.0,467.6L158.4,468.2L157.7,465.0L157.7,461.2L160.3,458.5L164.4,456.6L166.3,455.3L169.1,453.9L173.2,454.1L177.3,455.5L180.8,455.6L183.6,455.8L182.2,453.6L182.1,451.3L185.5,450.5L187.0,450.7L188.6,450.4L191.6,449.7L195.3,452.0L198.6,450.4L201.3,451.6L203.8,453.9L204.7,458.1L206.8,461.6L208.4,464.0L211.2,467.0L213.5,466.6L214.1,464.2L213.7,460.8L212.1,457.6L211.0,454.7L209.2,451.9L207.4,447.9L207.1,444.1L208.2,440.8L210.5,437.7L212.3,435.8L213.9,432.9L215.6,432.0L217.7,428.8L219.1,428.5L221.6,425.7L220.0,422.3L219.0,419.8L219.5,417.3L220.3,415.1L220.3,413.3L219.9,412.0L220.3,411.3L221.3,409.3L221.8,406.4L221.5,404.9L221.6,404.5L225.1,402.6L226.6,401.3L224.7,401.0L227.4,399.5L228.7,399.0L229.4,398.6L231.0,397.6L230.3,396.3L229.5,397.7L227.7,396.1L228.4,394.5L227.7,392.9L228.4,390.5L230.9,387.9L233.1,386.0L235.2,383.7L232.2,381.1L230.7,376.0L229.3,375.4L227.0,375.7L225.9,379.1L225.9,382.0L225.2,384.4L223.9,386.3L216.0,388.5L214.6,389.4L212.6,392.4L213.3,394.6L210.2,396.6L206.2,397.4L206.6,398.7L204.9,401.6L202.0,403.3L197.7,405.7L195.6,405.3L196.4,403.6L197.7,401.4L197.7,399.9L197.2,397.6L195.9,396.1L194.7,396.8L193.6,398.1L194.8,395.3L194.4,392.4L190.5,390.1L188.7,391.4L188.7,393.7L187.3,395.4L186.8,398.2L188.0,402.7L186.7,406.1L184.9,406.7L184.5,405.8L183.8,403.5L183.4,400.9L183.6,397.0L185.1,392.6L182.7,395.9L183.5,393.5L182.9,391.6L185.8,390.2L188.4,389.1L190.5,389.8L191.9,388.3L191.0,387.3L189.4,386.5L185.8,388.1L183.6,388.1L181.5,386.8L182.0,384.6L180.4,385.7L178.3,387.4L176.1,388.3L174.6,387.6L171.9,388.0L174.5,385.7L177.8,383.0L174.8,382.7L171.9,381.9L168.5,381.1L165.6,380.7L165.1,378.5L164.2,378.2L164.2,379.6L152.6,379.4L140.7,378.5L128.8,377.0L117.0,374.8L105.3,372.0L99.0,370.1L99.1,372.1L97.5,373.0L95.3,372.1Z" fill="none" stroke="#5e5e5e" stroke-width="0.7" stroke-linejoin="round"/>
<path d="M99.1,372.3L98.6,373.9L97.9,375.3L97.2,376.7M89.1,410.7L88.9,411.8L89.2,413.1M216.6,409.8L216.1,411.3L216.1,412.5L216.8,414.3L217.4,415.8L217.8,417.3L218.6,419.3M218.1,409.3L219.0,410.7L220.1,411.8" fill="none" stroke="#333" stroke-width="0.9" stroke-linecap="round" stroke-linejoin="round"/>
<path d="M306.2,374.3L306.0,376.1L306.0,379.6L305.6,382.3L305.0,385.1L303.8,388.2L302.4,392.4L300.9,394.1L300.9,397.4L300.5,399.6L298.8,402.8L299.3,406.7L299.0,408.9L299.9,412.7L300.9,414.2L300.7,416.1L301.4,418.6L302.2,422.4L303.2,425.4L303.3,427.5L306.6,429.6L308.4,430.6L309.3,431.8L310.9,435.1L311.1,437.0L318.0,437.8L327.7,444.9L336.1,446.2L336.3,444.6L341.2,445.2L345.3,449.7L346.5,453.6L349.9,456.5L351.9,453.8L355.8,454.0L358.0,457.4L361.2,462.7L362.3,466.5L365.1,468.0L368.4,468.6L367.7,465.5L367.7,461.8L370.2,459.2L374.2,457.4L376.0,456.1L378.7,454.7L382.6,454.9L386.6,456.2L389.9,456.4L392.7,456.6L391.3,454.5L391.2,452.2L394.4,451.4L396.0,451.7L397.4,451.3L400.4,450.7L403.9,452.9L407.1,451.4L409.6,452.5L412.1,454.8L412.9,458.8L414.9,462.2L416.5,464.5L419.2,467.4L421.4,467.1L422.0,464.7L421.6,461.4L420.0,458.3L419.0,455.5L417.3,452.8L415.5,449.0L415.3,445.2L416.3,442.0L418.5,439.0L420.3,437.2L421.8,434.4L423.4,433.5L425.4,430.4L426.8,430.1L429.2,427.4L427.7,424.1L426.7,421.7L427.2,419.3L427.9,417.2L428.0,415.4L427.6,414.2L428.0,413.5L428.9,411.5L429.4,408.7L429.1,407.3L429.3,406.8L432.6,405.0L434.0,403.8L432.2,403.5L434.8,402.1L436.0,401.5L436.7,401.1L438.2,400.2L437.6,398.9L436.8,400.3L435.1,398.7L435.7,397.2L435.1,395.6L435.8,393.3L438.2,390.8L440.3,389.0L442.3,386.7L439.4,384.2L438.0,379.2L436.6,378.7L434.4,379.0L433.4,382.2L433.4,385.1L432.7,387.4L431.4,389.3L423.8,391.3L422.5,392.2L420.5,395.1L421.2,397.3L418.3,399.2L414.4,399.9L414.8,401.3L413.2,404.1L410.3,405.7L406.2,408.1L404.2,407.6L404.9,406.0L406.2,403.9L406.2,402.4L405.7,400.2L404.5,398.7L403.3,399.4L402.2,400.7L403.4,397.9L403.0,395.2L399.3,392.9L397.5,394.2L397.5,396.4L396.2,398.1L395.7,400.8L396.9,405.1L395.6,408.5L393.9,409.0L393.6,408.1L392.9,405.9L392.4,403.3L392.6,399.6L394.1,395.3L391.8,398.5L392.6,396.2L391.9,394.4L394.7,393.0L397.3,392.0L399.2,392.6L400.6,391.2L399.8,390.2L398.2,389.4L394.8,391.0L392.6,391.0L390.6,389.7L391.1,387.6L389.6,388.7L387.5,390.3L385.4,391.2L384.0,390.5L381.3,390.9L383.9,388.7L387.0,386.0L384.2,385.7L381.4,385.0L378.1,384.2L375.3,383.8L374.8,381.7L374.0,381.4L374.0,382.8L362.8,382.6L351.3,381.7L339.9,380.2L328.5,378.1L317.3,375.3L311.2,373.5L311.3,375.5L309.8,376.4L307.6,375.5Z" fill="#f9f9f9" stroke="none"/>
<path d="M305.6,382.3L307.4,383.2L308.1,384.5L309.2,386.0L311.6,386.5L313.7,386.9L316.3,386.8L317.1,386.7L321.9,387.9M321.9,387.9L322.0,386.3L323.9,377.0M321.9,387.9L322.6,389.6L321.3,392.3L320.0,393.9L320.0,395.8L318.6,402.4M300.9,397.4L311.2,400.5L318.6,402.4L326.1,404.1L333.7,405.5M311.2,400.5L308.6,411.4L319.9,429.5M319.9,429.5L320.0,432.2L319.3,434.7L318.0,437.8M319.9,429.5L320.1,426.1L322.3,425.4L322.8,422.5M322.8,422.5L326.1,404.1M326.2,377.6L325.4,381.2L325.8,383.3L327.9,386.6L327.6,390.7L329.1,391.0L330.2,395.8L332.0,395.6L335.0,396.3M335.3,394.4L333.7,405.5M335.3,394.4L352.3,396.7M333.7,405.5L333.1,409.2L351.2,411.5L356.3,412.0M338.2,410.0L333.6,445.9M322.8,422.5L352.8,426.7L375.8,427.5M356.3,412.0L355.4,426.9M356.1,415.7L373.9,416.2M352.8,426.7L351.6,445.4L341.0,444.4L341.2,445.2M352.7,428.6L361.0,429.1L360.7,436.4L362.9,437.4L366.3,438.7L369.2,439.7L372.0,439.3L374.9,439.2L377.7,440.4M353.5,381.9L351.2,411.5M352.6,393.2L370.7,394.1M351.7,404.1L365.7,404.9L368.2,405.5L370.9,406.9M369.2,382.8L370.1,388.3L370.7,394.1L370.7,396.4L370.9,396.4L370.9,403.1M370.9,403.1L370.9,406.9M370.9,406.9L371.8,409.5L372.3,411.7L372.6,414.0L373.9,416.2L375.0,418.5L375.7,419.6L375.8,427.5M370.9,403.1L384.0,402.8M372.6,414.0L384.0,414.5M381.3,390.9L380.9,391.3L381.0,393.3L379.9,395.2L379.9,398.3L381.9,399.6L384.0,402.8L384.5,405.8L386.9,409.0L385.0,411.8L384.0,414.5L385.3,417.7L387.6,420.6L389.8,425.7L390.8,426.8L390.0,428.7L389.6,430.6L388.6,434.1L388.1,434.5L387.4,436.8L386.1,439.1L386.0,442.1L385.5,446.2L385.1,449.6M375.9,429.3L388.2,428.8L387.6,430.8L389.6,430.6M375.8,427.5L375.9,429.3L376.4,433.5L376.4,440.0M377.7,440.4L377.7,442.3L377.8,446.2L378.8,448.4L379.3,451.7L378.7,454.7M377.7,442.3L386.0,442.0M385.1,449.6L390.6,449.3L390.8,450.8L391.2,452.2M394.0,434.0L394.6,437.7L394.2,445.6L394.7,451.2M401.3,433.3L403.2,441.0L404.1,443.1L404.1,445.7L404.6,447.9L405.0,449.0L409.2,448.6L413.0,448.4L413.6,449.1L413.8,447.4L415.2,447.5M396.9,448.8L404.6,447.9M396.9,448.8L397.4,451.3M388.1,434.5L404.9,432.8L408.3,432.4M390.0,428.7L393.9,428.4L394.1,427.7L405.9,426.6L411.4,425.9L427.2,422.9M404.9,432.8L406.9,430.5L408.4,428.9L410.8,427.8L411.4,425.9M408.3,432.4L409.9,434.0L411.5,437.2L413.8,439.1L416.1,442.3M408.3,432.4L410.1,431.3L414.1,430.9L414.8,432.1L417.9,431.5L421.8,434.4M393.8,408.8L394.5,417.6L394.5,420.1L393.9,422.0L393.6,423.5M390.8,426.8L392.6,426.3L393.6,423.5L396.4,422.9L398.3,422.3L400.1,419.5L401.8,417.7L404.1,418.6L406.8,418.6L408.0,419.5L409.8,417.0L410.4,415.5L411.8,414.0L412.3,410.3M408.0,419.5L408.8,421.3L410.2,422.6L409.4,423.5L405.9,426.6M410.2,422.6L412.9,422.9L414.7,421.8L415.3,419.1L416.2,417.8L417.5,416.0L418.7,414.6L420.3,414.5L420.4,413.9M415.5,413.2L415.8,415.2L417.4,413.3L419.4,412.9L420.4,413.9L422.3,415.0L422.9,416.8L425.0,417.8M393.8,408.6L400.8,408.1L404.2,407.6M400.8,408.1L401.8,417.7M411.5,405.3L412.8,413.7M412.8,413.7L425.1,411.2M425.1,411.2L426.0,415.9L428.0,415.4M425.1,411.2L425.9,410.6L425.8,411.5M413.3,404.0L413.4,405.0L424.5,402.6L425.3,403.2L426.6,404.6M426.6,404.6L426.0,406.7L426.2,407.6L427.3,408.9L426.0,410.7M426.6,404.6L428.9,405.4M427.0,390.5L427.7,394.2L429.1,398.6L429.1,401.3L429.6,405.2M431.4,389.3L431.5,390.8L430.8,392.2L430.5,395.0L431.1,398.1M429.1,398.6L431.1,398.1L434.0,397.5L435.0,396.5M432.1,388.0L433.7,393.3L435.1,395.7M429.1,401.3L433.3,400.3L434.4,400.0L435.5,401.7M433.3,400.3L433.9,402.8M385.7,406.5L392.9,405.9M385.4,391.4L386.2,392.1L388.9,392.8L391.4,393.7L392.6,396.2M426.1,417.8L427.8,417.1" fill="none" stroke="#747474" stroke-width="0.6" stroke-linejoin="round"/>
<path d="M306.2,374.3L306.0,376.1L306.0,379.6L305.6,382.3L305.0,385.1L303.8,388.2L302.4,392.4L300.9,394.1L300.9,397.4L300.5,399.6L298.8,402.8L299.3,406.7L299.0,408.9L299.9,412.7L300.9,414.2L300.7,416.1L301.4,418.6L302.2,422.4L303.2,425.4L303.3,427.5L306.6,429.6L308.4,430.6L309.3,431.8L310.9,435.1L311.1,437.0L318.0,437.8L327.7,444.9L336.1,446.2L336.3,444.6L341.2,445.2L345.3,449.7L346.5,453.6L349.9,456.5L351.9,453.8L355.8,454.0L358.0,457.4L361.2,462.7L362.3,466.5L365.1,468.0L368.4,468.6L367.7,465.5L367.7,461.8L370.2,459.2L374.2,457.4L376.0,456.1L378.7,454.7L382.6,454.9L386.6,456.2L389.9,456.4L392.7,456.6L391.3,454.5L391.2,452.2L394.4,451.4L396.0,451.7L397.4,451.3L400.4,450.7L403.9,452.9L407.1,451.4L409.6,452.5L412.1,454.8L412.9,458.8L414.9,462.2L416.5,464.5L419.2,467.4L421.4,467.1L422.0,464.7L421.6,461.4L420.0,458.3L419.0,455.5L417.3,452.8L415.5,449.0L415.3,445.2L416.3,442.0L418.5,439.0L420.3,437.2L421.8,434.4L423.4,433.5L425.4,430.4L426.8,430.1L429.2,427.4L427.7,424.1L426.7,421.7L427.2,419.3L427.9,417.2L428.0,415.4L427.6,414.2L428.0,413.5L428.9,411.5L429.4,408.7L429.1,407.3L429.3,406.8L432.6,405.0L434.0,403.8L432.2,403.5L434.8,402.1L436.0,401.5L436.7,401.1L438.2,400.2L437.6,398.9L436.8,400.3L435.1,398.7L435.7,397.2L435.1,395.6L435.8,393.3L438.2,390.8L440.3,389.0L442.3,386.7L439.4,384.2L438.0,379.2L436.6,378.7L434.4,379.0L433.4,382.2L433.4,385.1L432.7,387.4L431.4,389.3L423.8,391.3L422.5,392.2L420.5,395.1L421.2,397.3L418.3,399.2L414.4,399.9L414.8,401.3L413.2,404.1L410.3,405.7L406.2,408.1L404.2,407.6L404.9,406.0L406.2,403.9L406.2,402.4L405.7,400.2L404.5,398.7L403.3,399.4L402.2,400.7L403.4,397.9L403.0,395.2L399.3,392.9L397.5,394.2L397.5,396.4L396.2,398.1L395.7,400.8L396.9,405.1L395.6,408.5L393.9,409.0L393.6,408.1L392.9,405.9L392.4,403.3L392.6,399.6L394.1,395.3L391.8,398.5L392.6,396.2L391.9,394.4L394.7,393.0L397.3,392.0L399.2,392.6L400.6,391.2L399.8,390.2L398.2,389.4L394.8,391.0L392.6,391.0L390.6,389.7L391.1,387.6L389.6,388.7L387.5,390.3L385.4,391.2L384.0,390.5L381.3,390.9L383.9,388.7L387.0,386.0L384.2,385.7L381.4,385.0L378.1,384.2L375.3,383.8L374.8,381.7L374.0,381.4L374.0,382.8L362.8,382.6L351.3,381.7L339.9,380.2L328.5,378.1L317.3,375.3L311.2,373.5L311.3,375.5L309.8,376.4L307.6,375.5Z" fill="none" stroke="#5e5e5e" stroke-width="0.7" stroke-linejoin="round"/>
<path d="M311.3,375.7L310.8,377.2L310.2,378.6L309.5,379.9M301.7,412.9L301.5,414.0L301.8,415.2M424.4,412.0L423.9,413.5L424.0,414.6L424.6,416.4L425.1,417.8L425.6,419.3L426.4,421.2M425.8,411.5L426.7,412.8L427.8,413.9" fill="none" stroke="#333" stroke-width="0.9" stroke-linecap="round" stroke-linejoin="round"/>
<text x="7.0" y="17.8" font-size="12" text-anchor="start" font-weight="bold" fill="#111" >A</text>
<text x="7.3" y="488.1" font-size="12" text-anchor="start" font-weight="bold" fill="#111" >B</text>
<text x="267.1" y="488.6" font-size="12" text-anchor="start" font-weight="bold" fill="#111" >C</text>
<text x="74.2" y="19" font-size="8.57" text-anchor="start" font-weight="normal" fill="#111" >Distribution density of recalled blood products</text>
<text x="342.1" y="29.5" font-size="8.56" text-anchor="start" font-weight="normal" fill="#111" >Cryoprecipitate</text>
<text x="145" y="147.7" font-size="8.75" text-anchor="start" font-weight="normal" fill="#111" >RBC LR</text>
<text x="351.8" y="148.7" font-size="8.9" text-anchor="start" font-weight="normal" fill="#111" >RBC NLR</text>
<text x="152.1" y="263.3" font-size="8.2" text-anchor="start" font-weight="normal" fill="#111" >P LR</text>
<text x="359" y="265.6" font-size="8.43" text-anchor="start" font-weight="normal" fill="#111" >P NLR</text>
<text x="145.8" y="375.9" font-size="8.45" text-anchor="start" font-weight="normal" fill="#111" >PF24</text>
<text x="363.6" y="379" font-size="8.1" text-anchor="start" font-weight="normal" fill="#111" >FFP</text>
<text x="27.8" y="53.8" font-size="6.4" text-anchor="start" font-weight="normal" fill="#111" >Km/Km<tspan dy="-2.7" font-size="4.0">2</tspan></text>
<rect x="34.6" y="58.3" width="10.9" height="5.7" fill="#ffffff" stroke="#222" stroke-width="0.8"/>
<text x="48.7" y="63.3" font-size="5.45" text-anchor="start" font-weight="normal" fill="#111" >0</text>
<rect x="34.6" y="67.6" width="10.9" height="5.7" fill="#9ab0b9" stroke="#222" stroke-width="0.8"/>
<text x="48.7" y="72.6" font-size="5.45" text-anchor="start" font-weight="normal" fill="#111" >0.001 - 1</text>
<rect x="34.6" y="76.9" width="10.9" height="5.7" fill="#bfd19b" stroke="#222" stroke-width="0.8"/>
<text x="48.7" y="81.9" font-size="5.45" text-anchor="start" font-weight="normal" fill="#111" >1.001 - 2</text>
<rect x="34.6" y="86.2" width="10.9" height="5.7" fill="#ebed84" stroke="#222" stroke-width="0.8"/>
<text x="48.7" y="91.2" font-size="5.45" text-anchor="start" font-weight="normal" fill="#111" >2.001 - 3</text>
<rect x="34.6" y="95.5" width="10.9" height="5.7" fill="#f5dc72" stroke="#222" stroke-width="0.8"/>
<text x="48.7" y="100.5" font-size="5.45" text-anchor="start" font-weight="normal" fill="#111" >3.001 - 4</text>
<rect x="34.6" y="104.8" width="10.9" height="5.7" fill="#e9a555" stroke="#222" stroke-width="0.8"/>
<text x="48.7" y="109.8" font-size="5.45" text-anchor="start" font-weight="normal" fill="#111" >4.001 - 5</text>
<rect x="34.6" y="114.1" width="10.9" height="5.7" fill="#dc6b31" stroke="#222" stroke-width="0.8"/>
<text x="48.7" y="119.1" font-size="5.45" text-anchor="start" font-weight="normal" fill="#111" >5.001 - 6</text>
<rect x="34.6" y="123.4" width="10.9" height="5.7" fill="#c0161f" stroke="#222" stroke-width="0.8"/>
<text x="48.7" y="128.4" font-size="5.45" text-anchor="start" font-weight="normal" fill="#111" >6.001 - 7</text>
<path d="M308.3,43.8L313.5,38.5M308.3,43.8L338.5,45.4M308.3,43.8L377.0,51.3M308.3,43.8L400.0,58.0M308.3,43.8L400.0,62.9M308.3,43.8L393.0,62.3M308.3,43.8L423.8,57.7M308.3,43.8L390.4,68.7M308.3,43.8L327.0,53.3M308.3,43.8L327.7,91.5M308.3,43.8L330.8,73.1M308.3,43.8L317.3,69.6M308.3,43.8L388.0,57.2M308.3,80.4L318.5,83.0M308.3,80.4L309.8,89.2M308.3,80.4L393.0,62.3M308.3,80.4L400.8,57.7M308.3,80.4L423.0,72.3M308.3,80.4L397.7,73.5M308.3,80.4L366.5,80.0M308.3,80.4L347.4,77.2M308.3,80.4L380.0,67.0M308.3,80.4L380.0,71.5M308.3,80.4L390.8,73.5M327.7,91.5L380.0,73.8M327.7,91.5L393.0,62.3M396.5,65.5L423.8,57.7M387.5,66.0L434.6,59.2M393.0,62.3L423.0,72.3M390.4,68.7L417.7,66.2M396.5,65.5L428.5,64.6M387.5,66.0L377.0,51.0M393.0,62.3L388.0,57.2M390.4,68.7L400.8,57.7M396.5,65.5L378.5,67.7M387.5,66.0L390.8,73.5M393.0,62.3L397.7,73.5M390.4,68.7L406.0,70.0M396.5,65.5L387.7,79.2M387.5,66.0L380.0,85.4M393.0,62.3L382.3,93.0M390.4,68.7L362.8,107.0M396.5,65.5L373.5,113.5M387.5,66.0L415.7,116.4M393.0,62.3L418.5,86.8M390.4,68.7L366.5,80.0M396.5,65.5L347.4,77.2M387.5,66.0L330.8,73.1M393.0,62.3L390.2,101.0M390.4,68.7L408.4,99.3M396.5,65.5L421.0,122.5M362.8,107.0L380.0,89.0M362.8,107.0L373.5,113.5M362.8,107.0L368.5,90.8M362.8,107.0L393.0,62.3M423.8,57.7L421.5,124.5M396.9,70.0L421.1,122.5M387.5,70.0L415.8,114.4M390.8,73.5L398.3,109.7M406.0,70.0L413.0,117.1M417.7,66.2L423.0,72.3M423.8,57.7L434.6,59.2M387.7,79.2L372.7,113.0M379.4,85.5L423.0,72.3M378.5,67.7L423.0,72.3" stroke="#78a248" stroke-width="0.5" stroke-opacity="0.62" fill="none" stroke-linecap="round"/>
<circle cx="313.5" cy="38.5" r="0.8" fill="#4f9a22"/><circle cx="338.5" cy="45.4" r="0.8" fill="#4f9a22"/><circle cx="326.5" cy="53.0" r="0.8" fill="#4f9a22"/><circle cx="330.8" cy="73.1" r="0.8" fill="#4f9a22"/><circle cx="347.4" cy="77.2" r="0.8" fill="#4f9a22"/><circle cx="366.5" cy="80.0" r="0.8" fill="#4f9a22"/><circle cx="368.5" cy="90.8" r="0.8" fill="#4f9a22"/><circle cx="362.8" cy="107.0" r="0.8" fill="#4f9a22"/><circle cx="373.5" cy="113.5" r="0.8" fill="#4f9a22"/><circle cx="377.0" cy="51.0" r="0.8" fill="#4f9a22"/><circle cx="388.0" cy="57.2" r="0.8" fill="#4f9a22"/><circle cx="400.8" cy="57.7" r="0.8" fill="#4f9a22"/><circle cx="378.5" cy="67.7" r="0.8" fill="#4f9a22"/><circle cx="390.8" cy="73.5" r="0.8" fill="#4f9a22"/><circle cx="397.7" cy="73.5" r="0.8" fill="#4f9a22"/><circle cx="406.0" cy="70.0" r="0.8" fill="#4f9a22"/><circle cx="417.7" cy="66.2" r="0.8" fill="#4f9a22"/><circle cx="423.0" cy="72.3" r="0.8" fill="#4f9a22"/><circle cx="428.5" cy="64.6" r="0.8" fill="#4f9a22"/><circle cx="423.8" cy="57.7" r="0.8" fill="#4f9a22"/><circle cx="434.6" cy="59.2" r="0.8" fill="#4f9a22"/><circle cx="387.7" cy="79.2" r="0.8" fill="#4f9a22"/><circle cx="380.0" cy="85.4" r="0.8" fill="#4f9a22"/><circle cx="382.3" cy="93.0" r="0.8" fill="#4f9a22"/><circle cx="418.5" cy="86.8" r="0.8" fill="#4f9a22"/><circle cx="390.2" cy="101.0" r="0.8" fill="#4f9a22"/><circle cx="408.4" cy="99.3" r="0.8" fill="#4f9a22"/><circle cx="398.3" cy="109.7" r="0.8" fill="#4f9a22"/><circle cx="413.0" cy="117.1" r="0.8" fill="#4f9a22"/><circle cx="415.8" cy="114.4" r="0.8" fill="#4f9a22"/><circle cx="421.0" cy="122.5" r="0.8" fill="#4f9a22"/><circle cx="308.3" cy="43.8" r="0.8" fill="#4f9a22"/><circle cx="308.3" cy="80.4" r="0.8" fill="#4f9a22"/><circle cx="327.7" cy="91.5" r="0.8" fill="#4f9a22"/><circle cx="318.5" cy="83.0" r="0.8" fill="#4f9a22"/><circle cx="309.8" cy="89.2" r="0.8" fill="#4f9a22"/><circle cx="393.0" cy="62.3" r="0.8" fill="#4f9a22"/><circle cx="372.7" cy="113.0" r="0.8" fill="#4f9a22"/>
<path d="M222.6,180.0L170.2,189.5M126.6,174.2L215.8,194.2M152.3,240.7L190.3,214.0M159.2,159.0L219.9,183.3M176.8,177.7L107.3,199.0M189.4,189.1L175.2,191.3M176.5,217.6L196.9,177.8M149.3,208.3L189.3,189.0M212.8,187.7L98.1,150.2M212.8,187.7L153.9,231.0M224.6,174.8L216.8,185.4M174.8,169.0L228.4,171.4M103.4,164.5L205.7,184.1M190.2,213.3L194.6,170.6M207.0,225.8L180.5,228.1M98.2,150.3L158.5,227.5M191.2,195.0L147.5,184.3M176.5,217.6L206.6,204.9M222.1,179.4L212.8,187.7M221.7,172.6L219.1,183.5M127.0,170.9L215.4,193.8M188.7,203.6L182.6,188.2M180.0,164.0L231.6,160.0M176.8,177.7L88.2,187.6M120.9,181.1L232.0,160.7M188.9,204.0L159.8,217.5M206.0,183.9L194.6,170.6M173.6,190.0L179.6,208.5M97.8,151.0L174.8,169.0M174.8,169.0L184.2,177.0M207.5,204.8L170.2,189.5M88.9,186.9L200.1,185.1M169.2,175.4L198.5,187.5M134.4,165.2L195.7,181.3M180.1,190.0L180.0,164.0M201.0,180.8L195.6,189.7M217.9,183.5L207.5,204.3M215.9,187.9L194.6,170.6M170.2,189.5L159.8,217.9M139.8,189.7L196.7,211.5M108.3,200.3L192.5,183.6M124.2,157.6L174.8,169.0M160.2,218.4L176.5,217.6M193.2,177.4L120.9,181.1M221.7,172.6L124.9,157.5M205.9,184.6L121.9,207.3M165.6,170.5L163.9,229.8M190.5,213.9L193.9,197.7M189.9,213.9L194.3,199.7M179.4,186.8L121.9,207.3M185.0,180.8L158.5,227.5M194.6,170.6L164.4,229.1M129.0,215.9L124.6,157.7M203.1,222.0L90.7,185.3M221.7,179.4L149.3,208.3M158.5,227.5L164.5,229.3M180.0,164.0L219.8,183.3M129.0,215.9L188.9,202.9M98.6,181.1L219.9,182.9M98.4,165.9L214.6,182.7M118.5,182.9L178.8,194.9M214.9,183.3L170.2,189.5M95.2,157.8L203.1,222.0M107.9,150.8L209.4,231.1M223.9,175.4L209.3,231.3M113.8,211.5L221.7,172.6M213.9,239.7L138.0,184.1M172.1,206.0L206.1,233.8M119.3,182.6L212.8,187.7M99.3,201.0L198.7,187.2M107.9,150.8L221.1,172.4M219.4,183.4L178.8,202.7M94.2,161.6L205.9,184.5M159.2,159.0L206.3,184.5M164.2,229.7L104.2,211.3M229.1,154.0L184.2,177.1M165.6,170.5L197.2,178.3M207.4,223.7L180.0,164.0M188.9,204.0L157.3,227.6M213.9,239.7L185.1,181.4M172.1,206.0L88.2,187.2M150.1,213.0L222.3,179.6M195.6,189.7L201.3,181.1M152.3,240.7L137.3,189.5M213.7,168.2L165.8,192.7M131.2,207.2L126.6,174.2M170.6,200.0L206.0,233.8M158.2,198.7L212.8,187.7M221.9,179.2L158.3,217.9M160.0,217.7L212.8,187.7M221.9,179.9L175.2,191.3M119.3,183.1L202.0,207.0M169.8,177.2L195.7,181.1M198.1,186.9L195.6,189.7M157.0,200.1L191.7,194.8M178.8,194.6L176.7,224.2M157.0,200.1L195.4,195.3M188.9,204.0L222.0,179.4M162.5,184.4L186.3,189.9M186.3,189.9L169.3,170.2M169.4,219.3L132.6,174.8M88.8,186.8L202.0,207.0M200.4,208.8L160.0,217.9M184.0,177.0L180.0,164.0M214.9,240.3L126.6,174.2M109.5,169.9L120.9,181.1M169.8,177.2L94.4,193.1M174.8,169.0L197.0,177.8M198.5,187.5L223.9,175.4M200.4,208.8L214.6,240.4M165.3,188.8L189.8,213.5M221.7,172.6L184.4,181.0M205.5,233.0L186.2,183.1M108.7,194.7L194.5,191.5M120.9,181.1L215.4,188.2M178.9,225.8L183.7,177.1M157.0,200.1L205.6,233.1M189.8,204.0L195.0,195.9M169.0,219.1L160.9,184.3M162.3,184.5L94.2,163.5M186.3,189.9L88.8,187.2M154.5,228.0L156.7,228.0M215.4,193.7L200.1,185.1M160.9,184.3L154.1,230.8M163.7,229.3L134.4,165.2M207.0,225.8L194.8,191.0M126.6,174.2L214.1,172.0M203.1,222.0L206.5,184.5M192.0,183.9L113.7,176.7M88.6,186.8L206.3,207.3M149.3,208.3L181.2,228.1M94.2,163.5L91.3,185.1M88.1,186.9L94.2,161.6M188.9,204.0L159.7,217.6M108.7,194.7L95.3,158.5M163.8,229.7L129.0,215.9M210.5,172.3L178.8,202.7M197.2,178.4L147.5,184.3M107.9,150.8L221.2,172.4M121.9,207.3L109.9,153.4M195.6,189.7L196.1,180.9M219.7,168.8L162.4,184.7M169.2,175.4L178.6,194.8M206.3,207.3L215.3,188.1M150.1,213.0L206.6,183.8M169.6,170.2L173.6,190.0M184.4,180.9L207.0,225.8M228.1,170.8L165.3,188.8M132.6,174.8L183.9,176.6M180.0,164.0L96.3,204.4M168.5,183.2L126.6,174.2M186.2,183.1L194.9,191.5M179.9,177.4L98.4,165.9M108.3,200.3L216.0,187.1M136.5,203.0L201.3,181.0M189.3,202.9L189.8,223.7M88.3,186.8L161.6,191.5M120.9,181.1L154.8,231.3M213.7,168.2L189.4,188.7M191.0,194.6L186.2,183.1M158.3,217.9L208.8,230.9M205.8,233.7L122.8,179.8M166.4,193.1L169.2,175.4M189.8,223.7L189.4,176.8M169.8,177.2L205.8,184.6M98.3,150.9L152.3,240.7M170.6,200.0L143.1,172.8M194.9,191.6L103.4,164.5M95.9,204.8L159.2,159.0M207.7,210.0L107.9,150.8M95.1,194.8L160.2,218.3M95.1,194.8L179.2,208.3M95.1,194.8L219.8,182.5M95.1,194.8L179.5,208.1M95.1,194.8L198.0,187.6M95.1,194.8L188.8,189.3M95.1,194.8L197.7,211.5M95.1,194.8L160.3,218.5M95.1,194.8L189.4,188.0M95.1,194.8L165.1,230.4M95.1,194.8L184.4,181.3M95.1,194.8L227.5,171.7M95.1,194.8L206.2,183.5M95.1,194.8L215.5,185.8M95.1,194.8L221.7,180.1M95.1,194.8L194.3,190.3M95.1,194.8L194.4,191.3M95.1,194.8L222.9,178.8M95.1,194.8L163.5,230.6M95.1,194.8L228.1,171.3M95.1,194.8L170.2,169.9M95.1,194.8L184.0,181.9M95.8,157.7L166.7,192.5M95.8,157.7L227.3,170.3M95.8,157.7L207.1,184.5M95.8,157.7L163.3,229.4M95.8,157.7L189.0,188.2M95.8,157.7L205.5,233.3M95.8,157.7L189.9,204.1M95.8,157.7L216.2,187.4M194.9,192.0L214.7,187.7M190.1,188.1L198.3,186.4M207.0,184.5L218.3,182.5M190.2,189.8L170.1,170.7M191.4,184.4L166.2,193.8M196.5,177.9L219.1,182.1M163.5,185.1L166.4,193.8M189.4,188.2L215.5,186.7M194.8,190.9L218.6,183.0M197.2,187.5L215.8,182.7M190.1,194.1L180.6,187.2M200.8,181.6L199.2,187.8M197.9,187.6L167.9,184.5M196.1,178.3L191.4,195.2M214.3,182.4L190.4,195.4M188.5,189.4L198.4,187.2M184.3,180.3L218.3,184.2M188.9,189.3L205.2,184.1M213.5,182.5L162.3,185.8M215.1,186.6L207.2,184.8M195.3,190.6L216.4,186.3M197.1,186.9L213.7,183.6M197.4,177.3L184.6,181.4M206.0,183.3L195.4,190.2M161.8,184.4L197.1,186.2M215.6,184.1L218.4,183.1M189.1,190.0L166.3,192.3M185.6,180.4L194.5,190.9M214.0,183.5L166.6,194.3M222.0,179.8L180.4,190.7M179.2,190.0L190.2,189.1M205.7,183.2L190.9,182.5M191.7,195.8L190.7,189.8M220.3,183.6L200.5,181.4M190.7,188.9L205.6,184.9M218.4,182.5L184.3,182.3M195.4,191.0L170.0,184.0M222.1,180.6L194.6,190.4M213.9,183.1L221.0,180.4M198.4,186.6L190.4,189.0M221.5,180.2L162.7,184.5M192.9,182.7L185.5,180.4M185.7,180.7L222.1,179.8M193.3,191.1L222.8,179.2M198.7,186.9L185.7,181.8M190.5,189.8L180.9,190.3M191.4,194.4L215.3,187.1M197.1,178.3L184.7,181.9M170.0,170.1L214.8,182.7M180.9,186.0L219.9,184.0M215.2,186.5L214.5,183.7M178.6,194.5L196.1,181.5M188.6,188.6L197.7,188.2M197.7,186.4L181.0,185.4M184.0,180.4L213.5,183.4M184.8,182.2L198.6,187.6M216.3,187.5L165.2,193.5M179.2,194.5L198.0,186.5M194.6,192.2L196.3,178.6M188.7,189.9L202.1,180.2M165.8,192.3L198.1,186.2M215.2,188.9L196.1,177.6M215.6,181.9L183.7,182.0M162.1,183.8L218.3,183.1M195.5,190.0L189.2,189.6" stroke="#bd8257" stroke-width="0.5" stroke-opacity="0.62" fill="none" stroke-linecap="round"/>
<path d="M95.1,194.8L184.7,181.2M95.1,194.8L189.5,189.0M95.1,194.8L219.5,183.0M222.1,179.6L198.2,187.1M219.5,183.0L189.5,189.0M189.5,189.0L137.3,189.6M159.9,217.9L219.5,183.0M205.8,233.3L222.1,179.6M194.5,191.2L222.1,179.6M214.7,182.9L184.7,181.2" stroke="#c9682e" stroke-width="0.8" stroke-opacity="0.7" fill="none" stroke-linecap="round"/>
<circle cx="170.2" cy="189.5" r="0.8" fill="#6cb33f"/><circle cx="190.3" cy="214.0" r="0.8" fill="#6cb33f"/><circle cx="107.3" cy="199.0" r="0.8" fill="#6cb33f"/><circle cx="196.9" cy="177.8" r="0.8" fill="#6cb33f"/><circle cx="98.1" cy="150.2" r="0.8" fill="#6cb33f"/><circle cx="216.8" cy="185.4" r="0.8" fill="#6cb33f"/><circle cx="205.7" cy="184.1" r="0.8" fill="#6cb33f"/><circle cx="180.5" cy="228.1" r="0.8" fill="#6cb33f"/><circle cx="147.5" cy="184.3" r="0.8" fill="#6cb33f"/><circle cx="212.8" cy="187.7" r="0.8" fill="#6cb33f"/><circle cx="215.4" cy="193.8" r="0.8" fill="#6cb33f"/><circle cx="231.6" cy="160.0" r="0.8" fill="#6cb33f"/><circle cx="232.0" cy="160.7" r="0.8" fill="#6cb33f"/><circle cx="194.6" cy="170.6" r="0.8" fill="#6cb33f"/><circle cx="174.8" cy="169.0" r="0.8" fill="#6cb33f"/><circle cx="170.2" cy="189.5" r="0.8" fill="#6cb33f"/><circle cx="198.5" cy="187.5" r="0.8" fill="#6cb33f"/><circle cx="180.0" cy="164.0" r="0.8" fill="#6cb33f"/><circle cx="207.5" cy="204.3" r="0.8" fill="#6cb33f"/><circle cx="159.8" cy="217.9" r="0.8" fill="#6cb33f"/><circle cx="192.5" cy="183.6" r="0.8" fill="#6cb33f"/><circle cx="176.5" cy="217.6" r="0.8" fill="#6cb33f"/><circle cx="124.9" cy="157.5" r="0.8" fill="#6cb33f"/><circle cx="163.9" cy="229.8" r="0.8" fill="#6cb33f"/><circle cx="194.3" cy="199.7" r="0.8" fill="#6cb33f"/><circle cx="158.5" cy="227.5" r="0.8" fill="#6cb33f"/><circle cx="124.6" cy="157.7" r="0.8" fill="#6cb33f"/><circle cx="149.3" cy="208.3" r="0.8" fill="#6cb33f"/><circle cx="219.8" cy="183.3" r="0.8" fill="#6cb33f"/><circle cx="219.9" cy="182.9" r="0.8" fill="#6cb33f"/><circle cx="178.8" cy="194.9" r="0.8" fill="#6cb33f"/><circle cx="203.1" cy="222.0" r="0.8" fill="#6cb33f"/><circle cx="209.3" cy="231.3" r="0.8" fill="#6cb33f"/><circle cx="138.0" cy="184.1" r="0.8" fill="#6cb33f"/><circle cx="212.8" cy="187.7" r="0.8" fill="#6cb33f"/><circle cx="221.1" cy="172.4" r="0.8" fill="#6cb33f"/><circle cx="205.9" cy="184.5" r="0.8" fill="#6cb33f"/><circle cx="104.2" cy="211.3" r="0.8" fill="#6cb33f"/><circle cx="197.2" cy="178.3" r="0.8" fill="#6cb33f"/><circle cx="157.3" cy="227.6" r="0.8" fill="#6cb33f"/><circle cx="88.2" cy="187.2" r="0.8" fill="#6cb33f"/><circle cx="201.3" cy="181.1" r="0.8" fill="#6cb33f"/><circle cx="165.8" cy="192.7" r="0.8" fill="#6cb33f"/><circle cx="206.0" cy="233.8" r="0.8" fill="#6cb33f"/><circle cx="158.3" cy="217.9" r="0.8" fill="#6cb33f"/><circle cx="175.2" cy="191.3" r="0.8" fill="#6cb33f"/><circle cx="195.7" cy="181.1" r="0.8" fill="#6cb33f"/><circle cx="191.7" cy="194.8" r="0.8" fill="#6cb33f"/><circle cx="195.4" cy="195.3" r="0.8" fill="#6cb33f"/><circle cx="186.3" cy="189.9" r="0.8" fill="#6cb33f"/><circle cx="132.6" cy="174.8" r="0.8" fill="#6cb33f"/><circle cx="160.0" cy="217.9" r="0.8" fill="#6cb33f"/><circle cx="126.6" cy="174.2" r="0.8" fill="#6cb33f"/><circle cx="94.4" cy="193.1" r="0.8" fill="#6cb33f"/><circle cx="223.9" cy="175.4" r="0.8" fill="#6cb33f"/><circle cx="189.8" cy="213.5" r="0.8" fill="#6cb33f"/><circle cx="186.2" cy="183.1" r="0.8" fill="#6cb33f"/><circle cx="215.4" cy="188.2" r="0.8" fill="#6cb33f"/><circle cx="205.6" cy="233.1" r="0.8" fill="#6cb33f"/><circle cx="160.9" cy="184.3" r="0.8" fill="#6cb33f"/><circle cx="88.8" cy="187.2" r="0.8" fill="#6cb33f"/><circle cx="200.1" cy="185.1" r="0.8" fill="#6cb33f"/><circle cx="134.4" cy="165.2" r="0.8" fill="#6cb33f"/><circle cx="214.1" cy="172.0" r="0.8" fill="#6cb33f"/><circle cx="113.7" cy="176.7" r="0.8" fill="#6cb33f"/><circle cx="181.2" cy="228.1" r="0.8" fill="#6cb33f"/><circle cx="94.2" cy="161.6" r="0.8" fill="#6cb33f"/><circle cx="95.3" cy="158.5" r="0.8" fill="#6cb33f"/><circle cx="178.8" cy="202.7" r="0.8" fill="#6cb33f"/><circle cx="221.2" cy="172.4" r="0.8" fill="#6cb33f"/><circle cx="196.1" cy="180.9" r="0.8" fill="#6cb33f"/><circle cx="178.6" cy="194.8" r="0.8" fill="#6cb33f"/><circle cx="206.6" cy="183.8" r="0.8" fill="#6cb33f"/><circle cx="207.0" cy="225.8" r="0.8" fill="#6cb33f"/><circle cx="183.9" cy="176.6" r="0.8" fill="#6cb33f"/><circle cx="126.6" cy="174.2" r="0.8" fill="#6cb33f"/><circle cx="98.4" cy="165.9" r="0.8" fill="#6cb33f"/><circle cx="201.3" cy="181.0" r="0.8" fill="#6cb33f"/><circle cx="161.6" cy="191.5" r="0.8" fill="#6cb33f"/><circle cx="189.4" cy="188.7" r="0.8" fill="#6cb33f"/><circle cx="208.8" cy="230.9" r="0.8" fill="#6cb33f"/><circle cx="169.2" cy="175.4" r="0.8" fill="#6cb33f"/><circle cx="205.8" cy="184.6" r="0.8" fill="#6cb33f"/><circle cx="143.1" cy="172.8" r="0.8" fill="#6cb33f"/><circle cx="159.2" cy="159.0" r="0.8" fill="#6cb33f"/><circle cx="160.2" cy="218.3" r="0.8" fill="#6cb33f"/><circle cx="219.8" cy="182.5" r="0.8" fill="#6cb33f"/><circle cx="198.0" cy="187.6" r="0.8" fill="#6cb33f"/><circle cx="197.7" cy="211.5" r="0.8" fill="#6cb33f"/><circle cx="189.4" cy="188.0" r="0.8" fill="#6cb33f"/><circle cx="184.4" cy="181.3" r="0.8" fill="#6cb33f"/><circle cx="206.2" cy="183.5" r="0.8" fill="#6cb33f"/><circle cx="221.7" cy="180.1" r="0.8" fill="#6cb33f"/><circle cx="194.4" cy="191.3" r="0.8" fill="#6cb33f"/><circle cx="163.5" cy="230.6" r="0.8" fill="#6cb33f"/><circle cx="170.2" cy="169.9" r="0.8" fill="#6cb33f"/><circle cx="166.7" cy="192.5" r="0.8" fill="#6cb33f"/><circle cx="207.1" cy="184.5" r="0.8" fill="#6cb33f"/><circle cx="189.0" cy="188.2" r="0.8" fill="#6cb33f"/><circle cx="189.9" cy="204.1" r="0.8" fill="#6cb33f"/><circle cx="219.9" cy="184.0" r="0.8" fill="#6cb33f"/><circle cx="218.3" cy="182.5" r="0.8" fill="#6cb33f"/><circle cx="198.3" cy="186.4" r="0.8" fill="#6cb33f"/><circle cx="167.9" cy="184.5" r="0.8" fill="#6cb33f"/><circle cx="184.7" cy="181.9" r="0.8" fill="#6cb33f"/><circle cx="202.1" cy="180.2" r="0.8" fill="#6cb33f"/><circle cx="216.4" cy="186.3" r="0.8" fill="#6cb33f"/><circle cx="221.0" cy="180.4" r="0.8" fill="#6cb33f"/><circle cx="183.7" cy="182.0" r="0.8" fill="#6cb33f"/><circle cx="207.2" cy="184.8" r="0.8" fill="#6cb33f"/><circle cx="198.6" cy="187.6" r="0.8" fill="#6cb33f"/><circle cx="218.4" cy="183.1" r="0.8" fill="#6cb33f"/><circle cx="190.4" cy="189.0" r="0.8" fill="#6cb33f"/><circle cx="180.6" cy="187.2" r="0.8" fill="#6cb33f"/><circle cx="170.1" cy="170.7" r="0.8" fill="#6cb33f"/><circle cx="213.7" cy="183.6" r="0.8" fill="#6cb33f"/><circle cx="198.0" cy="186.5" r="0.8" fill="#6cb33f"/>
<circle cx="222.6" cy="180.0" r="0.9" fill="#d0601f"/><circle cx="152.3" cy="240.7" r="0.9" fill="#d0601f"/><circle cx="176.8" cy="177.7" r="0.9" fill="#d0601f"/><circle cx="176.5" cy="217.6" r="0.9" fill="#d0601f"/><circle cx="212.8" cy="187.7" r="0.9" fill="#d0601f"/><circle cx="224.6" cy="174.8" r="0.9" fill="#d0601f"/><circle cx="103.4" cy="164.5" r="0.9" fill="#d0601f"/><circle cx="207.0" cy="225.8" r="0.9" fill="#d0601f"/><circle cx="191.2" cy="195.0" r="0.9" fill="#d0601f"/><circle cx="222.1" cy="179.4" r="0.9" fill="#d0601f"/><circle cx="127.0" cy="170.9" r="0.9" fill="#d0601f"/><circle cx="180.0" cy="164.0" r="0.9" fill="#d0601f"/><circle cx="120.9" cy="181.1" r="0.9" fill="#d0601f"/><circle cx="206.0" cy="183.9" r="0.9" fill="#d0601f"/><circle cx="97.8" cy="151.0" r="0.9" fill="#d0601f"/><circle cx="207.5" cy="204.8" r="0.9" fill="#d0601f"/><circle cx="169.2" cy="175.4" r="0.9" fill="#d0601f"/><circle cx="180.1" cy="190.0" r="0.9" fill="#d0601f"/><circle cx="217.9" cy="183.5" r="0.9" fill="#d0601f"/><circle cx="170.2" cy="189.5" r="0.9" fill="#d0601f"/><circle cx="108.3" cy="200.3" r="0.9" fill="#d0601f"/><circle cx="160.2" cy="218.4" r="0.9" fill="#d0601f"/><circle cx="221.7" cy="172.6" r="0.9" fill="#d0601f"/><circle cx="165.6" cy="170.5" r="0.9" fill="#d0601f"/><circle cx="189.9" cy="213.9" r="0.9" fill="#d0601f"/><circle cx="185.0" cy="180.8" r="0.9" fill="#d0601f"/><circle cx="129.0" cy="215.9" r="0.9" fill="#d0601f"/><circle cx="221.7" cy="179.4" r="0.9" fill="#d0601f"/><circle cx="180.0" cy="164.0" r="0.9" fill="#d0601f"/><circle cx="98.6" cy="181.1" r="0.9" fill="#d0601f"/><circle cx="118.5" cy="182.9" r="0.9" fill="#d0601f"/><circle cx="95.2" cy="157.8" r="0.9" fill="#d0601f"/><circle cx="223.9" cy="175.4" r="0.9" fill="#d0601f"/><circle cx="213.9" cy="239.7" r="0.9" fill="#d0601f"/><circle cx="119.3" cy="182.6" r="0.9" fill="#d0601f"/><circle cx="107.9" cy="150.8" r="0.9" fill="#d0601f"/><circle cx="94.2" cy="161.6" r="0.9" fill="#d0601f"/><circle cx="164.2" cy="229.7" r="0.9" fill="#d0601f"/><circle cx="165.6" cy="170.5" r="0.9" fill="#d0601f"/><circle cx="188.9" cy="204.0" r="0.9" fill="#d0601f"/><circle cx="172.1" cy="206.0" r="0.9" fill="#d0601f"/><circle cx="195.6" cy="189.7" r="0.9" fill="#d0601f"/><circle cx="213.7" cy="168.2" r="0.9" fill="#d0601f"/><circle cx="170.6" cy="200.0" r="0.9" fill="#d0601f"/><circle cx="221.9" cy="179.2" r="0.9" fill="#d0601f"/><circle cx="221.9" cy="179.9" r="0.9" fill="#d0601f"/><circle cx="169.8" cy="177.2" r="0.9" fill="#d0601f"/><circle cx="157.0" cy="200.1" r="0.9" fill="#d0601f"/><circle cx="157.0" cy="200.1" r="0.9" fill="#d0601f"/><circle cx="162.5" cy="184.4" r="0.9" fill="#d0601f"/><circle cx="169.4" cy="219.3" r="0.9" fill="#d0601f"/><circle cx="200.4" cy="208.8" r="0.9" fill="#d0601f"/><circle cx="214.9" cy="240.3" r="0.9" fill="#d0601f"/><circle cx="169.8" cy="177.2" r="0.9" fill="#d0601f"/><circle cx="198.5" cy="187.5" r="0.9" fill="#d0601f"/><circle cx="165.3" cy="188.8" r="0.9" fill="#d0601f"/><circle cx="205.5" cy="233.0" r="0.9" fill="#d0601f"/><circle cx="120.9" cy="181.1" r="0.9" fill="#d0601f"/><circle cx="157.0" cy="200.1" r="0.9" fill="#d0601f"/><circle cx="169.0" cy="219.1" r="0.9" fill="#d0601f"/><circle cx="186.3" cy="189.9" r="0.9" fill="#d0601f"/><circle cx="215.4" cy="193.7" r="0.9" fill="#d0601f"/><circle cx="163.7" cy="229.3" r="0.9" fill="#d0601f"/><circle cx="126.6" cy="174.2" r="0.9" fill="#d0601f"/><circle cx="192.0" cy="183.9" r="0.9" fill="#d0601f"/><circle cx="149.3" cy="208.3" r="0.9" fill="#d0601f"/><circle cx="88.1" cy="186.9" r="0.9" fill="#d0601f"/><circle cx="108.7" cy="194.7" r="0.9" fill="#d0601f"/><circle cx="210.5" cy="172.3" r="0.9" fill="#d0601f"/><circle cx="107.9" cy="150.8" r="0.9" fill="#d0601f"/><circle cx="195.6" cy="189.7" r="0.9" fill="#d0601f"/><circle cx="169.2" cy="175.4" r="0.9" fill="#d0601f"/><circle cx="150.1" cy="213.0" r="0.9" fill="#d0601f"/><circle cx="184.4" cy="180.9" r="0.9" fill="#d0601f"/><circle cx="132.6" cy="174.8" r="0.9" fill="#d0601f"/><circle cx="168.5" cy="183.2" r="0.9" fill="#d0601f"/><circle cx="179.9" cy="177.4" r="0.9" fill="#d0601f"/><circle cx="136.5" cy="203.0" r="0.9" fill="#d0601f"/><circle cx="88.3" cy="186.8" r="0.9" fill="#d0601f"/><circle cx="213.7" cy="168.2" r="0.9" fill="#d0601f"/><circle cx="158.3" cy="217.9" r="0.9" fill="#d0601f"/><circle cx="166.4" cy="193.1" r="0.9" fill="#d0601f"/><circle cx="169.8" cy="177.2" r="0.9" fill="#d0601f"/><circle cx="170.6" cy="200.0" r="0.9" fill="#d0601f"/><circle cx="95.9" cy="204.8" r="0.9" fill="#d0601f"/><circle cx="95.1" cy="194.8" r="0.9" fill="#d0601f"/><circle cx="162.1" cy="183.8" r="0.9" fill="#d0601f"/><circle cx="218.4" cy="182.5" r="0.9" fill="#d0601f"/><circle cx="184.0" cy="180.4" r="0.9" fill="#d0601f"/><circle cx="185.7" cy="180.7" r="0.9" fill="#d0601f"/><circle cx="188.9" cy="189.3" r="0.9" fill="#d0601f"/><circle cx="222.0" cy="179.8" r="0.9" fill="#d0601f"/><circle cx="216.3" cy="187.5" r="0.9" fill="#d0601f"/><circle cx="190.7" cy="188.9" r="0.9" fill="#d0601f"/><circle cx="188.6" cy="188.6" r="0.9" fill="#d0601f"/><circle cx="221.5" cy="180.2" r="0.9" fill="#d0601f"/><circle cx="198.4" cy="186.6" r="0.9" fill="#d0601f"/><circle cx="197.1" cy="178.3" r="0.9" fill="#d0601f"/><circle cx="179.2" cy="194.5" r="0.9" fill="#d0601f"/><circle cx="222.1" cy="180.6" r="0.9" fill="#d0601f"/><circle cx="190.5" cy="189.8" r="0.9" fill="#d0601f"/><circle cx="207.0" cy="184.5" r="0.9" fill="#d0601f"/><circle cx="198.7" cy="186.9" r="0.9" fill="#d0601f"/>
<path d="M417.2,173.8L372.9,184.6M423.1,238.8L428.1,183.1M431.2,179.7L428.4,183.4M404.4,191.2L431.2,179.9M365.3,229.9L404.2,191.3M399.2,189.2L428.5,183.1M394.1,181.2L424.1,182.7M431.1,180.1L407.5,187.0M408.0,187.2L398.9,188.5M321.8,169.8L437.0,172.0M406.3,211.9L372.2,184.6M431.2,180.3L325.9,211.2M423.8,238.7L416.9,223.1M423.7,182.7L431.5,180.3M415.5,183.9L428.5,183.5M408.2,187.0L300.8,187.5M325.8,210.5L416.5,204.7M394.3,181.3L408.0,187.2M417.8,230.0L376.4,193.1M389.2,194.0L407.8,187.2M415.4,184.2L418.5,229.2M403.7,191.5L321.1,170.3M423.6,182.5L308.7,204.4M437.0,171.5L423.2,239.3M428.8,183.1L401.2,195.0M370.2,217.0L407.5,187.7M399.1,189.4L404.1,191.1M428.1,183.6L415.5,183.8M308.6,204.3L428.8,182.8M389.3,194.7L407.2,187.5M407.3,187.5L403.6,191.4M300.7,186.6L406.8,178.4M424.2,182.7L374.0,228.7M428.4,183.4L424.5,188.7M376.7,192.9L369.9,216.7M388.6,194.3L423.8,183.1M388.5,194.7L301.2,187.6M399.8,189.5L400.4,194.6M309.6,151.3L376.8,193.4M423.4,238.3L415.2,184.2M376.5,192.8L406.5,211.6M308.9,204.5L424.3,183.1M370.5,217.7L301.5,187.3M301.4,186.9L430.8,179.2M431.5,180.0L301.2,187.3M407.8,186.6L423.8,183.0M417.7,229.8L428.0,183.3M399.5,189.1L370.4,216.8M398.9,188.7L374.6,228.7M322.0,169.5L399.6,189.1M416.5,204.8L428.6,182.7M416.3,174.7L364.5,229.5M349.0,189.7L424.4,188.1M406.9,211.8L416.0,223.5M424.8,188.0L430.6,179.2M406.9,177.6L428.8,183.4M418.6,230.0L406.3,211.7M404.1,191.6L406.6,211.8" stroke="#a45555" stroke-width="0.45" stroke-opacity="0.7" fill="none" stroke-linecap="round"/>
<circle cx="403.6" cy="191.4" r="0.75" fill="#6cb33f"/><circle cx="321.1" cy="170.3" r="0.75" fill="#6cb33f"/><circle cx="406.8" cy="178.4" r="0.75" fill="#6cb33f"/><circle cx="431.2" cy="179.9" r="0.75" fill="#6cb33f"/><circle cx="374.0" cy="228.7" r="0.75" fill="#6cb33f"/><circle cx="404.1" cy="191.1" r="0.75" fill="#6cb33f"/><circle cx="424.1" cy="182.7" r="0.75" fill="#6cb33f"/><circle cx="372.9" cy="184.6" r="0.75" fill="#6cb33f"/><circle cx="415.5" cy="183.8" r="0.75" fill="#6cb33f"/><circle cx="398.9" cy="188.5" r="0.75" fill="#6cb33f"/><circle cx="416.0" cy="223.5" r="0.75" fill="#6cb33f"/><circle cx="407.5" cy="187.0" r="0.75" fill="#6cb33f"/><circle cx="424.4" cy="188.1" r="0.75" fill="#6cb33f"/><circle cx="370.4" cy="216.8" r="0.75" fill="#6cb33f"/><circle cx="400.4" cy="194.6" r="0.75" fill="#6cb33f"/><circle cx="431.5" cy="180.3" r="0.75" fill="#6cb33f"/><circle cx="364.5" cy="229.5" r="0.75" fill="#6cb33f"/><circle cx="430.8" cy="179.2" r="0.75" fill="#6cb33f"/><circle cx="325.9" cy="211.2" r="0.75" fill="#6cb33f"/><circle cx="399.6" cy="189.1" r="0.75" fill="#6cb33f"/><circle cx="416.5" cy="204.7" r="0.75" fill="#6cb33f"/><circle cx="416.9" cy="223.1" r="0.75" fill="#6cb33f"/><circle cx="428.0" cy="183.3" r="0.75" fill="#6cb33f"/><circle cx="372.2" cy="184.6" r="0.75" fill="#6cb33f"/><circle cx="428.1" cy="183.1" r="0.75" fill="#6cb33f"/><circle cx="424.5" cy="188.7" r="0.75" fill="#6cb33f"/><circle cx="430.6" cy="179.2" r="0.75" fill="#6cb33f"/><circle cx="374.6" cy="228.7" r="0.75" fill="#6cb33f"/><circle cx="300.8" cy="187.5" r="0.75" fill="#6cb33f"/>
<circle cx="398.9" cy="188.7" r="0.85" fill="#b8262c"/><circle cx="349.0" cy="189.7" r="0.85" fill="#b8262c"/><circle cx="437.0" cy="171.5" r="0.85" fill="#b8262c"/><circle cx="370.2" cy="217.0" r="0.85" fill="#b8262c"/><circle cx="300.7" cy="186.6" r="0.85" fill="#b8262c"/><circle cx="407.8" cy="186.6" r="0.85" fill="#b8262c"/><circle cx="399.2" cy="189.2" r="0.85" fill="#b8262c"/><circle cx="417.7" cy="229.8" r="0.85" fill="#b8262c"/><circle cx="417.8" cy="230.0" r="0.85" fill="#b8262c"/><circle cx="406.9" cy="177.6" r="0.85" fill="#b8262c"/><circle cx="309.6" cy="151.3" r="0.85" fill="#b8262c"/><circle cx="388.6" cy="194.3" r="0.85" fill="#b8262c"/><circle cx="301.4" cy="186.9" r="0.85" fill="#b8262c"/><circle cx="415.4" cy="184.2" r="0.85" fill="#b8262c"/><circle cx="406.9" cy="211.8" r="0.85" fill="#b8262c"/><circle cx="417.2" cy="173.8" r="0.85" fill="#b8262c"/><circle cx="423.7" cy="182.7" r="0.85" fill="#b8262c"/><circle cx="404.4" cy="191.2" r="0.85" fill="#b8262c"/><circle cx="428.1" cy="183.6" r="0.85" fill="#b8262c"/><circle cx="308.9" cy="204.5" r="0.85" fill="#b8262c"/><circle cx="376.7" cy="192.9" r="0.85" fill="#b8262c"/><circle cx="431.5" cy="180.0" r="0.85" fill="#b8262c"/><circle cx="394.3" cy="181.3" r="0.85" fill="#b8262c"/><circle cx="388.5" cy="194.7" r="0.85" fill="#b8262c"/><circle cx="321.8" cy="169.8" r="0.85" fill="#b8262c"/><circle cx="431.2" cy="179.7" r="0.85" fill="#b8262c"/><circle cx="424.2" cy="182.7" r="0.85" fill="#b8262c"/><circle cx="406.3" cy="211.9" r="0.85" fill="#b8262c"/><circle cx="431.2" cy="180.3" r="0.85" fill="#b8262c"/>
<path d="M205.7,346.3L219.6,295.7M159.8,330.1L215.4,301.1M91.5,297.5L215.7,301.6M109.1,282.0L219.1,295.9M198.2,299.8L136.7,302.3M90.6,297.8L164.6,341.7M219.0,295.3L222.3,292.5M119.2,295.6L198.0,300.2M160.0,330.5L205.6,297.0M88.7,299.1L154.4,343.2M159.2,331.1L227.4,283.3M221.9,292.2L196.7,290.7M96.6,317.3L198.0,300.2M88.7,299.2L206.3,296.7M96.9,316.9L198.4,300.0M96.8,316.9L214.6,352.9M91.0,297.0L194.0,303.8M88.5,299.5L166.4,306.0M214.8,296.1L131.4,319.7M88.7,300.3L154.5,343.8M88.0,299.3L161.6,297.5M196.5,324.9L165.7,306.1M159.4,330.2L220.5,284.1M213.9,295.5L178.0,307.9M94.4,305.9L222.0,292.5M89.1,299.4L213.9,352.9M198.4,299.8L220.7,284.7M159.3,330.5L194.2,303.5M88.7,299.9L96.1,317.4M88.2,299.9L189.7,301.7M189.3,301.2L219.2,295.4M91.3,297.3L206.8,317.1M198.4,299.8L159.9,330.7M189.0,301.6L166.7,306.0M221.3,292.2L214.1,352.9M94.5,305.8L189.0,301.6M214.0,295.1L118.9,294.8M91.6,298.1L184.9,294.1M89.0,299.1L206.0,297.2M91.4,297.8L227.5,284.1M88.4,299.3L189.3,301.5M184.8,294.3L88.3,299.9M189.2,302.1L88.4,300.2M160.3,330.9L219.3,296.2M137.6,302.5L97.6,263.3M88.2,299.9L206.1,345.6M222.4,292.2L205.6,297.0M94.9,270.3L205.1,346.0M88.7,300.0L159.3,330.4M89.2,300.0L196.1,291.2M96.7,317.1L137.0,302.0M218.8,296.2L194.4,303.8M88.1,300.1L109.3,282.7M184.2,294.0L215.1,300.9M96.3,317.1L113.7,323.4M94.9,270.4L153.8,343.1M219.4,295.4L214.7,296.1M93.7,306.3L178.3,307.2M197.9,299.9L131.0,319.6M88.2,299.6L219.0,295.3M96.7,317.8L228.3,283.8M189.0,301.6L184.1,294.5M159.5,330.4L137.3,302.6M96.1,317.4L163.9,341.9M222.4,292.7L188.8,316.4M88.3,299.8L205.7,296.6M88.8,299.6L119.1,295.8M214.8,295.7L198.3,299.3M213.9,295.6L214.9,301.3M160.2,330.9L88.4,299.7M222.0,292.3L118.8,295.3M94.7,306.4L96.2,317.1M214.8,296.0L220.8,284.9M221.7,292.4L193.9,304.0M94.1,306.4L194.1,303.6M189.5,302.1L205.1,345.7M119.3,295.5L162.5,296.7M88.9,299.5L113.8,324.3" stroke="#b7b44c" stroke-width="0.5" stroke-opacity="0.62" fill="none" stroke-linecap="round"/>
<circle cx="184.1" cy="294.5" r="0.75" fill="#7ab534"/><circle cx="118.9" cy="294.8" r="0.75" fill="#7ab534"/><circle cx="206.8" cy="317.1" r="0.75" fill="#7ab534"/><circle cx="178.0" cy="307.9" r="0.75" fill="#7ab534"/><circle cx="198.0" cy="300.2" r="0.75" fill="#7ab534"/><circle cx="205.1" cy="345.7" r="0.75" fill="#7ab534"/><circle cx="137.0" cy="302.0" r="0.75" fill="#7ab534"/><circle cx="198.4" cy="300.0" r="0.75" fill="#7ab534"/><circle cx="109.3" cy="282.7" r="0.75" fill="#7ab534"/><circle cx="205.7" cy="296.6" r="0.75" fill="#7ab534"/><circle cx="205.6" cy="297.0" r="0.75" fill="#7ab534"/><circle cx="193.9" cy="304.0" r="0.75" fill="#7ab534"/><circle cx="131.4" cy="319.7" r="0.75" fill="#7ab534"/><circle cx="206.3" cy="296.7" r="0.75" fill="#7ab534"/><circle cx="219.3" cy="296.2" r="0.75" fill="#7ab534"/><circle cx="189.3" cy="301.5" r="0.75" fill="#7ab534"/><circle cx="205.6" cy="297.0" r="0.75" fill="#7ab534"/><circle cx="214.9" cy="301.3" r="0.75" fill="#7ab534"/><circle cx="194.1" cy="303.6" r="0.75" fill="#7ab534"/><circle cx="206.0" cy="297.2" r="0.75" fill="#7ab534"/><circle cx="113.8" cy="324.3" r="0.75" fill="#7ab534"/><circle cx="227.5" cy="284.1" r="0.75" fill="#7ab534"/><circle cx="165.7" cy="306.1" r="0.75" fill="#7ab534"/><circle cx="222.3" cy="292.5" r="0.75" fill="#7ab534"/><circle cx="137.3" cy="302.6" r="0.75" fill="#7ab534"/><circle cx="184.9" cy="294.1" r="0.75" fill="#7ab534"/><circle cx="154.4" cy="343.2" r="0.75" fill="#7ab534"/><circle cx="219.0" cy="295.3" r="0.75" fill="#7ab534"/><circle cx="88.3" cy="299.9" r="0.75" fill="#7ab534"/><circle cx="205.1" cy="346.0" r="0.75" fill="#7ab534"/><circle cx="163.9" cy="341.9" r="0.75" fill="#7ab534"/><circle cx="219.1" cy="295.9" r="0.75" fill="#7ab534"/><circle cx="194.0" cy="303.8" r="0.75" fill="#7ab534"/><circle cx="189.0" cy="301.6" r="0.75" fill="#7ab534"/><circle cx="131.0" cy="319.6" r="0.75" fill="#7ab534"/><circle cx="88.4" cy="300.2" r="0.75" fill="#7ab534"/><circle cx="97.6" cy="263.3" r="0.75" fill="#7ab534"/><circle cx="215.4" cy="301.1" r="0.75" fill="#7ab534"/><circle cx="194.4" cy="303.8" r="0.75" fill="#7ab534"/>
<circle cx="222.4" cy="292.7" r="0.8" fill="#a8a232"/><circle cx="214.8" cy="296.1" r="0.8" fill="#a8a232"/><circle cx="91.4" cy="297.8" r="0.8" fill="#a8a232"/><circle cx="88.5" cy="299.5" r="0.8" fill="#a8a232"/><circle cx="89.0" cy="299.1" r="0.8" fill="#a8a232"/><circle cx="221.3" cy="292.2" r="0.8" fill="#a8a232"/><circle cx="96.6" cy="317.3" r="0.8" fill="#a8a232"/><circle cx="214.8" cy="295.7" r="0.8" fill="#a8a232"/><circle cx="94.1" cy="306.4" r="0.8" fill="#a8a232"/><circle cx="159.2" cy="331.1" r="0.8" fill="#a8a232"/><circle cx="88.7" cy="299.1" r="0.8" fill="#a8a232"/><circle cx="96.1" cy="317.4" r="0.8" fill="#a8a232"/><circle cx="91.5" cy="297.5" r="0.8" fill="#a8a232"/><circle cx="160.2" cy="330.9" r="0.8" fill="#a8a232"/><circle cx="119.3" cy="295.5" r="0.8" fill="#a8a232"/><circle cx="88.9" cy="299.5" r="0.8" fill="#a8a232"/><circle cx="218.8" cy="296.2" r="0.8" fill="#a8a232"/><circle cx="94.7" cy="306.4" r="0.8" fill="#a8a232"/><circle cx="205.7" cy="346.3" r="0.8" fill="#a8a232"/><circle cx="221.9" cy="292.2" r="0.8" fill="#a8a232"/><circle cx="109.1" cy="282.0" r="0.8" fill="#a8a232"/><circle cx="94.4" cy="305.9" r="0.8" fill="#a8a232"/><circle cx="88.2" cy="299.9" r="0.8" fill="#a8a232"/><circle cx="89.1" cy="299.4" r="0.8" fill="#a8a232"/><circle cx="96.9" cy="316.9" r="0.8" fill="#a8a232"/><circle cx="88.4" cy="299.3" r="0.8" fill="#a8a232"/><circle cx="119.2" cy="295.6" r="0.8" fill="#a8a232"/><circle cx="198.4" cy="299.8" r="0.8" fill="#a8a232"/><circle cx="222.4" cy="292.2" r="0.8" fill="#a8a232"/><circle cx="91.0" cy="297.0" r="0.8" fill="#a8a232"/><circle cx="189.0" cy="301.6" r="0.8" fill="#a8a232"/><circle cx="219.0" cy="295.3" r="0.8" fill="#a8a232"/><circle cx="221.7" cy="292.4" r="0.8" fill="#a8a232"/><circle cx="160.0" cy="330.5" r="0.8" fill="#a8a232"/><circle cx="89.2" cy="300.0" r="0.8" fill="#a8a232"/><circle cx="88.2" cy="299.9" r="0.8" fill="#a8a232"/><circle cx="198.2" cy="299.8" r="0.8" fill="#a8a232"/><circle cx="90.6" cy="297.8" r="0.8" fill="#a8a232"/><circle cx="96.7" cy="317.8" r="0.8" fill="#a8a232"/>
<path d="M362.8,335.9L400.8,286.8M362.8,335.9L374.0,343.3M394.8,295.4L419.0,295.4M415.6,288.0L423.3,286.8M419.0,288.0L424.2,301.0M408.6,330.0L421.6,351.1M307.3,310.4L308.5,318.0" stroke="#b5ae5a" stroke-width="0.5" stroke-opacity="0.8" fill="none" stroke-linecap="round"/>
<circle cx="362.8" cy="335.9" r="0.8" fill="#9a9a3a"/><circle cx="368.8" cy="331.2" r="0.8" fill="#9a9a3a"/><circle cx="400.8" cy="286.8" r="0.8" fill="#9a9a3a"/><circle cx="374.0" cy="343.3" r="0.8" fill="#9a9a3a"/><circle cx="394.8" cy="295.4" r="0.8" fill="#9a9a3a"/><circle cx="419.0" cy="295.4" r="0.8" fill="#9a9a3a"/><circle cx="415.6" cy="288.0" r="0.8" fill="#9a9a3a"/><circle cx="423.3" cy="286.8" r="0.8" fill="#9a9a3a"/><circle cx="424.2" cy="301.0" r="0.8" fill="#9a9a3a"/><circle cx="408.6" cy="330.0" r="0.8" fill="#9a9a3a"/><circle cx="413.0" cy="340.0" r="0.8" fill="#9a9a3a"/><circle cx="417.0" cy="345.0" r="0.8" fill="#9a9a3a"/><circle cx="421.6" cy="351.1" r="0.8" fill="#9a9a3a"/><circle cx="307.3" cy="310.4" r="0.8" fill="#9a9a3a"/><circle cx="308.5" cy="318.0" r="0.8" fill="#9a9a3a"/><circle cx="330.4" cy="299.6" r="0.8" fill="#9a9a3a"/><circle cx="330.4" cy="302.5" r="0.8" fill="#9a9a3a"/>
<path d="M95.8,419.2L189.0,413.5M95.8,419.2L197.7,411.6M95.8,419.2L194.0,415.6M95.8,419.2L205.5,408.7M95.8,419.2L213.9,407.5M95.8,419.2L218.7,407.6M95.8,419.2L221.3,404.2M95.8,419.2L196.6,436.1M95.8,419.2L206.4,429.0M95.8,419.2L205.2,457.2M95.8,419.2L206.5,448.1M95.8,419.2L159.8,442.0M95.8,419.2L164.1,453.6M95.8,419.2L188.7,427.5M95.8,419.2L178.4,419.1M95.8,419.2L166.1,417.6M95.8,419.2L137.5,414.1M95.8,419.2L184.3,405.8M95.8,419.2L196.2,402.6M95.8,419.2L212.3,425.5M95.8,419.2L189.6,437.9M95.8,419.2L179.7,432.5M95.8,419.2L190.7,419.3M95.8,419.2L154.3,455.0M95.8,419.2L157.8,431.6M114.2,394.2L184.3,405.8M114.2,394.2L189.0,413.5M114.2,394.2L197.7,411.6M114.2,394.2L196.2,402.6M114.2,394.2L205.5,408.7M114.2,394.2L221.3,404.2M114.2,394.2L218.7,407.6M114.2,394.2L169.1,394.8M114.2,394.2L166.1,417.6M114.2,394.2L178.4,419.1M114.2,394.2L200.4,405.3M114.2,394.2L206.9,398.7M213.5,407.9L213.4,464.0M211.0,437.9L196.7,436.3M191.3,419.2L184.9,406.2M189.0,413.9L213.5,407.6M197.1,436.4L96.6,429.4M206.4,429.5L220.8,397.1M191.3,419.3L220.7,404.1M207.0,428.5L219.2,407.6M221.2,403.7L184.6,406.0M99.0,376.1L227.8,395.9M227.7,396.2L209.9,437.6M197.8,411.7L191.2,419.0M165.7,418.2L190.2,419.3M207.1,448.2L191.2,419.1M208.6,454.7L194.3,415.1M204.6,457.4L162.4,409.4M189.2,427.3L213.9,464.1M165.5,418.0L208.1,455.1M95.5,383.4L114.2,435.2M191.0,419.4L159.7,442.3M183.7,405.4L178.8,418.7M206.7,428.8L188.5,413.2M209.9,438.2L118.9,407.2M206.0,448.5L96.7,429.3M209.9,437.9L190.7,419.6M97.1,429.2L198.2,411.7M178.0,419.5L114.4,435.5M221.2,403.8L207.0,448.5M205.8,456.7L197.7,411.7M215.6,411.1L160.4,442.4M184.8,405.8L98.7,434.0M162.6,408.8L218.3,407.2M227.3,396.1L197.7,411.0M188.8,413.0L227.3,396.1M195.9,402.6L194.3,415.1M119.4,407.1L163.5,453.6M205.9,428.6L159.2,442.0M197.6,411.4L206.1,448.6M208.5,455.1L197.7,412.1M219.6,396.6L164.1,453.2M214.0,464.2L160.1,441.8M178.7,418.6L213.3,464.2M166.4,418.0L218.9,407.5M198.0,412.1L218.3,407.0M183.9,406.3L207.6,441.4M95.2,382.9L159.7,442.2M183.7,405.5L165.7,417.2M137.0,414.1L214.1,412.5M194.4,416.0L163.8,453.4M218.3,407.9L159.8,442.1M214.4,413.1L210.2,437.1M215.2,411.3L221.7,404.0M165.5,417.7L196.2,435.8M206.1,428.6L189.7,437.6M188.4,428.0L160.3,441.5M214.0,464.5L196.2,402.4M219.1,408.0L212.9,425.5M137.1,414.3L184.1,405.9M188.1,427.8L214.2,407.8M180.0,432.6L196.7,436.5M194.0,416.0L219.2,408.0M218.4,407.2L195.9,402.2M227.9,395.9L206.8,448.6M188.6,427.5L218.3,407.6M113.7,434.9L184.1,405.4M204.9,457.0L162.3,408.7" stroke="#5290b0" stroke-width="0.5" stroke-opacity="0.62" fill="none" stroke-linecap="round"/>
<path d="M95.8,419.2L189.0,413.5M95.8,419.2L197.7,411.6M95.8,419.2L218.7,407.6M95.8,419.2L196.6,436.1M114.2,394.2L184.3,405.8M114.2,394.2L197.7,411.6" stroke="#3f82a8" stroke-width="0.75" stroke-opacity="0.6" fill="none" stroke-linecap="round"/>
<circle cx="189.0" cy="413.5" r="0.75" fill="#6cb33f"/><circle cx="194.0" cy="415.6" r="0.75" fill="#6cb33f"/><circle cx="218.7" cy="407.6" r="0.75" fill="#6cb33f"/><circle cx="205.5" cy="408.7" r="0.75" fill="#6cb33f"/><circle cx="184.3" cy="405.8" r="0.75" fill="#6cb33f"/><circle cx="206.4" cy="429.0" r="0.75" fill="#6cb33f"/><circle cx="208.4" cy="454.8" r="0.75" fill="#6cb33f"/><circle cx="206.5" cy="448.1" r="0.75" fill="#6cb33f"/><circle cx="190.7" cy="419.3" r="0.75" fill="#6cb33f"/><circle cx="179.7" cy="432.5" r="0.75" fill="#6cb33f"/><circle cx="159.8" cy="442.0" r="0.75" fill="#6cb33f"/><circle cx="166.1" cy="417.6" r="0.75" fill="#6cb33f"/><circle cx="119.4" cy="407.3" r="0.75" fill="#6cb33f"/><circle cx="97.0" cy="429.1" r="0.75" fill="#6cb33f"/><circle cx="227.3" cy="395.8" r="0.75" fill="#6cb33f"/><circle cx="215.4" cy="411.1" r="0.75" fill="#6cb33f"/><circle cx="214.6" cy="418.4" r="0.75" fill="#6cb33f"/><circle cx="210.5" cy="437.7" r="0.75" fill="#6cb33f"/><circle cx="169.1" cy="394.8" r="0.75" fill="#6cb33f"/><circle cx="98.6" cy="375.5" r="0.75" fill="#6cb33f"/><circle cx="114.4" cy="435.5" r="0.75" fill="#6cb33f"/><circle cx="197.7" cy="412.1" r="0.75" fill="#6cb33f"/><circle cx="218.3" cy="407.6" r="0.75" fill="#6cb33f"/><circle cx="165.7" cy="417.2" r="0.75" fill="#6cb33f"/><circle cx="159.8" cy="442.1" r="0.75" fill="#6cb33f"/><circle cx="220.7" cy="404.1" r="0.75" fill="#6cb33f"/><circle cx="197.7" cy="411.0" r="0.75" fill="#6cb33f"/><circle cx="188.5" cy="413.2" r="0.75" fill="#6cb33f"/><circle cx="206.8" cy="448.6" r="0.75" fill="#6cb33f"/><circle cx="162.3" cy="408.7" r="0.75" fill="#6cb33f"/><circle cx="160.3" cy="441.5" r="0.75" fill="#6cb33f"/><circle cx="210.2" cy="437.1" r="0.75" fill="#6cb33f"/><circle cx="198.2" cy="411.7" r="0.75" fill="#6cb33f"/><circle cx="196.2" cy="402.4" r="0.75" fill="#6cb33f"/><circle cx="190.7" cy="419.6" r="0.75" fill="#6cb33f"/><circle cx="207.6" cy="441.4" r="0.75" fill="#6cb33f"/><circle cx="159.2" cy="442.0" r="0.75" fill="#6cb33f"/><circle cx="98.7" cy="434.0" r="0.75" fill="#6cb33f"/><circle cx="164.1" cy="453.2" r="0.75" fill="#6cb33f"/><circle cx="208.1" cy="455.1" r="0.75" fill="#6cb33f"/><circle cx="207.0" cy="448.5" r="0.75" fill="#6cb33f"/><circle cx="196.7" cy="436.5" r="0.75" fill="#6cb33f"/>
<circle cx="95.8" cy="419.2" r="0.85" fill="#3f7fa4"/><circle cx="114.2" cy="394.2" r="0.85" fill="#3f7fa4"/><circle cx="205.8" cy="456.7" r="0.85" fill="#3f7fa4"/><circle cx="206.1" cy="428.6" r="0.85" fill="#3f7fa4"/><circle cx="165.5" cy="418.0" r="0.85" fill="#3f7fa4"/><circle cx="162.6" cy="408.8" r="0.85" fill="#3f7fa4"/><circle cx="227.3" cy="396.1" r="0.85" fill="#3f7fa4"/><circle cx="95.2" cy="382.9" r="0.85" fill="#3f7fa4"/><circle cx="119.4" cy="407.1" r="0.85" fill="#3f7fa4"/><circle cx="165.5" cy="417.7" r="0.85" fill="#3f7fa4"/><circle cx="195.9" cy="402.6" r="0.85" fill="#3f7fa4"/><circle cx="208.6" cy="454.7" r="0.85" fill="#3f7fa4"/><circle cx="214.4" cy="413.1" r="0.85" fill="#3f7fa4"/><circle cx="189.2" cy="427.3" r="0.85" fill="#3f7fa4"/><circle cx="227.7" cy="396.2" r="0.85" fill="#3f7fa4"/><circle cx="208.5" cy="455.1" r="0.85" fill="#3f7fa4"/><circle cx="183.9" cy="406.3" r="0.85" fill="#3f7fa4"/><circle cx="204.6" cy="457.4" r="0.85" fill="#3f7fa4"/><circle cx="214.0" cy="464.5" r="0.85" fill="#3f7fa4"/>
<path d="M315.0,380.4L424.2,408.1M315.0,380.4L315.0,434.2M331.9,381.9L396.5,411.2M308.8,429.6L424.2,408.1M308.8,429.6L378.1,426.5M328.8,411.2L424.2,405.0M308.8,418.8L347.3,418.8M313.5,414.2L331.9,409.6M347.3,418.8L378.1,426.5M362.7,446.5L375.0,438.8M425.8,401.9L421.2,465.0M418.1,398.8L411.9,457.3M399.6,431.2L421.2,465.0M401.2,398.8L424.2,403.5M328.8,434.2L405.8,409.6M313.5,435.8L424.2,411.2M396.5,414.2L421.2,411.2M405.8,420.4L424.2,418.8M425.8,389.6L435.0,383.5M424.2,408.1L427.3,397.3M308.8,429.6L418.1,457.3M325.8,435.8L411.9,454.2M424.2,414.2L418.1,454.2M427.3,405.0L415.0,448.1M387.3,411.2L425.8,406.5M308.8,423.5L396.5,415.8M419.6,411.2L422.7,429.6M401.2,431.2L415.0,457.3" stroke="#8d6cb8" stroke-width="0.55" stroke-opacity="0.75" fill="none" stroke-linecap="round"/>
<circle cx="331.9" cy="381.9" r="0.75" fill="#6cb33f"/><circle cx="378.1" cy="426.5" r="0.75" fill="#6cb33f"/><circle cx="308.8" cy="418.8" r="0.75" fill="#6cb33f"/><circle cx="362.7" cy="446.5" r="0.75" fill="#6cb33f"/><circle cx="425.8" cy="401.9" r="0.75" fill="#6cb33f"/><circle cx="418.1" cy="398.8" r="0.75" fill="#6cb33f"/><circle cx="399.6" cy="431.2" r="0.75" fill="#6cb33f"/><circle cx="424.2" cy="403.5" r="0.75" fill="#6cb33f"/><circle cx="396.5" cy="414.2" r="0.75" fill="#6cb33f"/><circle cx="435.0" cy="383.5" r="0.75" fill="#6cb33f"/><circle cx="424.2" cy="408.1" r="0.75" fill="#6cb33f"/><circle cx="422.7" cy="429.6" r="0.75" fill="#6cb33f"/><circle cx="325.8" cy="435.8" r="0.75" fill="#6cb33f"/>
<circle cx="315.0" cy="380.4" r="0.85" fill="#6b3fa0"/><circle cx="308.8" cy="429.6" r="0.85" fill="#6b3fa0"/><circle cx="328.8" cy="411.2" r="0.85" fill="#6b3fa0"/><circle cx="347.3" cy="418.8" r="0.85" fill="#6b3fa0"/><circle cx="375.0" cy="438.8" r="0.85" fill="#6b3fa0"/><circle cx="421.2" cy="465.0" r="0.85" fill="#6b3fa0"/><circle cx="411.9" cy="457.3" r="0.85" fill="#6b3fa0"/><circle cx="401.2" cy="398.8" r="0.85" fill="#6b3fa0"/><circle cx="405.8" cy="409.6" r="0.85" fill="#6b3fa0"/><circle cx="424.2" cy="418.8" r="0.85" fill="#6b3fa0"/><circle cx="427.3" cy="397.3" r="0.85" fill="#6b3fa0"/><circle cx="419.6" cy="411.2" r="0.85" fill="#6b3fa0"/><circle cx="415.0" cy="457.3" r="0.85" fill="#6b3fa0"/><circle cx="313.5" cy="414.2" r="0.85" fill="#6b3fa0"/>
<text x="38.2" y="506.9" font-size="5.3" text-anchor="middle" font-weight="normal" fill="#222" >Nationwide</text>
<text x="77.0" y="506.9" font-size="5.3" text-anchor="middle" font-weight="normal" fill="#222" >32</text>
<text x="103.8" y="506.9" font-size="5.3" text-anchor="middle" font-weight="normal" fill="#222" >6</text>
<text x="130.6" y="506.9" font-size="5.3" text-anchor="middle" font-weight="normal" fill="#222" >22</text>
<text x="157.5" y="506.9" font-size="5.3" text-anchor="middle" font-weight="normal" fill="#222" >8</text>
<text x="184.3" y="506.9" font-size="5.3" text-anchor="middle" font-weight="normal" fill="#222" >6</text>
<text x="211.1" y="506.9" font-size="5.3" text-anchor="middle" font-weight="normal" fill="#222" >40</text>
<text x="238.0" y="506.9" font-size="5.3" text-anchor="middle" font-weight="normal" fill="#222" >19</text>
<text x="38.2" y="519.9" font-size="5.3" text-anchor="middle" font-weight="normal" fill="#222" >Non−nationwide</text>
<text x="77.0" y="519.9" font-size="5.3" text-anchor="middle" font-weight="normal" fill="#222" >233</text>
<text x="103.8" y="519.9" font-size="5.3" text-anchor="middle" font-weight="normal" fill="#222" >284</text>
<text x="130.6" y="519.9" font-size="5.3" text-anchor="middle" font-weight="normal" fill="#222" >740</text>
<text x="157.5" y="519.9" font-size="5.3" text-anchor="middle" font-weight="normal" fill="#222" >962</text>
<text x="184.3" y="519.9" font-size="5.3" text-anchor="middle" font-weight="normal" fill="#222" >114</text>
<text x="211.1" y="519.9" font-size="5.3" text-anchor="middle" font-weight="normal" fill="#222" >1876</text>
<text x="238.0" y="519.9" font-size="5.3" text-anchor="middle" font-weight="normal" fill="#222" >365</text>
<text x="38.2" y="528.9" font-size="5.3" text-anchor="middle" font-weight="normal" fill="#222" >Median</text>
<text x="77.0" y="528.9" font-size="5.3" text-anchor="middle" font-weight="normal" fill="#222" >2</text>
<text x="103.8" y="528.9" font-size="5.3" text-anchor="middle" font-weight="normal" fill="#222" >1</text>
<text x="130.6" y="528.9" font-size="5.3" text-anchor="middle" font-weight="normal" fill="#222" >1</text>
<text x="157.5" y="528.9" font-size="5.3" text-anchor="middle" font-weight="normal" fill="#222" >1</text>
<text x="184.3" y="528.9" font-size="5.3" text-anchor="middle" font-weight="normal" fill="#222" >1</text>
<text x="211.1" y="528.9" font-size="5.3" text-anchor="middle" font-weight="normal" fill="#222" >1</text>
<text x="238.0" y="528.9" font-size="5.3" text-anchor="middle" font-weight="normal" fill="#222" >1</text>
<text x="38.2" y="537.9" font-size="5.3" text-anchor="middle" font-weight="normal" fill="#222" >IQR</text>
<text x="77.0" y="537.9" font-size="5.3" text-anchor="middle" font-weight="normal" fill="#222" >1 - 6</text>
<text x="103.8" y="537.9" font-size="5.3" text-anchor="middle" font-weight="normal" fill="#222" >1 - 3</text>
<text x="130.6" y="537.9" font-size="5.3" text-anchor="middle" font-weight="normal" fill="#222" >1 - 3</text>
<text x="157.5" y="537.9" font-size="5.3" text-anchor="middle" font-weight="normal" fill="#222" >1 - 1</text>
<text x="184.3" y="537.9" font-size="5.3" text-anchor="middle" font-weight="normal" fill="#222" >1 - 3</text>
<text x="211.1" y="537.9" font-size="5.3" text-anchor="middle" font-weight="normal" fill="#222" >1 - 3</text>
<text x="238.0" y="537.9" font-size="5.3" text-anchor="middle" font-weight="normal" fill="#222" >1 - 3</text>
<line x1="27.8" y1="511.2" x2="252.0" y2="511.2" stroke="#222" stroke-width="0.9"/>
<rect x="63.55" y="545.3" width="187.85" height="114.30" fill="none" stroke="#111" stroke-width="1"/>
<path d="M63.55,545.3V542.3M63.55,659.6V662.6M90.39,545.3V542.3M90.39,659.6V662.6M117.22,545.3V542.3M117.22,659.6V662.6M144.06,545.3V542.3M144.06,659.6V662.6M170.89,545.3V542.3M170.89,659.6V662.6M197.73,545.3V542.3M197.73,659.6V662.6M224.56,545.3V542.3M224.56,659.6V662.6M251.40,545.3V542.3M251.40,659.6V662.6M63.55,659.60H60.55M63.55,654.13H62.05M63.55,648.66H60.55M63.55,643.19H62.05M63.55,637.72H60.55M63.55,632.25H62.05M63.55,626.78H60.55M63.55,621.31H62.05M63.55,615.84H60.55M63.55,610.37H62.05M63.55,604.90H60.55M63.55,599.43H62.05M63.55,593.96H60.55M63.55,588.49H62.05M63.55,583.02H60.55M63.55,577.55H62.05M63.55,572.08H60.55M63.55,566.61H62.05M63.55,561.14H60.55M63.55,555.67H62.05M63.55,550.20H60.55" stroke="#111" stroke-width="0.8" fill="none"/>
<text x="58.8" y="661.7" font-size="6.1" text-anchor="end" font-weight="normal" fill="#222" >0</text>
<text x="58.8" y="650.76" font-size="6.1" text-anchor="end" font-weight="normal" fill="#222" >2</text>
<text x="58.8" y="639.82" font-size="6.1" text-anchor="end" font-weight="normal" fill="#222" >4</text>
<text x="58.8" y="628.88" font-size="6.1" text-anchor="end" font-weight="normal" fill="#222" >6</text>
<text x="58.8" y="617.94" font-size="6.1" text-anchor="end" font-weight="normal" fill="#222" >8</text>
<text x="58.8" y="607.0" font-size="6.1" text-anchor="end" font-weight="normal" fill="#222" >10</text>
<text x="58.8" y="596.06" font-size="6.1" text-anchor="end" font-weight="normal" fill="#222" >12</text>
<text x="58.8" y="585.12" font-size="6.1" text-anchor="end" font-weight="normal" fill="#222" >14</text>
<text x="58.8" y="574.18" font-size="6.1" text-anchor="end" font-weight="normal" fill="#222" >16</text>
<text x="58.8" y="563.24" font-size="6.1" text-anchor="end" font-weight="normal" fill="#222" >18</text>
<text x="58.8" y="552.3" font-size="6.1" text-anchor="end" font-weight="normal" fill="#222" >20</text>
<text transform="translate(43.6,600.2) rotate(-90)" font-size="7.2" text-anchor="middle" fill="#111" textLength="98" lengthAdjust="spacingAndGlyphs">Number of destination per recall event</text>
<path d="M76.97,626.78V654.13M74.37,626.78h5.2" stroke="#222" stroke-width="0.9" fill="none"/><rect x="73.72" y="644.01" width="6.5" height="10.12" fill="#a5072c"/><line x1="73.72" y1="648.66" x2="80.22" y2="648.66" stroke="#111" stroke-width="1.1"/><circle cx="76.97" cy="550.20" r="0.85" fill="#1d2b52"/><circle cx="76.97" cy="593.96" r="0.85" fill="#1d2b52"/><circle cx="76.97" cy="610.37" r="0.85" fill="#1d2b52"/><circle cx="76.97" cy="615.84" r="0.85" fill="#1d2b52"/><circle cx="76.97" cy="621.31" r="0.85" fill="#1d2b52"/>
<path d="M103.80,643.19V654.13M101.20,643.19h5.2" stroke="#222" stroke-width="0.9" fill="none"/><rect x="100.55" y="648.93" width="6.5" height="5.20" fill="#a5072c"/><line x1="100.55" y1="654.13" x2="107.05" y2="654.13" stroke="#111" stroke-width="1.1"/><circle cx="103.80" cy="550.20" r="0.85" fill="#1d2b52"/><circle cx="103.80" cy="577.55" r="0.85" fill="#1d2b52"/><circle cx="103.80" cy="593.96" r="0.85" fill="#1d2b52"/><circle cx="103.80" cy="604.90" r="0.85" fill="#1d2b52"/><circle cx="103.80" cy="610.37" r="0.85" fill="#1d2b52"/><circle cx="103.80" cy="621.31" r="0.85" fill="#1d2b52"/><circle cx="103.80" cy="626.78" r="0.85" fill="#1d2b52"/><circle cx="103.80" cy="632.25" r="0.85" fill="#1d2b52"/><circle cx="103.80" cy="637.72" r="0.85" fill="#1d2b52"/>
<path d="M130.64,643.19V654.13M128.04,643.19h5.2" stroke="#222" stroke-width="0.9" fill="none"/><rect x="127.39" y="648.93" width="6.5" height="5.20" fill="#a5072c"/><line x1="127.39" y1="654.13" x2="133.89" y2="654.13" stroke="#111" stroke-width="1.1"/><circle cx="130.64" cy="550.20" r="0.85" fill="#1d2b52"/><circle cx="130.64" cy="588.49" r="0.85" fill="#1d2b52"/><circle cx="130.64" cy="593.96" r="0.85" fill="#1d2b52"/><circle cx="130.64" cy="599.43" r="0.85" fill="#1d2b52"/><circle cx="130.64" cy="615.84" r="0.85" fill="#1d2b52"/><circle cx="130.64" cy="621.31" r="0.85" fill="#1d2b52"/><circle cx="130.64" cy="626.78" r="0.85" fill="#1d2b52"/><circle cx="130.64" cy="632.25" r="0.85" fill="#1d2b52"/><circle cx="130.64" cy="637.72" r="0.85" fill="#1d2b52"/>
<path d="M157.48,654.13V654.13M154.88,654.13h5.2" stroke="#222" stroke-width="0.9" fill="none"/><line x1="154.23" y1="654.13" x2="160.73" y2="654.13" stroke="#111" stroke-width="1.1"/><circle cx="157.48" cy="550.20" r="0.85" fill="#1d2b52"/><circle cx="157.48" cy="588.49" r="0.85" fill="#1d2b52"/><circle cx="157.48" cy="593.96" r="0.85" fill="#1d2b52"/><circle cx="157.48" cy="599.43" r="0.85" fill="#1d2b52"/><circle cx="157.48" cy="610.37" r="0.85" fill="#1d2b52"/><circle cx="157.48" cy="621.31" r="0.85" fill="#1d2b52"/><circle cx="157.48" cy="626.78" r="0.85" fill="#1d2b52"/><circle cx="157.48" cy="632.25" r="0.85" fill="#1d2b52"/><circle cx="157.48" cy="637.72" r="0.85" fill="#1d2b52"/><circle cx="157.48" cy="643.19" r="0.85" fill="#1d2b52"/><circle cx="157.48" cy="648.66" r="0.85" fill="#1d2b52"/>
<path d="M184.31,643.19V654.13M181.71,643.19h5.2" stroke="#222" stroke-width="0.9" fill="none"/><rect x="181.06" y="648.93" width="6.5" height="5.20" fill="#a5072c"/><line x1="181.06" y1="654.13" x2="187.56" y2="654.13" stroke="#111" stroke-width="1.1"/><circle cx="184.31" cy="593.96" r="0.85" fill="#1d2b52"/><circle cx="184.31" cy="610.37" r="0.85" fill="#1d2b52"/><circle cx="184.31" cy="621.31" r="0.85" fill="#1d2b52"/><circle cx="184.31" cy="626.78" r="0.85" fill="#1d2b52"/><circle cx="184.31" cy="632.25" r="0.85" fill="#1d2b52"/><circle cx="184.31" cy="637.72" r="0.85" fill="#1d2b52"/>
<path d="M211.15,643.19V654.13M208.55,643.19h5.2" stroke="#222" stroke-width="0.9" fill="none"/><rect x="207.90" y="648.93" width="6.5" height="5.20" fill="#a5072c"/><line x1="207.90" y1="654.13" x2="214.40" y2="654.13" stroke="#111" stroke-width="1.1"/><circle cx="211.15" cy="550.20" r="0.85" fill="#1d2b52"/><circle cx="211.15" cy="577.55" r="0.85" fill="#1d2b52"/><circle cx="211.15" cy="588.49" r="0.85" fill="#1d2b52"/><circle cx="211.15" cy="593.96" r="0.85" fill="#1d2b52"/><circle cx="211.15" cy="599.43" r="0.85" fill="#1d2b52"/><circle cx="211.15" cy="604.90" r="0.85" fill="#1d2b52"/><circle cx="211.15" cy="610.37" r="0.85" fill="#1d2b52"/><circle cx="211.15" cy="615.84" r="0.85" fill="#1d2b52"/><circle cx="211.15" cy="621.31" r="0.85" fill="#1d2b52"/><circle cx="211.15" cy="626.78" r="0.85" fill="#1d2b52"/><circle cx="211.15" cy="632.25" r="0.85" fill="#1d2b52"/><circle cx="211.15" cy="637.72" r="0.85" fill="#1d2b52"/>
<path d="M237.98,643.19V654.13M235.38,643.19h5.2" stroke="#222" stroke-width="0.9" fill="none"/><rect x="234.73" y="648.93" width="6.5" height="5.20" fill="#a5072c"/><line x1="234.73" y1="654.13" x2="241.23" y2="654.13" stroke="#111" stroke-width="1.1"/><circle cx="237.98" cy="555.67" r="0.85" fill="#1d2b52"/><circle cx="237.98" cy="593.96" r="0.85" fill="#1d2b52"/><circle cx="237.98" cy="610.37" r="0.85" fill="#1d2b52"/><circle cx="237.98" cy="615.84" r="0.85" fill="#1d2b52"/><circle cx="237.98" cy="621.31" r="0.85" fill="#1d2b52"/><circle cx="237.98" cy="626.78" r="0.85" fill="#1d2b52"/><circle cx="237.98" cy="632.25" r="0.85" fill="#1d2b52"/><circle cx="237.98" cy="637.72" r="0.85" fill="#1d2b52"/>
<text transform="translate(80.4,667.6) rotate(-45)" font-size="6.9" text-anchor="end" fill="#111">Cryoprecipitate</text>
<text transform="translate(107.2,667.6) rotate(-45)" font-size="6.9" text-anchor="end" fill="#111">FFP</text>
<text transform="translate(134.0,667.6) rotate(-45)" font-size="6.9" text-anchor="end" fill="#111">PF24</text>
<text transform="translate(160.9,667.6) rotate(-45)" font-size="6.9" text-anchor="end" fill="#111">PLR</text>
<text transform="translate(187.7,667.6) rotate(-45)" font-size="6.9" text-anchor="end" fill="#111">PNLR</text>
<text transform="translate(214.5,667.6) rotate(-45)" font-size="6.9" text-anchor="end" fill="#111">RBC LR</text>
<text transform="translate(241.4,667.6) rotate(-45)" font-size="6.9" text-anchor="end" fill="#111">RBC NLR</text>
<text x="296.4" y="521.9" font-size="5.3" text-anchor="middle" font-weight="normal" fill="#222" >Median</text>
<text x="327.8" y="521.9" font-size="5.8" text-anchor="middle" font-weight="normal" fill="#222" >907</text>
<text x="356.3" y="521.9" font-size="5.8" text-anchor="middle" font-weight="normal" fill="#222" >303</text>
<text x="384.8" y="521.9" font-size="5.8" text-anchor="middle" font-weight="normal" fill="#222" >796</text>
<text x="413.3" y="521.9" font-size="5.8" text-anchor="middle" font-weight="normal" fill="#222" >275</text>
<text x="441.8" y="521.9" font-size="5.8" text-anchor="middle" font-weight="normal" fill="#222" >258</text>
<text x="470.3" y="521.9" font-size="5.8" text-anchor="middle" font-weight="normal" fill="#222" >314</text>
<text x="498.8" y="521.9" font-size="5.8" text-anchor="middle" font-weight="normal" fill="#222" >408</text>
<text x="296.4" y="531.4" font-size="5.3" text-anchor="middle" font-weight="normal" fill="#222" >IQR</text>
<text x="327.8" y="531.4" font-size="5.6" text-anchor="middle" fill="#222" textLength="27.5" lengthAdjust="spacingAndGlyphs">324 - 1360</text>
<text x="356.3" y="531.4" font-size="5.6" text-anchor="middle" fill="#222" textLength="27.5" lengthAdjust="spacingAndGlyphs">159 - 1012</text>
<text x="384.8" y="531.4" font-size="5.6" text-anchor="middle" fill="#222" textLength="27.5" lengthAdjust="spacingAndGlyphs">258 - 2039</text>
<text x="413.3" y="531.4" font-size="5.6" text-anchor="middle" fill="#222" textLength="27.5" lengthAdjust="spacingAndGlyphs">135 - 623</text>
<text x="441.8" y="531.4" font-size="5.6" text-anchor="middle" fill="#222" textLength="27.5" lengthAdjust="spacingAndGlyphs">168 - 303</text>
<text x="470.3" y="531.4" font-size="5.6" text-anchor="middle" fill="#222" textLength="27.5" lengthAdjust="spacingAndGlyphs">168 - 1325</text>
<text x="498.8" y="531.4" font-size="5.6" text-anchor="middle" fill="#222" textLength="27.5" lengthAdjust="spacingAndGlyphs">272 - 907</text>
<rect x="313.6" y="538.4" width="199.40" height="121.00" fill="none" stroke="#111" stroke-width="1"/>
<path d="M313.60,538.4V535.1M313.60,659.4V662.4M342.09,538.4V535.1M342.09,659.4V662.4M370.57,538.4V535.1M370.57,659.4V662.4M399.06,538.4V535.1M399.06,659.4V662.4M427.54,538.4V535.1M427.54,659.4V662.4M456.03,538.4V535.1M456.03,659.4V662.4M484.51,538.4V535.1M484.51,659.4V662.4M513.00,538.4V535.1M513.00,659.4V662.4M313.6,659.40H310.6M313.6,653.35H312.1M313.6,647.30H310.6M313.6,641.25H312.1M313.6,635.20H310.6M313.6,629.15H312.1M313.6,623.10H310.6M313.6,617.05H312.1M313.6,611.00H310.6M313.6,604.95H312.1M313.6,598.90H310.6M313.6,592.85H312.1M313.6,586.80H310.6M313.6,580.75H312.1M313.6,574.70H310.6M313.6,568.65H312.1M313.6,562.60H310.6M313.6,556.55H312.1M313.6,550.50H310.6M313.6,544.45H312.1M313.6,538.40H310.6" stroke="#111" stroke-width="0.8" fill="none"/>
<text x="308.3" y="661.8" font-size="6.9" text-anchor="end" font-weight="normal" fill="#222" >0</text>
<text x="308.3" y="649.7" font-size="6.9" text-anchor="end" font-weight="normal" fill="#222" >430</text>
<text x="308.3" y="637.6" font-size="6.9" text-anchor="end" font-weight="normal" fill="#222" >860</text>
<text x="308.3" y="625.5" font-size="6.9" text-anchor="end" font-weight="normal" fill="#222" >1290</text>
<text x="308.3" y="613.4" font-size="6.9" text-anchor="end" font-weight="normal" fill="#222" >1720</text>
<text x="308.3" y="601.3" font-size="6.9" text-anchor="end" font-weight="normal" fill="#222" >2150</text>
<text x="308.3" y="589.2" font-size="6.9" text-anchor="end" font-weight="normal" fill="#222" >2580</text>
<text x="308.3" y="577.1" font-size="6.9" text-anchor="end" font-weight="normal" fill="#222" >3010</text>
<text x="308.3" y="565.0" font-size="6.9" text-anchor="end" font-weight="normal" fill="#222" >3440</text>
<text x="308.3" y="552.9" font-size="6.9" text-anchor="end" font-weight="normal" fill="#222" >3870</text>
<text x="308.3" y="540.8" font-size="6.9" text-anchor="end" font-weight="normal" fill="#222" >4300</text>
<text transform="translate(287.2,599.2) rotate(-90)" font-size="7.0" text-anchor="middle" fill="#111" textLength="38" lengthAdjust="spacingAndGlyphs">Distance (km)</text>
<path d="M327.84,577.57V659.40M324.64,577.57h6.4M324.64,659.40h6.4" stroke="#222" stroke-width="0.9" fill="none"/><rect x="324.84" y="621.72" width="6.0" height="28.70" fill="#a5072c"/><line x1="324.84" y1="633.46" x2="330.84" y2="633.46" stroke="#111" stroke-width="1.1"/><circle cx="327.84" cy="547.90" r="0.85" fill="#1d2b52"/><circle cx="327.84" cy="549.18" r="0.85" fill="#1d2b52"/><circle cx="327.84" cy="550.46" r="0.85" fill="#1d2b52"/><circle cx="327.84" cy="551.74" r="0.85" fill="#1d2b52"/><circle cx="327.84" cy="553.02" r="0.85" fill="#1d2b52"/><circle cx="327.84" cy="554.30" r="0.85" fill="#1d2b52"/><circle cx="327.84" cy="556.90" r="0.85" fill="#1d2b52"/>
<path d="M356.33,604.25V659.40M353.13,604.25h6.4M353.13,659.40h6.4" stroke="#222" stroke-width="0.9" fill="none"/><rect x="353.33" y="631.20" width="6.0" height="23.22" fill="#a5072c"/><line x1="353.33" y1="651.16" x2="359.33" y2="651.16" stroke="#111" stroke-width="1.1"/><circle cx="356.33" cy="552.40" r="0.85" fill="#1d2b52"/><circle cx="356.33" cy="558.00" r="0.85" fill="#1d2b52"/><circle cx="356.33" cy="563.00" r="0.85" fill="#1d2b52"/><circle cx="356.33" cy="573.30" r="0.85" fill="#1d2b52"/><circle cx="356.33" cy="574.00" r="0.85" fill="#1d2b52"/>
<path d="M384.81,541.41V659.40M381.61,541.41h6.4M381.61,659.40h6.4" stroke="#222" stroke-width="0.9" fill="none"/><rect x="381.81" y="602.53" width="6.0" height="49.89" fill="#a5072c"/><line x1="381.81" y1="637.45" x2="387.81" y2="637.45" stroke="#111" stroke-width="1.1"/>
<path d="M413.30,621.72V659.40M410.10,621.72h6.4M410.10,659.40h6.4" stroke="#222" stroke-width="0.9" fill="none"/><rect x="410.30" y="641.93" width="6.0" height="13.48" fill="#a5072c"/><line x1="410.30" y1="651.91" x2="416.30" y2="651.91" stroke="#111" stroke-width="1.1"/><circle cx="413.30" cy="547.20" r="0.85" fill="#1d2b52"/><circle cx="413.30" cy="549.00" r="0.85" fill="#1d2b52"/><circle cx="413.30" cy="552.40" r="0.85" fill="#1d2b52"/><circle cx="413.30" cy="556.20" r="0.85" fill="#1d2b52"/><circle cx="413.30" cy="557.70" r="0.85" fill="#1d2b52"/><circle cx="413.30" cy="562.00" r="0.85" fill="#1d2b52"/><circle cx="413.30" cy="567.00" r="0.85" fill="#1d2b52"/><circle cx="413.30" cy="568.20" r="0.85" fill="#1d2b52"/><circle cx="413.30" cy="569.40" r="0.85" fill="#1d2b52"/><circle cx="413.30" cy="572.40" r="0.85" fill="#1d2b52"/><circle cx="413.30" cy="574.20" r="0.85" fill="#1d2b52"/><circle cx="413.30" cy="579.20" r="0.85" fill="#1d2b52"/><circle cx="413.30" cy="585.20" r="0.85" fill="#1d2b52"/><circle cx="413.30" cy="589.80" r="0.85" fill="#1d2b52"/><circle cx="413.30" cy="591.00" r="0.85" fill="#1d2b52"/><circle cx="413.30" cy="592.20" r="0.85" fill="#1d2b52"/><circle cx="413.30" cy="594.60" r="0.85" fill="#1d2b52"/><circle cx="413.30" cy="596.40" r="0.85" fill="#1d2b52"/><circle cx="413.30" cy="598.80" r="0.85" fill="#1d2b52"/><circle cx="413.30" cy="601.80" r="0.85" fill="#1d2b52"/><circle cx="413.30" cy="604.40" r="0.85" fill="#1d2b52"/><circle cx="413.30" cy="608.30" r="0.85" fill="#1d2b52"/><circle cx="413.30" cy="612.00" r="0.85" fill="#1d2b52"/><circle cx="413.30" cy="613.19" r="0.85" fill="#1d2b52"/><circle cx="413.30" cy="614.37" r="0.85" fill="#1d2b52"/><circle cx="413.30" cy="615.56" r="0.85" fill="#1d2b52"/><circle cx="413.30" cy="616.74" r="0.85" fill="#1d2b52"/><circle cx="413.30" cy="617.93" r="0.85" fill="#1d2b52"/><circle cx="413.30" cy="619.11" r="0.85" fill="#1d2b52"/><circle cx="413.30" cy="620.30" r="0.85" fill="#1d2b52"/>
<path d="M441.79,645.44V656.90M438.59,645.44h6.4M438.59,656.90h6.4" stroke="#222" stroke-width="0.9" fill="none"/><rect x="438.79" y="651.16" width="6.0" height="3.74" fill="#a5072c"/><line x1="438.79" y1="652.65" x2="444.79" y2="652.65" stroke="#111" stroke-width="1.1"/><circle cx="441.79" cy="611.76" r="0.85" fill="#1d2b52"/><circle cx="441.79" cy="635.45" r="0.85" fill="#1d2b52"/>
<path d="M470.27,573.32V659.40M467.07,573.32h6.4M467.07,659.40h6.4" stroke="#222" stroke-width="0.9" fill="none"/><rect x="467.27" y="622.48" width="6.0" height="31.94" fill="#a5072c"/><line x1="467.27" y1="650.42" x2="473.27" y2="650.42" stroke="#111" stroke-width="1.1"/><circle cx="470.27" cy="542.30" r="0.85" fill="#1d2b52"/><circle cx="470.27" cy="543.50" r="0.85" fill="#1d2b52"/><circle cx="470.27" cy="544.70" r="0.85" fill="#1d2b52"/><circle cx="470.27" cy="545.90" r="0.85" fill="#1d2b52"/><circle cx="470.27" cy="547.10" r="0.85" fill="#1d2b52"/><circle cx="470.27" cy="548.30" r="0.85" fill="#1d2b52"/><circle cx="470.27" cy="549.50" r="0.85" fill="#1d2b52"/><circle cx="470.27" cy="550.70" r="0.85" fill="#1d2b52"/><circle cx="470.27" cy="551.90" r="0.85" fill="#1d2b52"/><circle cx="470.27" cy="553.10" r="0.85" fill="#1d2b52"/><circle cx="470.27" cy="554.30" r="0.85" fill="#1d2b52"/><circle cx="470.27" cy="555.50" r="0.85" fill="#1d2b52"/><circle cx="470.27" cy="556.70" r="0.85" fill="#1d2b52"/><circle cx="470.27" cy="557.90" r="0.85" fill="#1d2b52"/><circle cx="470.27" cy="559.10" r="0.85" fill="#1d2b52"/><circle cx="470.27" cy="560.30" r="0.85" fill="#1d2b52"/><circle cx="470.27" cy="561.50" r="0.85" fill="#1d2b52"/><circle cx="470.27" cy="564.30" r="0.85" fill="#1d2b52"/><circle cx="470.27" cy="566.60" r="0.85" fill="#1d2b52"/><circle cx="470.27" cy="568.00" r="0.85" fill="#1d2b52"/><circle cx="470.27" cy="569.40" r="0.85" fill="#1d2b52"/>
<path d="M498.76,607.51V659.40M495.56,607.51h6.4M495.56,659.40h6.4" stroke="#222" stroke-width="0.9" fill="none"/><rect x="495.76" y="634.22" width="6.0" height="17.70" fill="#a5072c"/><line x1="495.76" y1="647.41" x2="501.76" y2="647.41" stroke="#111" stroke-width="1.1"/><circle cx="498.76" cy="549.10" r="0.85" fill="#1d2b52"/><circle cx="498.76" cy="555.90" r="0.85" fill="#1d2b52"/><circle cx="498.76" cy="557.40" r="0.85" fill="#1d2b52"/><circle cx="498.76" cy="558.90" r="0.85" fill="#1d2b52"/><circle cx="498.76" cy="592.00" r="0.85" fill="#1d2b52"/><circle cx="498.76" cy="597.60" r="0.85" fill="#1d2b52"/><circle cx="498.76" cy="599.30" r="0.85" fill="#1d2b52"/><circle cx="498.76" cy="601.00" r="0.85" fill="#1d2b52"/><circle cx="498.76" cy="602.70" r="0.85" fill="#1d2b52"/><circle cx="498.76" cy="605.00" r="0.85" fill="#1d2b52"/>
<text transform="translate(331.2,669.0) rotate(-45)" font-size="6.9" text-anchor="end" fill="#111">Cryoprecipitate</text>
<text transform="translate(359.7,669.0) rotate(-45)" font-size="6.9" text-anchor="end" fill="#111">FFP</text>
<text transform="translate(388.2,669.0) rotate(-45)" font-size="6.9" text-anchor="end" fill="#111">PF24</text>
<text transform="translate(416.7,669.0) rotate(-45)" font-size="6.9" text-anchor="end" fill="#111">PLR</text>
<text transform="translate(445.2,669.0) rotate(-45)" font-size="6.9" text-anchor="end" fill="#111">PNLR</text>
<text transform="translate(473.7,669.0) rotate(-45)" font-size="6.9" text-anchor="end" fill="#111">RBC LR</text>
<text transform="translate(502.2,669.0) rotate(-45)" font-size="6.9" text-anchor="end" fill="#111">RBC NLR</text>
<rect x="0.6" y="0.6" width="518.8" height="707.8" fill="none" stroke="#000" stroke-width="1.2"/>
</svg>
</body></html>
